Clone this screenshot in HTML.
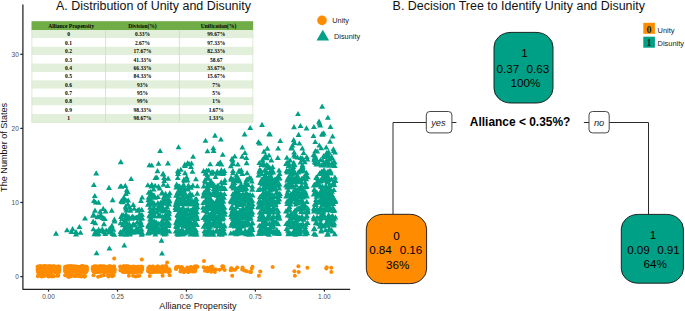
<!DOCTYPE html>
<html><head><meta charset="utf-8"><style>
html,body{margin:0;padding:0;background:#fff;}
svg{display:block;}
svg{font-family:"Liberation Sans",sans-serif;}
</style></head><body>
<svg width="685" height="311" viewBox="0 0 685 311">
<rect width="685" height="311" fill="#fff"/>
<text x="56" y="9.6" font-size="12.45" fill="#111">A. Distribution of Unity and Disunity</text>
<text x="392.6" y="9.9" font-size="12.45" fill="#111">B. Decision Tree to Identify Unity and Disunity</text>
<g fill="#00A087"><path d="M67.0 227.2L70.0 232.3L64.0 232.3ZM72.6 226.1L75.5 231.2L69.6 231.2ZM76.0 229.0L79.0 234.1L73.0 234.1ZM79.4 223.9L82.4 229.0L76.5 229.0ZM80.5 229.7L83.5 234.8L77.5 234.8ZM76.0 231.3L79.0 236.4L73.0 236.4ZM85.0 215.5L88.0 220.6L82.0 220.6ZM71.5 229.0L74.5 234.1L68.5 234.1ZM96.2 170.3L99.2 175.4L93.2 175.4ZM109.0 184.8L112.0 189.9L106.0 189.9ZM112.6 197.1L115.6 202.2L109.7 202.2ZM110.0 227.5L113.0 232.6L107.1 232.6ZM114.4 216.6L117.3 221.7L111.4 221.7ZM109.3 226.1L112.3 231.2L106.4 231.2ZM99.2 213.4L102.2 218.5L96.3 218.5ZM95.0 207.6L97.9 212.7L92.0 212.7ZM95.4 228.9L98.3 234.0L92.4 234.0ZM97.9 230.9L100.9 236.0L95.0 236.0ZM92.9 212.6L95.9 217.7L90.0 217.7ZM93.4 226.2L96.4 231.3L90.5 231.3ZM113.3 226.6L116.2 231.7L110.3 231.7ZM95.7 199.4L98.7 204.5L92.8 204.5ZM113.1 226.7L116.1 231.8L110.2 231.8ZM102.6 214.9L105.6 220.0L99.7 220.0ZM103.2 205.8L106.1 210.9L100.2 210.9ZM97.5 231.4L100.5 236.5L94.6 236.5ZM104.9 216.0L107.8 221.1L101.9 221.1ZM98.5 199.6L101.5 204.7L95.6 204.7ZM98.6 226.7L101.6 231.8L95.7 231.8ZM96.3 228.8L99.3 233.9L93.4 233.9ZM112.6 231.0L115.5 236.1L109.6 236.1ZM93.9 181.9L96.8 187.0L90.9 187.0ZM97.3 214.1L100.3 219.2L94.4 219.2ZM98.3 230.5L101.3 235.6L95.4 235.6ZM114.5 218.4L117.5 223.5L111.6 223.5ZM94.8 192.9L97.7 198.0L91.8 198.0ZM93.9 197.8L96.9 202.9L91.0 202.9ZM114.2 231.6L117.2 236.7L111.3 236.7ZM100.2 208.6L103.1 213.7L97.2 213.7ZM111.0 228.6L114.0 233.7L108.1 233.7ZM102.3 226.3L105.2 231.4L99.3 231.4ZM105.3 230.9L108.2 236.0L102.3 236.0ZM109.6 227.5L112.6 232.6L106.7 232.6ZM94.4 231.2L97.3 236.3L91.4 236.3ZM103.6 215.3L106.5 220.4L100.6 220.4ZM106.2 227.5L109.1 232.6L103.2 232.6ZM105.5 208.3L108.5 213.4L102.6 213.4ZM108.8 229.3L111.8 234.4L105.9 234.4ZM93.9 212.1L96.8 217.2L90.9 217.2ZM111.2 226.6L114.2 231.7L108.3 231.7ZM93.0 218.9L95.9 224.0L90.0 224.0ZM111.9 222.7L114.8 227.8L108.9 227.8ZM111.0 229.5L113.9 234.6L108.0 234.6ZM100.8 228.2L103.8 233.3L97.9 233.3ZM104.1 229.1L107.1 234.2L101.2 234.2ZM95.3 220.1L98.3 225.2L92.4 225.2ZM111.7 207.6L114.7 212.7L108.8 212.7ZM101.1 212.4L104.0 217.5L98.1 217.5ZM111.9 226.0L114.9 231.1L109.0 231.1ZM104.0 221.1L106.9 226.2L101.0 226.2ZM93.1 218.6L96.1 223.7L90.2 223.7ZM120.8 159.1L123.8 164.2L117.8 164.2ZM131.1 175.9L134.0 181.0L128.2 181.0ZM123.7 219.3L126.7 224.4L120.8 224.4ZM139.5 220.7L142.5 225.8L136.6 225.8ZM127.5 230.4L130.5 235.5L124.6 235.5ZM133.2 201.8L136.2 206.9L130.3 206.9ZM128.2 228.9L131.2 234.0L125.3 234.0ZM128.8 214.8L131.7 219.9L125.8 219.9ZM133.0 229.7L136.0 234.8L130.1 234.8ZM130.4 225.9L133.3 231.0L127.4 231.0ZM123.5 227.7L126.4 232.8L120.5 232.8ZM126.3 228.7L129.2 233.8L123.3 233.8ZM132.8 228.6L135.7 233.7L129.8 233.7ZM142.1 194.5L145.1 199.6L139.2 199.6ZM137.2 219.1L140.2 224.2L134.3 224.2ZM134.2 205.7L137.2 210.8L131.3 210.8ZM126.4 219.6L129.4 224.7L123.5 224.7ZM141.0 198.0L143.9 203.1L138.0 203.1ZM137.1 227.3L140.0 232.4L134.1 232.4ZM134.3 222.2L137.2 227.3L131.3 227.3ZM129.2 223.9L132.1 229.0L126.2 229.0ZM127.4 225.8L130.3 230.9L124.4 230.9ZM128.3 222.9L131.3 228.0L125.4 228.0ZM127.9 230.9L130.9 236.0L125.0 236.0ZM139.5 229.0L142.4 234.1L136.5 234.1ZM132.8 222.5L135.7 227.6L129.8 227.6ZM121.7 229.9L124.6 235.0L118.7 235.0ZM136.3 228.4L139.2 233.5L133.3 233.5ZM127.7 189.2L130.7 194.3L124.8 194.3ZM122.0 215.8L125.0 220.9L119.1 220.9ZM142.0 214.8L145.0 219.9L139.1 219.9ZM129.7 204.3L132.6 209.4L126.7 209.4ZM130.9 226.4L133.9 231.5L128.0 231.5ZM125.9 231.6L128.9 236.7L123.0 236.7ZM126.2 227.5L129.1 232.6L123.2 232.6ZM129.1 230.5L132.0 235.6L126.1 235.6ZM139.3 213.0L142.3 218.1L136.4 218.1ZM136.4 226.0L139.4 231.1L133.5 231.1ZM122.0 212.1L124.9 217.2L119.0 217.2ZM127.8 201.3L130.7 206.4L124.8 206.4ZM132.1 226.5L135.0 231.6L129.1 231.6ZM140.6 215.6L143.6 220.7L137.7 220.7ZM136.8 227.9L139.7 233.0L133.8 233.0ZM135.2 222.3L138.2 227.4L132.3 227.4ZM129.4 231.4L132.3 236.5L126.4 236.5ZM127.6 214.0L130.6 219.1L124.7 219.1ZM125.9 214.1L128.9 219.2L123.0 219.2ZM140.7 228.4L143.6 233.5L137.7 233.5ZM121.5 183.6L124.4 188.7L118.5 188.7ZM127.5 216.3L130.4 221.4L124.5 221.4ZM123.4 227.2L126.3 232.3L120.4 232.3ZM138.2 229.2L141.2 234.3L135.3 234.3ZM133.2 221.0L136.2 226.1L130.3 226.1ZM133.5 214.9L136.5 220.0L130.6 220.0ZM125.9 205.3L128.9 210.4L123.0 210.4ZM137.4 207.6L140.3 212.7L134.4 212.7ZM141.8 206.8L144.8 211.9L138.9 211.9ZM131.8 226.1L134.7 231.2L128.8 231.2ZM120.4 228.9L123.4 234.0L117.5 234.0ZM137.3 214.7L140.3 219.8L134.4 219.8ZM125.3 182.8L128.2 187.9L122.3 187.9ZM120.9 230.9L123.8 236.0L117.9 236.0ZM131.3 228.4L134.3 233.5L128.4 233.5ZM141.0 229.5L143.9 234.6L138.0 234.6ZM124.2 227.3L127.1 232.4L121.2 232.4ZM123.8 194.5L126.8 199.6L120.9 199.6ZM125.6 203.7L128.5 208.8L122.6 208.8ZM134.3 222.3L137.2 227.4L131.3 227.4ZM130.4 207.6L133.3 212.7L127.4 212.7ZM122.6 197.7L125.6 202.8L119.7 202.8ZM134.5 229.3L137.4 234.4L131.5 234.4ZM121.6 198.7L124.5 203.8L118.6 203.8ZM140.5 218.7L143.5 223.8L137.6 223.8ZM125.2 215.4L128.1 220.5L122.2 220.5ZM129.8 230.3L132.8 235.4L126.9 235.4ZM137.0 227.9L139.9 233.0L134.0 233.0ZM142.2 230.4L145.1 235.5L139.2 235.5ZM123.7 219.2L126.6 224.3L120.7 224.3ZM126.1 197.6L129.1 202.7L123.2 202.7ZM126.5 207.5L129.4 212.6L123.5 212.6ZM139.9 223.3L142.8 228.4L136.9 228.4ZM133.4 214.2L136.4 219.3L130.5 219.3ZM139.7 215.6L142.7 220.7L136.8 220.7ZM128.2 197.4L131.1 202.5L125.2 202.5ZM124.3 196.9L127.2 202.0L121.3 202.0ZM126.8 187.1L129.8 192.2L123.9 192.2ZM141.7 231.6L144.7 236.7L138.8 236.7ZM123.6 197.7L126.5 202.8L120.6 202.8ZM124.0 227.7L126.9 232.8L121.0 232.8ZM127.7 226.3L130.7 231.4L124.8 231.4ZM139.7 211.1L142.7 216.2L136.8 216.2ZM125.4 227.0L128.4 232.1L122.5 232.1ZM121.1 213.9L124.0 219.0L118.1 219.0ZM129.7 231.1L132.7 236.2L126.8 236.2ZM142.1 229.8L145.1 234.9L139.2 234.9ZM122.9 199.2L125.8 204.3L119.9 204.3ZM129.7 230.6L132.6 235.7L126.7 235.7ZM123.5 212.5L126.4 217.6L120.5 217.6ZM122.7 222.2L125.7 227.3L119.8 227.3ZM140.5 222.2L143.5 227.3L137.6 227.3ZM141.6 226.5L144.5 231.6L138.6 231.6ZM126.3 215.8L129.2 220.9L123.3 220.9ZM121.8 231.4L124.7 236.5L118.8 236.5ZM129.2 221.0L132.2 226.1L126.3 226.1ZM120.5 220.2L123.4 225.3L117.5 225.3ZM132.2 213.6L135.2 218.7L129.3 218.7ZM141.9 211.7L144.9 216.8L139.0 216.8ZM129.0 215.0L132.0 220.1L126.1 220.1ZM141.7 222.0L144.7 227.1L138.8 227.1ZM129.3 223.4L132.2 228.5L126.3 228.5ZM120.3 183.6L123.3 188.7L117.4 188.7ZM125.9 191.0L128.8 196.1L122.9 196.1ZM125.5 223.1L128.5 228.2L122.6 228.2ZM138.8 227.1L141.8 232.2L135.9 232.2ZM121.3 197.9L124.3 203.0L118.4 203.0ZM134.5 228.4L137.4 233.5L131.5 233.5ZM141.7 231.7L144.6 236.8L138.7 236.8ZM139.1 206.4L142.0 211.5L136.1 211.5ZM142.2 215.5L145.1 220.6L139.2 220.6ZM136.6 214.6L139.6 219.7L133.7 219.7ZM128.9 213.8L131.9 218.9L126.0 218.9ZM135.2 215.0L138.1 220.1L132.2 220.1ZM132.2 215.6L135.2 220.7L129.3 220.7ZM126.1 211.5L129.0 216.6L123.1 216.6ZM160.1 147.9L163.0 153.0L157.2 153.0ZM158.5 160.7L161.4 165.8L155.6 165.8ZM151.4 220.9L154.3 226.0L148.4 226.0ZM165.3 192.6L168.3 197.7L162.4 197.7ZM159.2 226.5L162.2 231.6L156.3 231.6ZM164.1 223.3L167.1 228.4L161.2 228.4ZM149.0 222.5L152.0 227.6L146.1 227.6ZM169.2 211.2L172.1 216.3L166.2 216.3ZM154.7 218.7L157.6 223.8L151.7 223.8ZM154.9 221.7L157.9 226.8L152.0 226.8ZM153.6 229.4L156.5 234.5L150.6 234.5ZM169.1 215.3L172.0 220.4L166.1 220.4ZM167.9 221.6L170.8 226.7L164.9 226.7ZM161.9 190.0L164.8 195.1L158.9 195.1ZM151.2 219.8L154.1 224.9L148.2 224.9ZM160.2 212.9L163.1 218.0L157.2 218.0ZM153.9 199.9L156.9 205.0L151.0 205.0ZM159.5 185.5L162.5 190.6L156.6 190.6ZM153.6 204.9L156.5 210.0L150.6 210.0ZM166.1 228.3L169.0 233.4L163.1 233.4ZM168.6 215.3L171.5 220.4L165.6 220.4ZM149.4 221.0L152.3 226.1L146.4 226.1ZM162.8 199.6L165.7 204.7L159.8 204.7ZM150.3 192.8L153.2 197.9L147.3 197.9ZM169.2 198.3L172.1 203.4L166.2 203.4ZM164.9 199.7L167.9 204.8L162.0 204.8ZM164.2 177.8L167.2 182.9L161.3 182.9ZM165.6 214.8L168.6 219.9L162.7 219.9ZM167.1 221.1L170.0 226.2L164.1 226.2ZM162.6 204.1L165.5 209.2L159.6 209.2ZM155.3 231.3L158.3 236.4L152.4 236.4ZM158.9 211.8L161.9 216.9L156.0 216.9ZM160.6 199.7L163.5 204.8L157.6 204.8ZM153.9 204.5L156.8 209.6L150.9 209.6ZM166.3 193.8L169.3 198.9L163.4 198.9ZM164.5 199.1L167.4 204.2L161.5 204.2ZM167.7 182.8L170.6 187.9L164.7 187.9ZM162.1 189.4L165.1 194.5L159.2 194.5ZM163.4 227.5L166.3 232.6L160.4 232.6ZM153.9 209.1L156.8 214.2L150.9 214.2ZM166.0 207.9L169.0 213.0L163.1 213.0ZM152.8 223.7L155.7 228.8L149.8 228.8ZM169.3 197.3L172.3 202.4L166.4 202.4ZM163.3 216.5L166.2 221.6L160.3 221.6ZM155.0 194.6L158.0 199.7L152.1 199.7ZM150.9 207.8L153.8 212.9L147.9 212.9ZM157.7 228.4L160.6 233.5L154.7 233.5ZM148.7 189.7L151.6 194.8L145.7 194.8ZM152.8 228.0L155.7 233.1L149.8 233.1ZM155.1 213.5L158.1 218.6L152.2 218.6ZM165.3 223.1L168.3 228.2L162.4 228.2ZM165.7 191.5L168.6 196.6L162.7 196.6ZM165.0 231.5L167.9 236.6L162.0 236.6ZM157.2 209.1L160.1 214.2L154.2 214.2ZM163.8 206.0L166.8 211.1L160.9 211.1ZM159.1 213.4L162.1 218.5L156.2 218.5ZM167.0 218.4L169.9 223.5L164.0 223.5ZM169.0 192.7L172.0 197.8L166.1 197.8ZM149.4 162.2L152.3 167.3L146.4 167.3ZM157.8 227.7L160.8 232.8L154.9 232.8ZM157.9 200.0L160.8 205.1L154.9 205.1ZM156.7 222.6L159.7 227.7L153.8 227.7ZM164.1 221.2L167.0 226.3L161.1 226.3ZM152.2 212.7L155.1 217.8L149.2 217.8ZM153.7 221.0L156.6 226.1L150.7 226.1ZM169.3 197.6L172.3 202.7L166.4 202.7ZM168.1 175.6L171.1 180.7L165.2 180.7ZM149.2 200.8L152.2 205.9L146.3 205.9ZM166.9 227.4L169.8 232.5L163.9 232.5ZM153.6 207.4L156.6 212.5L150.7 212.5ZM161.8 218.4L164.7 223.5L158.8 223.5ZM148.8 223.3L151.8 228.4L145.9 228.4ZM167.7 212.1L170.6 217.2L164.7 217.2ZM150.1 216.3L153.0 221.4L147.1 221.4ZM165.0 228.9L167.9 234.0L162.0 234.0ZM167.9 160.3L170.9 165.4L165.0 165.4ZM166.0 216.1L168.9 221.2L163.0 221.2ZM160.3 228.7L163.2 233.8L157.3 233.8ZM153.4 224.2L156.3 229.3L150.4 229.3ZM163.5 181.6L166.4 186.7L160.5 186.7ZM157.5 168.1L160.4 173.2L154.5 173.2ZM165.7 211.9L168.7 217.0L162.8 217.0ZM148.1 230.4L151.1 235.5L145.2 235.5ZM156.2 209.4L159.1 214.5L153.2 214.5ZM165.2 191.9L168.1 197.0L162.2 197.0ZM167.4 228.5L170.4 233.6L164.5 233.6ZM155.0 228.0L157.9 233.1L152.0 233.1ZM158.5 183.5L161.5 188.6L155.6 188.6ZM153.2 218.9L156.1 224.0L150.2 224.0ZM150.1 213.4L153.1 218.5L147.2 218.5ZM152.2 229.0L155.2 234.1L149.3 234.1ZM161.9 205.3L164.8 210.4L158.9 210.4ZM149.3 212.6L152.3 217.7L146.4 217.7ZM158.2 229.3L161.2 234.4L155.3 234.4ZM163.6 200.6L166.5 205.7L160.6 205.7ZM163.1 199.3L166.0 204.4L160.1 204.4ZM167.9 228.2L170.8 233.3L164.9 233.3ZM153.1 225.9L156.0 231.0L150.1 231.0ZM156.5 219.6L159.4 224.7L153.5 224.7ZM161.8 190.3L164.8 195.4L158.9 195.4ZM149.9 225.9L152.8 231.0L146.9 231.0ZM148.7 194.4L151.6 199.5L145.7 199.5ZM168.4 223.0L171.3 228.1L165.4 228.1ZM168.4 198.3L171.3 203.4L165.4 203.4ZM153.6 186.3L156.6 191.4L150.7 191.4ZM164.5 231.1L167.5 236.2L161.6 236.2ZM163.5 171.3L166.4 176.4L160.5 176.4ZM151.4 191.6L154.4 196.7L148.5 196.7ZM165.2 226.4L168.1 231.5L162.2 231.5ZM147.9 182.2L150.8 187.3L144.9 187.3ZM166.0 206.5L168.9 211.6L163.0 211.6ZM160.9 204.7L163.9 209.8L158.0 209.8ZM149.0 228.5L152.0 233.6L146.1 233.6ZM156.6 224.2L159.5 229.3L153.6 229.3ZM148.4 197.1L151.3 202.2L145.4 202.2ZM157.9 193.9L160.9 199.0L155.0 199.0ZM152.4 199.5L155.3 204.6L149.4 204.6ZM169.4 228.5L172.3 233.6L166.4 233.6ZM149.9 212.6L152.8 217.7L146.9 217.7ZM166.5 194.1L169.5 199.2L163.6 199.2ZM154.5 212.4L157.5 217.5L151.6 217.5ZM161.2 225.9L164.2 231.0L158.3 231.0ZM148.0 201.6L150.9 206.7L145.0 206.7ZM163.1 228.2L166.1 233.3L160.2 233.3ZM157.9 207.1L160.8 212.2L154.9 212.2ZM162.1 204.0L165.1 209.1L159.2 209.1ZM165.4 196.7L168.4 201.8L162.5 201.8ZM163.6 194.5L166.6 199.6L160.7 199.6ZM166.6 199.5L169.5 204.6L163.6 204.6ZM151.8 181.7L154.7 186.8L148.8 186.8ZM163.4 215.4L166.4 220.5L160.5 220.5ZM155.5 222.4L158.5 227.5L152.6 227.5ZM157.6 225.9L160.5 231.0L154.6 231.0ZM168.4 197.5L171.3 202.6L165.4 202.6ZM169.8 190.2L172.7 195.3L166.8 195.3ZM153.3 221.8L156.3 226.9L150.4 226.9ZM152.9 226.5L155.9 231.6L150.0 231.6ZM155.1 182.7L158.0 187.8L152.1 187.8ZM167.5 197.4L170.4 202.5L164.5 202.5ZM150.1 204.6L153.1 209.7L147.2 209.7ZM161.7 222.1L164.6 227.2L158.7 227.2ZM169.1 208.5L172.1 213.6L166.2 213.6ZM162.2 206.3L165.1 211.4L159.2 211.4ZM156.8 174.4L159.8 179.5L153.9 179.5ZM169.2 201.5L172.1 206.6L166.2 206.6ZM154.2 218.9L157.1 224.0L151.2 224.0ZM153.6 227.5L156.5 232.6L150.6 232.6ZM151.7 162.4L154.7 167.5L148.8 167.5ZM163.1 197.6L166.0 202.7L160.1 202.7ZM153.3 200.5L156.3 205.6L150.4 205.6ZM163.1 230.5L166.0 235.6L160.1 235.6ZM169.1 220.5L172.1 225.6L166.2 225.6ZM162.3 205.9L165.3 211.0L159.4 211.0ZM154.5 201.7L157.5 206.8L151.6 206.8ZM148.1 229.6L151.1 234.7L145.2 234.7ZM150.3 228.8L153.3 233.9L147.4 233.9ZM163.0 170.8L165.9 175.9L160.0 175.9ZM151.8 201.5L154.7 206.6L148.8 206.6ZM156.9 220.2L159.8 225.3L153.9 225.3ZM163.9 216.3L166.8 221.4L160.9 221.4ZM155.4 174.9L158.3 180.0L152.4 180.0ZM166.1 230.4L169.1 235.5L163.2 235.5ZM165.5 190.7L168.5 195.8L162.6 195.8ZM148.0 223.2L151.0 228.3L145.1 228.3ZM151.3 183.3L154.3 188.4L148.4 188.4ZM162.4 208.4L165.4 213.5L159.5 213.5ZM150.0 225.9L152.9 231.0L147.0 231.0ZM162.2 213.5L165.2 218.6L159.3 218.6ZM149.3 224.2L152.2 229.3L146.3 229.3ZM150.7 188.9L153.6 194.0L147.7 194.0ZM163.8 216.1L166.7 221.2L160.8 221.2ZM153.4 192.5L156.3 197.6L150.4 197.6ZM150.3 208.0L153.2 213.1L147.3 213.1ZM154.1 192.4L157.1 197.5L151.2 197.5ZM152.8 200.9L155.7 206.0L149.8 206.0ZM156.3 222.1L159.3 227.2L153.4 227.2ZM158.2 204.3L161.2 209.4L155.3 209.4ZM162.5 226.7L165.4 231.8L159.5 231.8ZM148.5 221.7L151.4 226.8L145.5 226.8ZM158.0 227.5L160.9 232.6L155.0 232.6ZM150.4 228.9L153.4 234.0L147.5 234.0ZM152.9 221.7L155.9 226.8L150.0 226.8ZM149.3 229.6L152.3 234.7L146.4 234.7ZM168.5 213.6L171.4 218.7L165.5 218.7ZM152.7 227.3L155.7 232.4L149.8 232.4ZM167.0 203.8L170.0 208.9L164.1 208.9ZM150.3 189.1L153.2 194.2L147.3 194.2ZM153.1 208.5L156.1 213.6L150.2 213.6ZM152.5 194.2L155.5 199.3L149.6 199.3ZM168.2 221.6L171.2 226.7L165.3 226.7ZM149.5 199.4L152.4 204.5L146.5 204.5ZM152.4 220.4L155.3 225.5L149.4 225.5ZM150.5 211.0L153.4 216.1L147.5 216.1ZM151.8 216.8L154.7 221.9L148.8 221.9ZM159.2 201.9L162.1 207.0L156.2 207.0ZM164.2 213.7L167.1 218.8L161.2 218.8ZM158.8 220.7L161.8 225.8L155.9 225.8ZM151.0 197.3L154.0 202.4L148.1 202.4ZM164.2 174.8L167.1 179.9L161.2 179.9ZM178.5 144.2L181.4 149.3L175.6 149.3ZM193.1 153.7L196.0 158.8L190.2 158.8ZM196.7 231.4L199.6 236.5L193.7 236.5ZM192.4 223.5L195.3 228.6L189.4 228.6ZM177.0 230.7L179.9 235.8L174.0 235.8ZM193.8 208.5L196.8 213.6L190.9 213.6ZM192.3 221.8L195.2 226.9L189.3 226.9ZM178.1 215.4L181.1 220.5L175.2 220.5ZM178.0 170.9L180.9 176.0L175.0 176.0ZM195.1 196.7L198.0 201.8L192.1 201.8ZM196.5 213.3L199.5 218.4L193.6 218.4ZM185.7 220.0L188.6 225.1L182.7 225.1ZM178.3 200.9L181.2 206.0L175.3 206.0ZM177.8 175.0L180.7 180.1L174.8 180.1ZM180.9 215.4L183.8 220.5L177.9 220.5ZM197.3 216.0L200.2 221.1L194.3 221.1ZM182.5 193.6L185.5 198.7L179.6 198.7ZM183.0 201.0L185.9 206.1L180.0 206.1ZM193.5 211.8L196.5 216.9L190.6 216.9ZM175.6 204.9L178.6 210.0L172.7 210.0ZM195.3 203.8L198.2 208.9L192.3 208.9ZM194.1 219.4L197.1 224.5L191.2 224.5ZM183.5 222.1L186.4 227.2L180.5 227.2ZM183.8 216.2L186.7 221.3L180.8 221.3ZM195.5 221.9L198.4 227.0L192.5 227.0ZM195.0 205.0L197.9 210.1L192.0 210.1ZM195.7 219.5L198.7 224.6L192.8 224.6ZM191.5 160.5L194.4 165.6L188.5 165.6ZM181.0 190.8L184.0 195.9L178.1 195.9ZM193.9 216.1L196.9 221.2L191.0 221.2ZM182.8 204.6L185.8 209.7L179.9 209.7ZM194.0 211.9L197.0 217.0L191.1 217.0ZM178.5 189.1L181.4 194.2L175.5 194.2ZM190.4 198.2L193.3 203.3L187.4 203.3ZM194.6 228.5L197.6 233.6L191.7 233.6ZM182.9 212.2L185.9 217.3L180.0 217.3ZM194.6 200.8L197.6 205.9L191.7 205.9ZM180.9 216.3L183.9 221.4L178.0 221.4ZM176.0 219.6L178.9 224.7L173.0 224.7ZM177.0 223.9L179.9 229.0L174.0 229.0ZM179.8 199.3L182.7 204.4L176.8 204.4ZM193.1 211.2L196.1 216.3L190.2 216.3ZM189.4 219.0L192.3 224.1L186.4 224.1ZM195.3 212.5L198.2 217.6L192.3 217.6ZM194.7 220.9L197.7 226.0L191.8 226.0ZM188.4 226.8L191.3 231.9L185.4 231.9ZM186.1 207.0L189.0 212.1L183.1 212.1ZM190.1 193.4L193.1 198.5L187.2 198.5ZM183.4 211.2L186.4 216.3L180.5 216.3ZM178.2 196.6L181.1 201.7L175.2 201.7ZM188.5 229.1L191.4 234.2L185.5 234.2ZM184.9 201.5L187.8 206.6L181.9 206.6ZM193.5 204.8L196.5 209.9L190.6 209.9ZM180.3 212.5L183.3 217.6L177.4 217.6ZM180.2 189.4L183.2 194.5L177.3 194.5ZM185.0 162.8L187.9 167.9L182.0 167.9ZM195.9 200.9L198.9 206.0L193.0 206.0ZM182.7 220.0L185.6 225.1L179.7 225.1ZM187.5 221.3L190.4 226.4L184.5 226.4ZM178.6 196.4L181.5 201.5L175.6 201.5ZM187.8 160.3L190.7 165.4L184.8 165.4ZM195.5 221.0L198.5 226.1L192.6 226.1ZM194.6 199.9L197.5 205.0L191.6 205.0ZM180.0 187.1L182.9 192.2L177.0 192.2ZM195.2 204.1L198.2 209.2L192.3 209.2ZM186.7 174.3L189.6 179.4L183.7 179.4ZM178.6 205.7L181.5 210.8L175.6 210.8ZM184.8 191.1L187.7 196.2L181.8 196.2ZM181.5 221.8L184.5 226.9L178.6 226.9ZM185.8 208.9L188.7 214.0L182.8 214.0ZM182.9 227.5L185.9 232.6L180.0 232.6ZM180.6 200.5L183.6 205.6L177.7 205.6ZM179.3 205.9L182.2 211.0L176.3 211.0ZM179.9 183.8L182.8 188.9L176.9 188.9ZM192.0 197.8L194.9 202.9L189.0 202.9ZM181.4 197.1L184.4 202.2L178.5 202.2ZM176.6 181.6L179.5 186.7L173.6 186.7ZM177.3 216.5L180.3 221.6L174.4 221.6ZM190.4 201.2L193.3 206.3L187.4 206.3ZM189.5 211.0L192.5 216.1L186.6 216.1ZM192.3 215.4L195.3 220.5L189.4 220.5ZM179.0 221.9L181.9 227.0L176.0 227.0ZM182.1 208.5L185.1 213.6L179.2 213.6ZM177.3 223.1L180.2 228.2L174.3 228.2ZM186.6 223.2L189.5 228.3L183.6 228.3ZM185.1 211.1L188.1 216.2L182.2 216.2ZM196.3 214.1L199.2 219.2L193.3 219.2ZM188.5 223.4L191.4 228.5L185.5 228.5ZM177.0 220.1L180.0 225.2L174.1 225.2ZM184.3 177.7L187.3 182.8L181.4 182.8ZM183.2 212.8L186.1 217.9L180.2 217.9ZM178.8 211.8L181.7 216.9L175.8 216.9ZM175.6 204.4L178.5 209.5L172.6 209.5ZM183.2 198.3L186.2 203.4L180.3 203.4ZM184.3 184.7L187.2 189.8L181.3 189.8ZM187.6 220.4L190.6 225.5L184.7 225.5ZM196.4 201.2L199.3 206.3L193.4 206.3ZM194.2 212.2L197.2 217.3L191.3 217.3ZM190.4 207.5L193.3 212.6L187.4 212.6ZM187.5 177.4L190.5 182.5L184.6 182.5ZM178.0 219.0L180.9 224.1L175.0 224.1ZM176.0 192.7L179.0 197.8L173.1 197.8ZM186.4 214.7L189.3 219.8L183.4 219.8ZM183.1 184.1L186.1 189.2L180.2 189.2ZM189.5 184.4L192.5 189.5L186.6 189.5ZM184.0 213.3L186.9 218.4L181.0 218.4ZM181.2 199.9L184.1 205.0L178.2 205.0ZM183.4 211.5L186.4 216.6L180.5 216.6ZM181.5 207.5L184.5 212.6L178.6 212.6ZM179.0 190.6L181.9 195.7L176.0 195.7ZM179.7 231.4L182.6 236.5L176.7 236.5ZM178.7 193.3L181.6 198.4L175.7 198.4ZM181.2 227.4L184.2 232.5L178.3 232.5ZM195.5 196.5L198.5 201.6L192.6 201.6ZM195.8 208.9L198.7 214.0L192.8 214.0ZM185.0 186.1L187.9 191.2L182.0 191.2ZM194.4 199.8L197.3 204.9L191.4 204.9ZM194.7 227.2L197.6 232.3L191.7 232.3ZM197.0 209.2L199.9 214.3L194.0 214.3ZM178.2 231.6L181.1 236.7L175.2 236.7ZM189.3 201.4L192.3 206.5L186.4 206.5ZM179.4 228.1L182.4 233.2L176.5 233.2ZM196.8 199.9L199.8 205.0L193.9 205.0ZM185.0 170.1L188.0 175.2L182.1 175.2ZM180.5 218.5L183.5 223.6L177.6 223.6ZM191.0 164.0L193.9 169.1L188.0 169.1ZM178.8 222.2L181.7 227.3L175.8 227.3ZM176.7 198.9L179.7 204.0L173.8 204.0ZM176.2 199.5L179.1 204.6L173.2 204.6ZM188.1 199.4L191.1 204.5L185.2 204.5ZM188.7 192.7L191.6 197.8L185.7 197.8ZM196.2 211.8L199.2 216.9L193.3 216.9ZM187.8 186.4L190.7 191.5L184.8 191.5ZM183.9 220.2L186.8 225.3L180.9 225.3ZM193.1 227.0L196.1 232.1L190.2 232.1ZM175.5 204.7L178.5 209.8L172.6 209.8ZM190.2 213.5L193.1 218.6L187.2 218.6ZM184.4 196.4L187.4 201.5L181.5 201.5ZM195.9 176.2L198.9 181.3L193.0 181.3ZM183.7 222.7L186.7 227.8L180.8 227.8ZM192.9 182.6L195.8 187.7L189.9 187.7ZM197.3 190.6L200.2 195.7L194.3 195.7ZM192.1 222.7L195.1 227.8L189.2 227.8ZM178.9 204.4L181.9 209.5L176.0 209.5ZM181.5 211.4L184.4 216.5L178.5 216.5ZM195.9 227.2L198.9 232.3L193.0 232.3ZM192.2 228.3L195.2 233.4L189.3 233.4ZM188.4 184.7L191.3 189.8L185.4 189.8ZM177.3 182.6L180.3 187.7L174.4 187.7ZM181.5 231.0L184.5 236.1L178.6 236.1ZM185.2 190.3L188.1 195.4L182.2 195.4ZM191.5 220.4L194.5 225.5L188.6 225.5ZM186.3 227.4L189.3 232.5L183.4 232.5ZM189.9 222.6L192.8 227.7L186.9 227.7ZM195.7 211.3L198.7 216.4L192.8 216.4ZM184.8 161.6L187.8 166.7L181.9 166.7ZM192.2 191.9L195.1 197.0L189.2 197.0ZM184.3 189.0L187.2 194.1L181.3 194.1ZM178.0 212.4L181.0 217.5L175.1 217.5ZM190.4 231.4L193.4 236.5L187.5 236.5ZM187.4 160.6L190.3 165.7L184.4 165.7ZM189.5 229.5L192.4 234.6L186.5 234.6ZM193.4 224.1L196.4 229.2L190.5 229.2ZM177.3 211.8L180.3 216.9L174.4 216.9ZM176.2 184.5L179.1 189.6L173.2 189.6ZM191.3 212.6L194.2 217.7L188.3 217.7ZM196.0 215.8L199.0 220.9L193.1 220.9ZM193.4 231.0L196.3 236.1L190.4 236.1ZM186.5 222.3L189.4 227.4L183.5 227.4ZM195.9 228.9L198.9 234.0L193.0 234.0ZM180.9 196.7L183.9 201.8L178.0 201.8ZM195.4 220.7L198.4 225.8L192.5 225.8ZM192.4 168.7L195.4 173.8L189.5 173.8ZM194.3 206.8L197.2 211.9L191.3 211.9ZM195.6 226.9L198.5 232.0L192.6 232.0ZM191.9 200.7L194.8 205.8L188.9 205.8ZM193.6 211.2L196.5 216.3L190.6 216.3ZM179.0 183.2L181.9 188.3L176.0 188.3ZM184.4 208.5L187.3 213.6L181.4 213.6ZM185.8 228.8L188.7 233.9L182.8 233.9ZM183.5 221.0L186.5 226.1L180.6 226.1ZM188.4 201.1L191.4 206.2L185.5 206.2ZM183.5 181.6L186.5 186.7L180.6 186.7ZM178.5 169.0L181.5 174.1L175.6 174.1ZM183.9 176.6L186.9 181.7L181.0 181.7ZM176.0 223.1L179.0 228.2L173.1 228.2ZM181.7 228.0L184.6 233.1L178.7 233.1ZM196.3 205.4L199.3 210.5L193.4 210.5ZM196.4 213.1L199.3 218.2L193.4 218.2ZM194.5 205.5L197.4 210.6L191.5 210.6ZM188.8 215.1L191.7 220.2L185.8 220.2ZM180.8 166.7L183.8 171.8L177.9 171.8ZM175.6 228.4L178.6 233.5L172.7 233.5ZM186.6 223.6L189.6 228.7L183.7 228.7ZM190.2 190.6L193.1 195.7L187.2 195.7ZM197.3 183.2L200.3 188.3L194.4 188.3ZM175.5 201.8L178.4 206.9L172.5 206.9ZM196.8 215.0L199.8 220.1L193.9 220.1ZM175.6 207.0L178.6 212.1L172.7 212.1ZM188.4 182.4L191.4 187.5L185.5 187.5ZM179.9 230.6L182.8 235.7L176.9 235.7ZM177.7 189.1L180.6 194.2L174.7 194.2ZM194.8 221.2L197.8 226.3L191.9 226.3ZM196.7 221.9L199.7 227.0L193.8 227.0ZM176.9 197.1L179.8 202.2L173.9 202.2ZM177.9 168.0L180.8 173.1L174.9 173.1ZM178.7 222.1L181.6 227.2L175.7 227.2ZM196.5 196.2L199.4 201.3L193.5 201.3ZM189.2 161.1L192.1 166.2L186.2 166.2ZM191.4 228.4L194.4 233.5L188.5 233.5ZM195.3 215.4L198.2 220.5L192.3 220.5ZM178.9 230.8L181.9 235.9L176.0 235.9ZM193.1 208.5L196.0 213.6L190.1 213.6ZM188.1 206.2L191.0 211.3L185.1 211.3ZM187.4 216.8L190.4 221.9L184.5 221.9ZM184.7 230.3L187.7 235.4L181.8 235.4ZM180.8 197.2L183.7 202.3L177.8 202.3ZM177.5 221.5L180.4 226.6L174.5 226.6ZM182.8 212.3L185.8 217.4L179.9 217.4ZM190.2 219.3L193.2 224.4L187.3 224.4ZM186.5 211.4L189.5 216.5L183.6 216.5ZM179.4 209.1L182.4 214.2L176.5 214.2ZM182.7 231.2L185.7 236.3L179.8 236.3ZM184.8 207.6L187.7 212.7L181.8 212.7ZM196.1 208.0L199.0 213.1L193.1 213.1ZM182.2 229.8L185.1 234.9L179.2 234.9ZM191.0 184.7L194.0 189.8L188.1 189.8ZM176.4 223.6L179.4 228.7L173.5 228.7ZM189.7 193.7L192.7 198.8L186.8 198.8ZM176.7 206.5L179.7 211.6L173.8 211.6ZM177.7 212.5L180.6 217.6L174.7 217.6ZM186.7 201.1L189.6 206.2L183.7 206.2ZM185.0 198.1L187.9 203.2L182.0 203.2ZM195.3 231.7L198.3 236.8L192.4 236.8ZM184.2 223.1L187.2 228.2L181.3 228.2ZM190.6 225.8L193.5 230.9L187.6 230.9ZM181.3 212.9L184.2 218.0L178.3 218.0ZM184.3 220.2L187.2 225.3L181.3 225.3ZM178.9 216.5L181.8 221.6L175.9 221.6ZM197.3 204.0L200.2 209.1L194.3 209.1ZM186.5 228.8L189.5 233.9L183.6 233.9ZM190.2 221.4L193.1 226.5L187.2 226.5ZM181.9 189.1L184.8 194.2L178.9 194.2ZM185.9 193.8L188.8 198.9L182.9 198.9ZM178.2 212.8L181.2 217.9L175.3 217.9ZM188.2 196.3L191.1 201.4L185.2 201.4ZM191.2 227.0L194.2 232.1L188.3 232.1ZM182.5 231.4L185.5 236.5L179.6 236.5ZM191.4 207.4L194.3 212.5L188.4 212.5ZM183.5 197.8L186.5 202.9L180.6 202.9ZM197.0 221.7L200.0 226.8L194.1 226.8ZM177.4 227.4L180.4 232.5L174.5 232.5ZM189.5 193.7L192.4 198.8L186.5 198.8ZM215.0 132.6L217.9 137.7L212.1 137.7ZM205.5 137.7L208.4 142.8L202.6 142.8ZM220.9 136.4L223.8 141.5L218.0 141.5ZM221.9 222.9L224.9 228.0L219.0 228.0ZM211.3 201.8L214.3 206.9L208.4 206.9ZM220.9 185.6L223.8 190.7L217.9 190.7ZM213.6 181.4L216.5 186.5L210.6 186.5ZM211.4 230.4L214.3 235.5L208.4 235.5ZM220.2 197.1L223.1 202.2L217.2 202.2ZM211.6 197.3L214.5 202.4L208.6 202.4ZM208.7 227.2L211.7 232.3L205.8 232.3ZM224.9 208.9L227.9 214.0L222.0 214.0ZM207.7 209.5L210.6 214.6L204.7 214.6ZM205.0 229.5L208.0 234.6L202.1 234.6ZM214.2 207.8L217.2 212.9L211.3 212.9ZM214.4 188.8L217.3 193.9L211.4 193.9ZM214.3 221.4L217.2 226.5L211.3 226.5ZM222.0 215.6L225.0 220.7L219.1 220.7ZM210.9 177.8L213.9 182.9L208.0 182.9ZM215.4 200.4L218.4 205.5L212.5 205.5ZM224.1 229.5L227.0 234.6L221.1 234.6ZM217.5 228.6L220.4 233.7L214.5 233.7ZM210.3 211.9L213.2 217.0L207.3 217.0ZM212.2 211.2L215.2 216.3L209.3 216.3ZM211.9 215.9L214.8 221.0L208.9 221.0ZM217.7 192.0L220.6 197.1L214.7 197.1ZM208.1 204.8L211.1 209.9L205.2 209.9ZM221.4 207.3L224.3 212.4L218.4 212.4ZM203.6 193.4L206.6 198.5L200.7 198.5ZM218.1 161.0L221.0 166.1L215.1 166.1ZM213.4 208.3L216.4 213.4L210.5 213.4ZM217.2 220.2L220.2 225.3L214.3 225.3ZM217.2 216.1L220.2 221.2L214.3 221.2ZM206.8 199.0L209.7 204.1L203.8 204.1ZM215.2 216.1L218.1 221.2L212.2 221.2ZM216.6 208.7L219.6 213.8L213.7 213.8ZM218.0 213.6L220.9 218.7L215.0 218.7ZM220.2 198.7L223.2 203.8L217.3 203.8ZM212.8 219.4L215.7 224.5L209.8 224.5ZM219.6 199.9L222.6 205.0L216.7 205.0ZM224.4 204.6L227.4 209.7L221.5 209.7ZM205.4 191.0L208.3 196.1L202.4 196.1ZM223.6 225.9L226.6 231.0L220.7 231.0ZM208.9 189.6L211.9 194.7L206.0 194.7ZM221.3 221.2L224.2 226.3L218.3 226.3ZM222.7 229.1L225.6 234.2L219.7 234.2ZM218.2 184.1L221.2 189.2L215.3 189.2ZM207.5 174.5L210.4 179.6L204.5 179.6ZM203.6 214.9L206.5 220.0L200.6 220.0ZM204.6 228.0L207.5 233.1L201.6 233.1ZM206.5 230.0L209.5 235.1L203.6 235.1ZM223.3 211.5L226.3 216.6L220.4 216.6ZM224.9 177.2L227.8 182.3L221.9 182.3ZM209.2 181.8L212.2 186.9L206.3 186.9ZM219.2 185.9L222.1 191.0L216.2 191.0ZM223.4 228.4L226.4 233.5L220.5 233.5ZM222.0 201.2L225.0 206.3L219.1 206.3ZM213.2 190.0L216.2 195.1L210.3 195.1ZM207.3 203.8L210.3 208.9L204.4 208.9ZM219.4 212.0L222.4 217.1L216.5 217.1ZM218.3 221.9L221.3 227.0L215.4 227.0ZM207.8 218.6L210.7 223.7L204.8 223.7ZM214.3 213.9L217.2 219.0L211.3 219.0ZM219.6 227.3L222.6 232.4L216.7 232.4ZM210.9 178.6L213.8 183.7L207.9 183.7ZM219.2 213.0L222.1 218.1L216.2 218.1ZM214.6 208.6L217.5 213.7L211.6 213.7ZM213.4 169.4L216.4 174.5L210.5 174.5ZM207.4 183.0L210.3 188.1L204.4 188.1ZM220.9 216.3L223.9 221.4L218.0 221.4ZM217.0 214.0L220.0 219.1L214.1 219.1ZM215.8 215.6L218.7 220.7L212.8 220.7ZM203.0 204.7L206.0 209.8L200.1 209.8ZM221.3 221.0L224.3 226.1L218.4 226.1ZM216.8 201.3L219.8 206.4L213.9 206.4ZM209.5 182.1L212.4 187.2L206.5 187.2ZM218.0 182.4L220.9 187.5L215.0 187.5ZM217.9 203.8L220.8 208.9L214.9 208.9ZM205.2 221.9L208.2 227.0L202.3 227.0ZM206.3 208.2L209.2 213.3L203.3 213.3ZM211.6 179.0L214.5 184.1L208.6 184.1ZM215.8 223.2L218.7 228.3L212.8 228.3ZM214.9 206.9L217.8 212.0L211.9 212.0ZM221.5 209.4L224.4 214.5L218.5 214.5ZM207.4 172.2L210.4 177.3L204.5 177.3ZM215.6 191.5L218.5 196.6L212.6 196.6ZM220.2 222.5L223.2 227.6L217.3 227.6ZM208.0 191.3L211.0 196.4L205.1 196.4ZM211.2 191.8L214.2 196.9L208.3 196.9ZM217.2 227.6L220.2 232.7L214.3 232.7ZM215.2 219.9L218.1 225.0L212.2 225.0ZM221.5 226.5L224.5 231.6L218.6 231.6ZM208.5 231.2L211.4 236.3L205.5 236.3ZM204.9 221.4L207.9 226.5L202.0 226.5ZM209.6 221.6L212.6 226.7L206.7 226.7ZM220.4 212.6L223.4 217.7L217.5 217.7ZM207.9 231.7L210.9 236.8L205.0 236.8ZM205.4 212.8L208.3 217.9L202.4 217.9ZM225.0 186.0L227.9 191.1L222.0 191.1ZM219.7 229.3L222.7 234.4L216.8 234.4ZM211.7 170.6L214.6 175.7L208.7 175.7ZM223.9 228.7L226.9 233.8L221.0 233.8ZM212.7 204.9L215.6 210.0L209.7 210.0ZM213.5 186.2L216.5 191.3L210.6 191.3ZM222.7 207.1L225.6 212.2L219.7 212.2ZM215.4 191.9L218.3 197.0L212.4 197.0ZM208.4 198.8L211.4 203.9L205.5 203.9ZM204.8 177.6L207.7 182.7L201.8 182.7ZM224.6 179.8L227.5 184.9L221.6 184.9ZM217.0 197.1L219.9 202.2L214.0 202.2ZM205.9 207.7L208.8 212.8L202.9 212.8ZM219.1 193.4L222.0 198.5L216.1 198.5ZM217.5 198.2L220.4 203.3L214.5 203.3ZM212.8 229.8L215.7 234.9L209.8 234.9ZM210.4 201.3L213.4 206.4L207.5 206.4ZM209.3 190.0L212.3 195.1L206.4 195.1ZM215.1 212.1L218.0 217.2L212.1 217.2ZM219.1 231.3L222.1 236.4L216.2 236.4ZM203.6 168.1L206.5 173.2L200.6 173.2ZM207.0 214.5L209.9 219.6L204.0 219.6ZM212.2 208.7L215.1 213.8L209.2 213.8ZM209.6 196.3L212.6 201.4L206.7 201.4ZM212.6 215.5L215.6 220.6L209.7 220.6ZM210.1 161.2L213.1 166.3L207.2 166.3ZM211.7 182.8L214.6 187.9L208.7 187.9ZM205.4 216.6L208.4 221.7L202.5 221.7ZM222.3 208.3L225.2 213.4L219.3 213.4ZM219.8 207.8L222.8 212.9L216.9 212.9ZM214.5 221.8L217.4 226.9L211.5 226.9ZM222.8 171.0L225.8 176.1L219.9 176.1ZM212.2 201.9L215.1 207.0L209.2 207.0ZM223.2 207.7L226.2 212.8L220.3 212.8ZM218.7 201.7L221.6 206.8L215.7 206.8ZM205.4 170.6L208.4 175.7L202.5 175.7ZM203.4 192.4L206.4 197.5L200.5 197.5ZM213.5 231.6L216.4 236.7L210.5 236.7ZM207.9 223.8L210.9 228.9L205.0 228.9ZM207.3 228.6L210.2 233.7L204.3 233.7ZM221.1 221.8L224.1 226.9L218.2 226.9ZM208.3 219.3L211.3 224.4L205.4 224.4ZM219.4 231.1L222.3 236.2L216.4 236.2ZM212.0 168.9L215.0 174.0L209.1 174.0ZM205.2 179.5L208.2 184.6L202.3 184.6ZM216.0 190.4L218.9 195.5L213.0 195.5ZM214.0 215.8L216.9 220.9L211.0 220.9ZM209.2 206.0L212.2 211.1L206.3 211.1ZM209.1 213.1L212.0 218.2L206.1 218.2ZM220.7 228.8L223.6 233.9L217.7 233.9ZM205.5 221.3L208.5 226.4L202.6 226.4ZM218.9 207.3L221.8 212.4L215.9 212.4ZM222.7 207.9L225.7 213.0L219.8 213.0ZM222.7 151.7L225.7 156.8L219.8 156.8ZM208.7 167.6L211.6 172.7L205.7 172.7ZM207.5 196.2L210.5 201.3L204.6 201.3ZM220.9 191.3L223.8 196.4L217.9 196.4ZM222.1 230.7L225.0 235.8L219.1 235.8ZM216.6 215.7L219.6 220.8L213.7 220.8ZM218.8 208.9L221.7 214.0L215.8 214.0ZM205.3 191.8L208.3 196.9L202.4 196.9ZM218.2 194.4L221.1 199.5L215.2 199.5ZM224.2 222.0L227.1 227.1L221.2 227.1ZM211.3 205.3L214.2 210.4L208.3 210.4ZM217.4 192.3L220.3 197.4L214.4 197.4ZM214.4 201.0L217.3 206.1L211.4 206.1ZM224.3 167.8L227.3 172.9L221.4 172.9ZM213.3 145.2L216.2 150.3L210.3 150.3ZM219.4 220.1L222.3 225.2L216.4 225.2ZM221.4 167.2L224.3 172.3L218.4 172.3ZM220.4 214.1L223.3 219.2L217.4 219.2ZM211.1 212.1L214.1 217.2L208.2 217.2ZM221.6 183.3L224.6 188.4L218.7 188.4ZM206.4 220.9L209.4 226.0L203.5 226.0ZM210.4 223.7L213.4 228.8L207.5 228.8ZM218.8 223.0L221.8 228.1L215.9 228.1ZM210.3 182.2L213.2 187.3L207.3 187.3ZM208.9 214.5L211.9 219.6L206.0 219.6ZM212.6 229.5L215.6 234.6L209.7 234.6ZM222.0 229.5L225.0 234.6L219.1 234.6ZM224.2 230.3L227.2 235.4L221.3 235.4ZM203.5 223.7L206.5 228.8L200.6 228.8ZM215.8 191.7L218.8 196.8L212.9 196.8ZM209.3 218.5L212.3 223.6L206.4 223.6ZM224.8 211.6L227.8 216.7L221.9 216.7ZM221.7 231.6L224.7 236.7L218.8 236.7ZM220.9 190.5L223.8 195.6L217.9 195.6ZM220.9 201.1L223.9 206.2L218.0 206.2ZM208.9 199.7L211.8 204.8L205.9 204.8ZM218.6 220.9L221.6 226.0L215.7 226.0ZM216.9 183.7L219.8 188.8L213.9 188.8ZM220.9 169.1L223.9 174.2L218.0 174.2ZM223.5 214.7L226.4 219.8L220.5 219.8ZM210.4 227.5L213.3 232.6L207.4 232.6ZM217.3 168.5L220.2 173.6L214.3 173.6ZM220.2 169.8L223.1 174.9L217.2 174.9ZM219.8 207.6L222.7 212.7L216.8 212.7ZM216.7 226.9L219.6 232.0L213.7 232.0ZM218.1 219.0L221.0 224.1L215.1 224.1ZM206.0 228.8L209.0 233.9L203.1 233.9ZM224.0 211.0L226.9 216.1L221.0 216.1ZM220.5 205.7L223.5 210.8L217.6 210.8ZM224.5 223.3L227.4 228.4L221.5 228.4ZM213.0 231.6L215.9 236.7L210.0 236.7ZM212.1 203.8L215.0 208.9L209.1 208.9ZM221.8 204.9L224.7 210.0L218.8 210.0ZM208.3 200.3L211.2 205.4L205.3 205.4ZM211.7 205.6L214.7 210.7L208.8 210.7ZM210.1 205.9L213.1 211.0L207.2 211.0ZM207.5 148.2L210.4 153.3L204.5 153.3ZM205.1 231.4L208.0 236.5L202.1 236.5ZM221.5 205.3L224.4 210.4L218.5 210.4ZM221.5 161.5L224.4 166.6L218.5 166.6ZM203.3 199.8L206.2 204.9L200.3 204.9ZM216.7 216.5L219.7 221.6L213.8 221.6ZM211.3 199.1L214.2 204.2L208.3 204.2ZM205.3 205.1L208.2 210.2L202.3 210.2ZM216.2 186.6L219.2 191.7L213.3 191.7ZM222.2 196.2L225.2 201.3L219.3 201.3ZM204.0 189.4L207.0 194.5L201.1 194.5ZM209.1 189.2L212.1 194.3L206.2 194.3ZM222.8 185.8L225.7 190.9L219.8 190.9ZM211.4 200.3L214.3 205.4L208.4 205.4ZM216.6 192.7L219.6 197.8L213.7 197.8ZM223.5 198.7L226.4 203.8L220.5 203.8ZM215.5 174.0L218.4 179.1L212.5 179.1ZM213.2 228.4L216.1 233.5L210.2 233.5ZM224.4 191.0L227.3 196.1L221.4 196.1ZM217.0 206.3L220.0 211.4L214.1 211.4ZM223.9 194.6L226.9 199.7L221.0 199.7ZM222.3 216.5L225.3 221.6L219.4 221.6ZM203.7 183.4L206.6 188.5L200.7 188.5ZM208.3 185.0L211.2 190.1L205.3 190.1ZM218.6 221.2L221.5 226.3L215.6 226.3ZM210.2 198.6L213.1 203.7L207.2 203.7ZM220.2 159.4L223.2 164.5L217.3 164.5ZM214.4 222.0L217.3 227.1L211.4 227.1ZM220.7 215.8L223.7 220.9L217.8 220.9ZM220.1 196.5L223.0 201.6L217.1 201.6ZM209.0 228.8L211.9 233.9L206.0 233.9ZM206.6 167.4L209.6 172.5L203.7 172.5ZM215.1 204.0L218.0 209.1L212.1 209.1ZM210.3 230.8L213.2 235.9L207.3 235.9ZM209.7 220.1L212.7 225.2L206.8 225.2ZM205.7 197.3L208.6 202.4L202.7 202.4ZM206.2 204.6L209.1 209.7L203.2 209.7ZM207.8 181.7L210.7 186.8L204.8 186.8ZM208.1 187.2L211.0 192.3L205.1 192.3ZM221.2 179.3L224.2 184.4L218.3 184.4ZM220.1 190.9L223.0 196.0L217.1 196.0ZM224.7 185.3L227.7 190.4L221.8 190.4ZM223.3 185.4L226.3 190.5L220.4 190.5ZM218.1 189.6L221.1 194.7L215.2 194.7ZM209.1 200.6L212.0 205.7L206.1 205.7ZM206.0 197.0L208.9 202.1L203.0 202.1ZM208.4 175.7L211.3 180.8L205.4 180.8ZM205.7 190.0L208.6 195.1L202.7 195.1ZM209.8 194.1L212.7 199.2L206.8 199.2ZM220.0 214.1L223.0 219.2L217.1 219.2ZM206.5 186.6L209.5 191.7L203.6 191.7ZM222.4 215.9L225.4 221.0L219.5 221.0ZM219.6 231.2L222.6 236.3L216.7 236.3ZM204.8 193.2L207.8 198.3L201.9 198.3ZM222.3 192.2L225.2 197.3L219.3 197.3ZM203.7 207.5L206.6 212.6L200.7 212.6ZM220.4 220.1L223.4 225.2L217.5 225.2ZM214.7 183.1L217.7 188.2L211.8 188.2ZM211.5 230.0L214.5 235.1L208.6 235.1ZM219.3 215.6L222.3 220.7L216.4 220.7ZM209.2 211.8L212.2 216.9L206.3 216.9ZM213.6 199.8L216.6 204.9L210.7 204.9ZM223.7 169.8L226.7 174.9L220.8 174.9ZM222.0 200.5L225.0 205.6L219.1 205.6ZM205.3 213.9L208.2 219.0L202.3 219.0ZM206.5 192.1L209.4 197.2L203.5 197.2ZM213.6 147.9L216.6 153.0L210.7 153.0ZM222.7 185.0L225.6 190.1L219.7 190.1ZM217.1 227.3L220.0 232.4L214.1 232.4ZM217.6 170.6L220.5 175.7L214.6 175.7ZM209.4 199.4L212.3 204.5L206.4 204.5ZM223.1 204.1L226.1 209.2L220.2 209.2ZM250.2 124.9L253.1 130.0L247.2 130.0ZM244.6 131.3L247.5 136.4L241.7 136.4ZM245.3 227.6L248.3 232.7L242.4 232.7ZM250.9 204.6L253.8 209.7L247.9 209.7ZM232.1 213.6L235.0 218.7L229.1 218.7ZM235.5 194.4L238.5 199.5L232.6 199.5ZM231.3 205.1L234.3 210.2L228.4 210.2ZM236.8 192.0L239.7 197.1L233.8 197.1ZM234.7 223.2L237.6 228.3L231.7 228.3ZM240.6 183.0L243.5 188.1L237.6 188.1ZM248.4 213.4L251.4 218.5L245.5 218.5ZM239.3 191.3L242.2 196.4L236.3 196.4ZM252.1 220.3L255.0 225.4L249.1 225.4ZM244.7 201.5L247.6 206.6L241.7 206.6ZM235.7 211.9L238.6 217.0L232.7 217.0ZM240.4 226.6L243.4 231.7L237.5 231.7ZM246.5 185.5L249.4 190.6L243.5 190.6ZM246.1 222.5L249.1 227.6L243.2 227.6ZM238.3 190.1L241.3 195.2L235.4 195.2ZM248.6 196.2L251.5 201.3L245.6 201.3ZM252.4 209.4L255.3 214.5L249.4 214.5ZM231.3 176.6L234.2 181.7L228.3 181.7ZM247.6 207.6L250.5 212.7L244.6 212.7ZM247.9 221.0L250.9 226.1L245.0 226.1ZM241.4 187.0L244.3 192.1L238.4 192.1ZM235.4 184.4L238.4 189.5L232.5 189.5ZM236.3 227.8L239.3 232.9L233.4 232.9ZM244.6 184.6L247.6 189.7L241.7 189.7ZM245.4 186.0L248.3 191.1L242.4 191.1ZM243.8 197.7L246.7 202.8L240.8 202.8ZM237.5 222.3L240.4 227.4L234.5 227.4ZM238.3 227.4L241.2 232.5L235.3 232.5ZM234.4 197.7L237.4 202.8L231.5 202.8ZM247.2 230.8L250.1 235.9L244.2 235.9ZM236.2 228.7L239.1 233.8L233.2 233.8ZM250.1 211.3L253.1 216.4L247.2 216.4ZM247.1 212.8L250.1 217.9L244.2 217.9ZM236.2 196.4L239.2 201.5L233.3 201.5ZM230.9 163.1L233.8 168.2L227.9 168.2ZM235.0 214.3L237.9 219.4L232.0 219.4ZM231.1 174.9L234.1 180.0L228.2 180.0ZM230.9 211.6L233.8 216.7L227.9 216.7ZM235.3 216.2L238.2 221.3L232.3 221.3ZM233.2 208.4L236.2 213.5L230.3 213.5ZM243.4 214.2L246.3 219.3L240.4 219.3ZM242.2 212.3L245.2 217.4L239.3 217.4ZM238.2 189.2L241.1 194.3L235.2 194.3ZM243.0 184.4L245.9 189.5L240.0 189.5ZM233.6 211.6L236.5 216.7L230.6 216.7ZM232.8 196.6L235.7 201.7L229.8 201.7ZM231.3 175.7L234.3 180.8L228.4 180.8ZM242.4 219.3L245.4 224.4L239.5 224.4ZM241.6 212.9L244.5 218.0L238.6 218.0ZM244.4 221.8L247.4 226.9L241.5 226.9ZM234.7 153.4L237.7 158.5L231.8 158.5ZM236.6 231.0L239.6 236.1L233.7 236.1ZM242.3 223.3L245.2 228.4L239.3 228.4ZM232.7 183.6L235.7 188.7L229.8 188.7ZM233.4 178.5L236.3 183.6L230.4 183.6ZM241.0 181.7L243.9 186.8L238.0 186.8ZM239.4 211.2L242.3 216.3L236.4 216.3ZM251.9 211.6L254.9 216.7L249.0 216.7ZM242.6 218.7L245.6 223.8L239.7 223.8ZM249.3 227.1L252.3 232.2L246.4 232.2ZM243.9 186.7L246.8 191.8L240.9 191.8ZM232.9 160.4L235.8 165.5L229.9 165.5ZM237.6 190.6L240.5 195.7L234.6 195.7ZM247.2 209.2L250.1 214.3L244.2 214.3ZM239.1 167.7L242.0 172.8L236.1 172.8ZM248.5 207.7L251.5 212.8L245.6 212.8ZM231.2 199.2L234.1 204.3L228.2 204.3ZM249.6 227.7L252.5 232.8L246.6 232.8ZM252.1 203.9L255.0 209.0L249.1 209.0ZM232.4 160.8L235.4 165.9L229.5 165.9ZM244.0 194.6L246.9 199.7L241.0 199.7ZM240.3 168.9L243.2 174.0L237.3 174.0ZM236.7 187.1L239.6 192.2L233.7 192.2ZM236.6 172.2L239.5 177.3L233.6 177.3ZM252.6 219.9L255.5 225.0L249.6 225.0ZM233.8 219.0L236.8 224.1L230.9 224.1ZM243.5 193.9L246.4 199.0L240.5 199.0ZM251.5 209.5L254.4 214.6L248.5 214.6ZM231.9 203.6L234.8 208.7L228.9 208.7ZM251.6 226.7L254.6 231.8L248.7 231.8ZM231.5 183.1L234.5 188.2L228.6 188.2ZM241.4 201.2L244.4 206.3L238.5 206.3ZM248.3 201.3L251.2 206.4L245.3 206.4ZM239.9 178.3L242.8 183.4L236.9 183.4ZM240.7 220.5L243.7 225.6L237.8 225.6ZM250.2 199.0L253.2 204.1L247.3 204.1ZM252.4 200.8L255.4 205.9L249.5 205.9ZM237.8 229.8L240.8 234.9L234.9 234.9ZM239.8 224.1L242.8 229.2L236.9 229.2ZM241.3 167.2L244.2 172.3L238.3 172.3ZM246.7 190.2L249.7 195.3L243.8 195.3ZM246.7 215.7L249.6 220.8L243.7 220.8ZM243.7 197.5L246.7 202.6L240.8 202.6ZM238.2 219.4L241.1 224.5L235.2 224.5ZM252.2 186.5L255.1 191.6L249.2 191.6ZM232.9 220.0L235.9 225.1L230.0 225.1ZM244.9 182.6L247.8 187.7L241.9 187.7ZM243.0 196.6L246.0 201.7L240.1 201.7ZM245.1 191.2L248.0 196.3L242.1 196.3ZM247.3 198.7L250.2 203.8L244.3 203.8ZM240.0 221.8L242.9 226.9L237.0 226.9ZM243.0 207.3L245.9 212.4L240.0 212.4ZM240.0 207.3L243.0 212.4L237.1 212.4ZM232.6 157.5L235.5 162.6L229.6 162.6ZM239.3 192.0L242.3 197.1L236.4 197.1ZM238.7 200.6L241.6 205.7L235.7 205.7ZM249.9 226.1L252.8 231.2L246.9 231.2ZM240.9 215.0L243.8 220.1L237.9 220.1ZM250.3 226.7L253.2 231.8L247.3 231.8ZM236.2 220.2L239.2 225.3L233.3 225.3ZM241.0 184.9L243.9 190.0L238.0 190.0ZM248.2 219.2L251.2 224.3L245.3 224.3ZM233.1 176.3L236.1 181.4L230.2 181.4ZM246.4 154.9L249.3 160.0L243.4 160.0ZM231.9 220.0L234.9 225.1L229.0 225.1ZM248.4 227.8L251.4 232.9L245.5 232.9ZM250.3 203.9L253.2 209.0L247.3 209.0ZM232.8 191.2L235.7 196.3L229.8 196.3ZM236.1 204.0L239.1 209.1L233.2 209.1ZM233.3 193.3L236.2 198.4L230.3 198.4ZM243.2 215.0L246.2 220.1L240.3 220.1ZM248.5 208.4L251.5 213.5L245.6 213.5ZM237.9 189.1L240.8 194.2L234.9 194.2ZM237.8 161.4L240.8 166.5L234.9 166.5ZM239.7 228.0L242.6 233.1L236.7 233.1ZM238.2 194.5L241.1 199.6L235.2 199.6ZM243.0 223.3L245.9 228.4L240.0 228.4ZM244.2 211.5L247.2 216.6L241.3 216.6ZM236.2 198.6L239.2 203.7L233.3 203.7ZM247.9 216.0L250.8 221.1L244.9 221.1ZM240.3 211.5L243.2 216.6L237.3 216.6ZM234.8 223.5L237.8 228.6L231.9 228.6ZM237.9 222.0L240.9 227.1L235.0 227.1ZM239.5 184.4L242.5 189.5L236.6 189.5ZM247.7 204.1L250.6 209.2L244.7 209.2ZM250.9 208.0L253.9 213.1L248.0 213.1ZM242.2 153.6L245.1 158.7L239.2 158.7ZM236.6 208.7L239.5 213.8L233.6 213.8ZM238.5 175.7L241.5 180.8L235.6 180.8ZM242.2 208.2L245.2 213.3L239.3 213.3ZM238.0 220.3L241.0 225.4L235.1 225.4ZM230.6 197.9L233.6 203.0L227.7 203.0ZM232.1 207.9L235.1 213.0L229.2 213.0ZM248.8 221.0L251.7 226.1L245.8 226.1ZM236.1 215.2L239.0 220.3L233.1 220.3ZM238.2 212.2L241.2 217.3L235.3 217.3ZM246.0 182.0L249.0 187.1L243.1 187.1ZM233.1 194.4L236.0 199.5L230.1 199.5ZM236.3 221.2L239.2 226.3L233.3 226.3ZM243.5 184.7L246.5 189.8L240.6 189.8ZM252.3 219.8L255.2 224.9L249.3 224.9ZM231.6 211.1L234.6 216.2L228.7 216.2ZM249.3 216.2L252.3 221.3L246.4 221.3ZM238.5 189.4L241.4 194.5L235.5 194.5ZM232.8 215.7L235.8 220.8L229.9 220.8ZM252.2 183.4L255.1 188.5L249.2 188.5ZM236.8 193.0L239.8 198.1L233.9 198.1ZM252.3 231.4L255.3 236.5L249.4 236.5ZM238.3 193.5L241.3 198.6L235.4 198.6ZM251.1 208.0L254.1 213.1L248.2 213.1ZM244.5 220.4L247.4 225.5L241.5 225.5ZM234.6 196.9L237.5 202.0L231.6 202.0ZM234.4 230.3L237.4 235.4L231.5 235.4ZM241.1 198.8L244.1 203.9L238.2 203.9ZM250.3 191.9L253.3 197.0L247.4 197.0ZM248.9 231.6L251.9 236.7L246.0 236.7ZM233.8 213.3L236.7 218.4L230.8 218.4ZM233.4 185.5L236.4 190.6L230.5 190.6ZM245.8 179.2L248.8 184.3L242.9 184.3ZM248.1 192.2L251.1 197.3L245.2 197.3ZM245.1 222.4L248.1 227.5L242.2 227.5ZM234.2 221.9L237.2 227.0L231.3 227.0ZM239.1 221.0L242.0 226.1L236.1 226.1ZM239.5 197.3L242.5 202.4L236.6 202.4ZM237.9 226.2L240.8 231.3L234.9 231.3ZM250.9 175.3L253.9 180.4L248.0 180.4ZM248.0 198.7L250.9 203.8L245.0 203.8ZM236.2 231.1L239.2 236.2L233.3 236.2ZM237.7 177.4L240.7 182.5L234.8 182.5ZM232.8 197.9L235.8 203.0L229.9 203.0ZM248.2 182.0L251.1 187.1L245.2 187.1ZM233.8 212.4L236.8 217.5L230.9 217.5ZM238.8 192.6L241.7 197.7L235.8 197.7ZM249.0 221.6L251.9 226.7L246.0 226.7ZM238.1 185.3L241.0 190.4L235.1 190.4ZM247.1 196.8L250.0 201.9L244.1 201.9ZM245.9 214.5L248.8 219.6L242.9 219.6ZM247.4 176.5L250.3 181.6L244.4 181.6ZM236.6 211.6L239.6 216.7L233.7 216.7ZM237.3 186.7L240.3 191.8L234.4 191.8ZM251.9 224.1L254.8 229.2L248.9 229.2ZM242.3 184.0L245.2 189.1L239.3 189.1ZM239.6 198.8L242.6 203.9L236.7 203.9ZM250.9 231.1L253.8 236.2L247.9 236.2ZM245.4 220.5L248.4 225.6L242.5 225.6ZM245.9 181.7L248.8 186.8L242.9 186.8ZM230.8 230.3L233.8 235.4L227.9 235.4ZM234.0 184.1L236.9 189.2L231.0 189.2ZM234.0 184.1L237.0 189.2L231.1 189.2ZM247.1 170.1L250.0 175.2L244.1 175.2ZM236.7 203.8L239.7 208.9L233.8 208.9ZM245.6 185.4L248.6 190.5L242.7 190.5ZM241.3 182.5L244.3 187.6L238.4 187.6ZM250.1 212.8L253.0 217.9L247.1 217.9ZM243.0 204.7L246.0 209.8L240.1 209.8ZM251.8 202.0L254.7 207.1L248.8 207.1ZM246.4 176.9L249.3 182.0L243.4 182.0ZM233.9 177.8L236.8 182.9L230.9 182.9ZM248.8 192.4L251.7 197.5L245.8 197.5ZM244.9 149.9L247.9 155.0L242.0 155.0ZM232.3 220.9L235.2 226.0L229.3 226.0ZM236.4 214.2L239.3 219.3L233.4 219.3ZM250.7 226.7L253.6 231.8L247.7 231.8ZM240.4 200.2L243.4 205.3L237.5 205.3ZM238.2 196.3L241.2 201.4L235.3 201.4ZM246.6 160.1L249.6 165.2L243.7 165.2ZM233.3 229.7L236.3 234.8L230.4 234.8ZM239.9 218.4L242.9 223.5L237.0 223.5ZM251.8 178.5L254.7 183.6L248.8 183.6ZM231.1 222.7L234.1 227.8L228.2 227.8ZM242.3 229.9L245.2 235.0L239.3 235.0ZM243.0 191.1L245.9 196.2L240.0 196.2ZM246.8 212.8L249.8 217.9L243.9 217.9ZM241.0 191.9L243.9 197.0L238.0 197.0ZM231.5 214.1L234.4 219.2L228.5 219.2ZM234.7 189.6L237.7 194.7L231.8 194.7ZM249.4 175.0L252.4 180.1L246.5 180.1ZM234.5 200.5L237.4 205.6L231.5 205.6ZM252.3 186.6L255.3 191.7L249.4 191.7ZM238.4 229.6L241.3 234.7L235.4 234.7ZM233.1 197.1L236.0 202.2L230.1 202.2ZM250.6 214.9L253.6 220.0L247.7 220.0ZM234.5 211.2L237.4 216.3L231.5 216.3ZM248.8 201.7L251.8 206.8L245.9 206.8ZM246.8 196.2L249.7 201.3L243.8 201.3ZM232.9 170.2L235.8 175.3L229.9 175.3ZM242.4 144.5L245.3 149.6L239.4 149.6ZM231.2 211.3L234.1 216.4L228.2 216.4ZM243.0 214.7L245.9 219.8L240.0 219.8ZM251.2 196.5L254.2 201.6L248.3 201.6ZM236.3 175.0L239.2 180.1L233.3 180.1ZM239.8 226.1L242.7 231.2L236.8 231.2ZM238.7 213.4L241.6 218.5L235.7 218.5ZM246.2 220.4L249.2 225.5L243.3 225.5ZM250.9 231.3L253.9 236.4L248.0 236.4ZM238.3 193.8L241.2 198.9L235.3 198.9ZM252.6 227.0L255.6 232.1L249.7 232.1ZM248.1 203.7L251.1 208.8L245.2 208.8ZM242.3 170.8L245.3 175.9L239.4 175.9ZM252.3 197.7L255.2 202.8L249.3 202.8ZM249.2 192.2L252.1 197.3L246.2 197.3ZM249.3 200.9L252.3 206.0L246.4 206.0ZM231.1 176.7L234.1 181.8L228.2 181.8ZM233.8 196.6L236.8 201.7L230.9 201.7ZM234.7 207.0L237.6 212.1L231.7 212.1ZM240.1 202.0L243.0 207.1L237.1 207.1ZM246.3 230.9L249.3 236.0L243.4 236.0ZM248.4 211.8L251.4 216.9L245.5 216.9ZM234.4 179.8L237.4 184.9L231.5 184.9ZM243.8 185.1L246.8 190.2L240.9 190.2ZM240.1 230.3L243.1 235.4L237.2 235.4ZM252.2 200.8L255.2 205.9L249.3 205.9ZM245.9 231.1L248.9 236.2L243.0 236.2ZM240.3 218.4L243.2 223.5L237.3 223.5ZM237.6 214.1L240.5 219.2L234.6 219.2ZM239.5 220.1L242.4 225.2L236.5 225.2ZM248.2 215.8L251.1 220.9L245.2 220.9ZM244.4 229.0L247.4 234.1L241.5 234.1ZM232.9 168.0L235.9 173.1L230.0 173.1ZM238.8 193.9L241.7 199.0L235.8 199.0ZM247.3 191.9L250.3 197.0L244.4 197.0ZM245.7 205.9L248.7 211.0L242.8 211.0ZM234.7 206.7L237.7 211.8L231.8 211.8ZM250.4 196.2L253.3 201.3L247.4 201.3ZM237.8 200.7L240.8 205.8L234.9 205.8ZM246.9 193.2L249.8 198.3L243.9 198.3ZM252.6 192.3L255.6 197.4L249.7 197.4ZM240.2 168.6L243.2 173.7L237.3 173.7ZM235.1 177.8L238.0 182.9L232.1 182.9ZM232.0 155.8L235.0 160.9L229.1 160.9ZM247.0 205.7L250.0 210.8L244.1 210.8ZM262.0 121.8L264.9 126.9L259.1 126.9ZM270.0 131.5L272.9 136.6L267.1 136.6ZM269.9 164.9L272.9 170.0L267.0 170.0ZM265.9 209.1L268.8 214.2L262.9 214.2ZM278.1 145.4L281.1 150.5L275.2 150.5ZM267.4 231.0L270.3 236.1L264.4 236.1ZM276.0 182.6L279.0 187.7L273.1 187.7ZM260.9 179.8L263.8 184.9L257.9 184.9ZM276.8 226.8L279.7 231.9L273.8 231.9ZM263.4 197.0L266.3 202.1L260.4 202.1ZM265.4 224.3L268.3 229.4L262.4 229.4ZM267.3 145.6L270.3 150.7L264.4 150.7ZM271.0 174.0L274.0 179.1L268.1 179.1ZM278.6 174.1L281.6 179.2L275.7 179.2ZM274.8 230.4L277.7 235.5L271.8 235.5ZM265.7 203.6L268.7 208.7L262.8 208.7ZM267.8 230.9L270.7 236.0L264.8 236.0ZM269.1 131.2L272.1 136.3L266.2 136.3ZM275.1 200.1L278.1 205.2L272.2 205.2ZM274.6 205.3L277.6 210.4L271.7 210.4ZM265.0 167.4L268.0 172.5L262.1 172.5ZM270.8 177.4L273.8 182.5L267.9 182.5ZM259.9 194.1L262.8 199.2L256.9 199.2ZM260.9 216.6L263.9 221.7L258.0 221.7ZM274.3 183.6L277.3 188.7L271.4 188.7ZM274.1 219.4L277.1 224.5L271.2 224.5ZM263.2 191.3L266.2 196.4L260.3 196.4ZM264.1 208.6L267.1 213.7L261.2 213.7ZM272.1 166.9L275.1 172.0L269.2 172.0ZM264.0 221.3L267.0 226.4L261.1 226.4ZM264.9 228.5L267.8 233.6L261.9 233.6ZM278.3 198.6L281.2 203.7L275.3 203.7ZM271.1 182.6L274.0 187.7L268.1 187.7ZM258.2 203.7L261.1 208.8L255.2 208.8ZM261.0 179.2L263.9 184.3L258.0 184.3ZM272.7 216.1L275.7 221.2L269.8 221.2ZM269.1 231.7L272.0 236.8L266.1 236.8ZM266.6 215.7L269.6 220.8L263.7 220.8ZM263.9 230.3L266.9 235.4L261.0 235.4ZM267.3 207.3L270.3 212.4L264.4 212.4ZM258.6 204.5L261.6 209.6L255.7 209.6ZM269.1 179.8L272.0 184.9L266.1 184.9ZM278.1 214.2L281.0 219.3L275.1 219.3ZM276.3 219.0L279.2 224.1L273.3 224.1ZM269.2 221.0L272.2 226.1L266.3 226.1ZM265.2 220.6L268.2 225.7L262.3 225.7ZM272.1 183.6L275.0 188.7L269.1 188.7ZM259.7 209.4L262.7 214.5L256.8 214.5ZM277.3 174.5L280.2 179.6L274.3 179.6ZM275.2 230.7L278.1 235.8L272.2 235.8ZM262.6 204.4L265.6 209.5L259.7 209.5ZM276.6 177.6L279.5 182.7L273.6 182.7ZM263.9 161.6L266.9 166.7L261.0 166.7ZM263.3 185.0L266.3 190.1L260.4 190.1ZM275.8 230.6L278.7 235.7L272.8 235.7ZM264.3 220.5L267.3 225.6L261.4 225.6ZM269.8 182.2L272.7 187.3L266.8 187.3ZM262.8 176.7L265.8 181.8L259.9 181.8ZM263.5 223.4L266.5 228.5L260.6 228.5ZM265.9 226.4L268.9 231.5L263.0 231.5ZM260.1 185.9L263.1 191.0L257.2 191.0ZM269.9 194.5L272.8 199.6L266.9 199.6ZM270.7 228.1L273.6 233.2L267.7 233.2ZM275.2 230.3L278.2 235.4L272.3 235.4ZM269.9 192.6L272.8 197.7L266.9 197.7ZM266.9 155.1L269.9 160.2L264.0 160.2ZM276.7 188.8L279.7 193.9L273.8 193.9ZM270.1 175.6L273.0 180.7L267.1 180.7ZM279.4 181.5L282.3 186.6L276.4 186.6ZM263.0 176.5L265.9 181.6L260.0 181.6ZM263.3 197.4L266.2 202.5L260.3 202.5ZM273.8 214.0L276.8 219.1L270.9 219.1ZM273.8 197.8L276.7 202.9L270.8 202.9ZM280.2 138.0L283.2 143.1L277.3 143.1ZM273.0 213.9L275.9 219.0L270.0 219.0ZM268.1 162.9L271.0 168.0L265.1 168.0ZM268.6 228.5L271.5 233.6L265.6 233.6ZM260.5 214.0L263.5 219.1L257.6 219.1ZM262.0 229.1L264.9 234.2L259.0 234.2ZM269.2 206.3L272.2 211.4L266.3 211.4ZM261.1 209.4L264.1 214.5L258.2 214.5ZM279.6 193.0L282.5 198.1L276.6 198.1ZM265.2 205.1L268.2 210.2L262.3 210.2ZM275.8 202.0L278.7 207.1L272.8 207.1ZM262.7 222.1L265.7 227.2L259.8 227.2ZM266.7 203.7L269.6 208.8L263.7 208.8ZM270.9 196.4L273.8 201.5L267.9 201.5ZM271.3 182.3L274.3 187.4L268.4 187.4ZM259.0 203.8L261.9 208.9L256.0 208.9ZM271.0 194.3L274.0 199.4L268.1 199.4ZM266.4 176.0L269.4 181.1L263.5 181.1ZM278.4 214.7L281.4 219.8L275.5 219.8ZM277.9 215.6L280.9 220.7L275.0 220.7ZM268.9 211.1L271.9 216.2L266.0 216.2ZM262.8 219.6L265.8 224.7L259.9 224.7ZM267.3 227.1L270.3 232.2L264.4 232.2ZM275.7 186.5L278.6 191.6L272.7 191.6ZM266.1 167.6L269.0 172.7L263.1 172.7ZM277.9 199.2L280.8 204.3L274.9 204.3ZM261.5 213.9L264.5 219.0L258.6 219.0ZM261.8 226.5L264.8 231.6L258.9 231.6ZM277.2 193.8L280.2 198.9L274.3 198.9ZM268.5 201.4L271.5 206.5L265.6 206.5ZM278.5 212.6L281.5 217.7L275.6 217.7ZM271.6 197.0L274.6 202.1L268.7 202.1ZM271.3 157.3L274.3 162.4L268.4 162.4ZM261.8 171.0L264.8 176.1L258.9 176.1ZM269.5 220.8L272.4 225.9L266.5 225.9ZM268.6 201.2L271.5 206.3L265.6 206.3ZM270.0 185.4L273.0 190.5L267.1 190.5ZM278.9 174.4L281.9 179.5L276.0 179.5ZM259.7 140.5L262.7 145.6L256.8 145.6ZM263.8 197.7L266.8 202.8L260.9 202.8ZM261.2 162.0L264.2 167.1L258.3 167.1ZM277.8 154.9L280.8 160.0L274.9 160.0ZM268.3 228.6L271.2 233.7L265.3 233.7ZM262.3 178.2L265.2 183.3L259.3 183.3ZM258.4 139.2L261.4 144.3L255.5 144.3ZM274.7 229.2L277.7 234.3L271.8 234.3ZM263.1 159.8L266.1 164.9L260.2 164.9ZM259.2 216.4L262.2 221.5L256.3 221.5ZM266.8 225.9L269.7 231.0L263.8 231.0ZM274.0 209.3L277.0 214.4L271.1 214.4ZM270.1 201.5L273.0 206.6L267.1 206.6ZM268.0 192.7L271.0 197.8L265.1 197.8ZM273.4 179.1L276.4 184.2L270.5 184.2ZM259.3 222.7L262.3 227.8L256.4 227.8ZM279.6 181.5L282.5 186.6L276.6 186.6ZM260.9 167.7L263.9 172.8L258.0 172.8ZM268.6 173.9L271.6 179.0L265.7 179.0ZM260.8 193.4L263.7 198.5L257.8 198.5ZM271.7 220.6L274.6 225.7L268.7 225.7ZM258.4 172.4L261.4 177.5L255.5 177.5ZM264.0 148.6L266.9 153.7L261.0 153.7ZM260.6 167.7L263.6 172.8L257.7 172.8ZM270.6 168.8L273.5 173.9L267.6 173.9ZM271.6 228.1L274.5 233.2L268.6 233.2ZM269.6 179.2L272.6 184.3L266.7 184.3ZM272.6 216.4L275.5 221.5L269.6 221.5ZM263.7 219.6L266.7 224.7L260.8 224.7ZM266.1 188.9L269.0 194.0L263.1 194.0ZM263.5 191.3L266.4 196.4L260.5 196.4ZM266.3 169.8L269.3 174.9L263.4 174.9ZM280.0 190.9L282.9 196.0L277.0 196.0ZM271.0 222.4L274.0 227.5L268.1 227.5ZM273.9 201.9L276.9 207.0L271.0 207.0ZM265.1 198.5L268.1 203.6L262.2 203.6ZM268.5 176.1L271.4 181.2L265.5 181.2ZM263.8 213.9L266.8 219.0L260.9 219.0ZM263.1 190.1L266.1 195.2L260.2 195.2ZM266.0 200.6L269.0 205.7L263.1 205.7ZM278.1 174.3L281.0 179.4L275.1 179.4ZM259.8 213.1L262.7 218.2L256.8 218.2ZM277.1 227.7L280.0 232.8L274.1 232.8ZM267.9 205.4L270.9 210.5L265.0 210.5ZM266.2 219.6L269.2 224.7L263.3 224.7ZM271.1 186.6L274.1 191.7L268.2 191.7ZM263.8 216.7L266.8 221.8L260.9 221.8ZM270.8 181.8L273.8 186.9L267.9 186.9ZM278.5 191.9L281.4 197.0L275.5 197.0ZM264.4 199.3L267.3 204.4L261.4 204.4ZM268.9 165.0L271.9 170.1L266.0 170.1ZM262.5 205.8L265.5 210.9L259.6 210.9ZM268.7 196.6L271.6 201.7L265.7 201.7ZM260.1 179.7L263.1 184.8L257.2 184.8ZM271.4 183.4L274.3 188.5L268.4 188.5ZM259.0 199.4L261.9 204.5L256.0 204.5ZM271.5 179.6L274.4 184.7L268.5 184.7ZM278.2 221.1L281.1 226.2L275.2 226.2ZM273.8 218.8L276.7 223.9L270.8 223.9ZM272.4 167.6L275.4 172.7L269.5 172.7ZM268.4 226.9L271.4 232.0L265.5 232.0ZM261.4 204.3L264.3 209.4L258.4 209.4ZM258.3 186.9L261.3 192.0L255.4 192.0ZM279.2 191.0L282.2 196.1L276.3 196.1ZM260.5 169.0L263.5 174.1L257.6 174.1ZM265.5 223.4L268.5 228.5L262.6 228.5ZM259.2 198.2L262.2 203.3L256.3 203.3ZM278.2 182.7L281.1 187.8L275.2 187.8ZM277.4 228.5L280.3 233.6L274.4 233.6ZM269.0 164.5L272.0 169.6L266.1 169.6ZM262.0 181.4L265.0 186.5L259.1 186.5ZM278.1 191.7L281.0 196.8L275.1 196.8ZM272.8 205.3L275.8 210.4L269.9 210.4ZM264.3 199.6L267.2 204.7L261.3 204.7ZM263.2 186.3L266.2 191.4L260.3 191.4ZM272.7 201.7L275.7 206.8L269.8 206.8ZM279.6 215.3L282.6 220.4L276.7 220.4ZM264.9 179.3L267.9 184.4L262.0 184.4ZM277.4 197.5L280.3 202.6L274.4 202.6ZM273.7 228.0L276.7 233.1L270.8 233.1ZM272.9 199.0L275.8 204.1L269.9 204.1ZM273.5 223.5L276.5 228.6L270.6 228.6ZM277.0 213.5L279.9 218.6L274.0 218.6ZM273.9 199.1L276.8 204.2L270.9 204.2ZM270.4 209.3L273.3 214.4L267.4 214.4ZM259.1 203.6L262.0 208.7L256.1 208.7ZM272.6 164.1L275.6 169.2L269.7 169.2ZM264.4 167.7L267.4 172.8L261.5 172.8ZM271.5 182.8L274.5 187.9L268.6 187.9ZM276.6 213.7L279.5 218.8L273.6 218.8ZM276.7 178.3L279.7 183.4L273.8 183.4ZM266.2 209.0L269.1 214.1L263.2 214.1ZM273.3 169.5L276.3 174.6L270.4 174.6ZM277.6 194.2L280.6 199.3L274.7 199.3ZM273.3 206.3L276.3 211.4L270.4 211.4ZM263.9 200.7L266.8 205.8L260.9 205.8ZM265.7 181.7L268.7 186.8L262.8 186.8ZM279.6 170.8L282.5 175.9L276.6 175.9ZM260.5 199.9L263.4 205.0L257.5 205.0ZM269.3 226.0L272.2 231.1L266.3 231.1ZM266.2 178.2L269.2 183.3L263.3 183.3ZM259.3 160.0L262.3 165.1L256.4 165.1ZM259.7 166.8L262.7 171.9L256.8 171.9ZM266.8 184.7L269.7 189.8L263.8 189.8ZM269.8 189.5L272.8 194.6L266.9 194.6ZM265.4 172.4L268.3 177.5L262.4 177.5ZM272.5 176.0L275.4 181.1L269.5 181.1ZM259.9 226.4L262.8 231.5L256.9 231.5ZM268.6 203.7L271.6 208.8L265.7 208.8ZM272.2 223.9L275.2 229.0L269.3 229.0ZM274.5 193.7L277.4 198.8L271.5 198.8ZM279.6 174.9L282.5 180.0L276.6 180.0ZM279.1 175.6L282.0 180.7L276.1 180.7ZM276.4 189.9L279.3 195.0L273.4 195.0ZM272.9 186.2L275.9 191.3L270.0 191.3ZM265.4 204.4L268.3 209.5L262.4 209.5ZM264.6 173.9L267.5 179.0L261.6 179.0ZM259.5 229.8L262.5 234.9L256.6 234.9ZM279.2 229.6L282.1 234.7L276.2 234.7ZM277.1 206.3L280.0 211.4L274.1 211.4ZM267.9 184.5L270.8 189.6L264.9 189.6ZM264.3 154.5L267.3 159.6L261.4 159.6ZM261.3 201.2L264.2 206.3L258.3 206.3ZM275.8 199.5L278.8 204.6L272.9 204.6ZM278.8 230.9L281.8 236.0L275.9 236.0ZM259.2 168.6L262.1 173.7L256.2 173.7ZM263.9 221.8L266.9 226.9L261.0 226.9ZM267.8 177.4L270.7 182.5L264.8 182.5ZM269.7 207.8L272.6 212.9L266.7 212.9ZM262.4 156.8L265.3 161.9L259.4 161.9ZM265.9 190.4L268.9 195.5L263.0 195.5ZM273.1 229.5L276.1 234.6L270.2 234.6ZM264.8 162.4L267.8 167.5L261.9 167.5ZM270.0 207.8L272.9 212.9L267.0 212.9ZM267.3 183.0L270.2 188.1L264.3 188.1ZM268.3 213.6L271.2 218.7L265.3 218.7ZM272.6 184.7L275.5 189.8L269.6 189.8ZM260.7 230.8L263.6 235.9L257.7 235.9ZM262.2 220.4L265.2 225.5L259.3 225.5ZM278.2 208.1L281.2 213.2L275.3 213.2ZM262.2 216.0L265.2 221.1L259.3 221.1ZM271.0 185.8L273.9 190.9L268.0 190.9ZM273.1 177.3L276.0 182.4L270.1 182.4ZM272.7 192.0L275.6 197.1L269.7 197.1ZM266.2 226.1L269.2 231.2L263.3 231.2ZM272.3 209.0L275.2 214.1L269.3 214.1ZM277.3 177.6L280.2 182.7L274.3 182.7ZM269.5 208.0L272.5 213.1L266.6 213.1ZM261.0 212.8L264.0 217.9L258.1 217.9ZM279.3 196.4L282.2 201.5L276.3 201.5ZM279.0 167.5L282.0 172.6L276.1 172.6ZM261.0 225.9L264.0 231.0L258.1 231.0ZM271.8 168.8L274.7 173.9L268.8 173.9ZM267.6 201.2L270.5 206.3L264.6 206.3ZM264.2 193.9L267.2 199.0L261.3 199.0ZM270.9 167.2L273.8 172.3L267.9 172.3ZM270.9 215.2L273.9 220.3L268.0 220.3ZM262.8 176.0L265.7 181.1L259.8 181.1ZM265.4 194.2L268.3 199.3L262.4 199.3ZM269.7 197.2L272.7 202.3L266.8 202.3ZM262.3 222.5L265.2 227.6L259.3 227.6ZM263.3 176.1L266.3 181.2L260.4 181.2ZM260.0 227.5L262.9 232.6L257.0 232.6ZM260.7 199.3L263.6 204.4L257.7 204.4ZM266.8 161.7L269.8 166.8L263.9 166.8ZM269.3 201.8L272.3 206.9L266.4 206.9ZM271.0 170.4L273.9 175.5L268.0 175.5ZM262.3 211.3L265.3 216.4L259.4 216.4ZM266.5 168.8L269.5 173.9L263.6 173.9ZM262.6 194.5L265.6 199.6L259.7 199.6ZM261.8 176.5L264.7 181.6L258.8 181.6ZM258.7 230.7L261.6 235.8L255.7 235.8ZM271.7 181.4L274.7 186.5L268.8 186.5ZM269.7 187.2L272.7 192.3L266.8 192.3ZM269.0 152.5L271.9 157.6L266.0 157.6ZM276.6 228.9L279.6 234.0L273.7 234.0ZM267.1 216.4L270.1 221.5L264.2 221.5ZM263.0 190.5L266.0 195.6L260.1 195.6ZM273.4 220.6L276.4 225.7L270.5 225.7ZM279.2 185.5L282.1 190.6L276.2 190.6ZM267.0 181.9L269.9 187.0L264.0 187.0ZM275.0 176.3L278.0 181.4L272.1 181.4ZM278.2 211.1L281.2 216.2L275.3 216.2ZM265.6 152.7L268.6 157.8L262.7 157.8ZM276.7 182.5L279.7 187.6L273.8 187.6ZM266.9 197.3L269.9 202.4L264.0 202.4ZM298.0 110.9L300.9 116.0L295.1 116.0ZM294.0 124.1L296.9 129.2L291.1 129.2ZM300.5 122.9L303.4 128.0L297.6 128.0ZM306.5 125.3L309.4 130.4L303.6 130.4ZM290.7 171.6L293.7 176.7L287.8 176.7ZM300.7 177.4L303.7 182.5L297.8 182.5ZM298.0 189.0L300.9 194.1L295.0 194.1ZM297.7 199.3L300.6 204.4L294.7 204.4ZM301.0 208.8L304.0 213.9L298.1 213.9ZM306.3 182.7L309.2 187.8L303.3 187.8ZM293.6 194.1L296.5 199.2L290.6 199.2ZM297.7 226.5L300.6 231.6L294.7 231.6ZM289.8 168.0L292.8 173.1L286.9 173.1ZM296.4 174.7L299.3 179.8L293.4 179.8ZM293.2 221.2L296.1 226.3L290.2 226.3ZM295.7 178.0L298.6 183.1L292.7 183.1ZM294.4 169.9L297.4 175.0L291.5 175.0ZM296.4 212.7L299.4 217.8L293.5 217.8ZM300.4 206.5L303.3 211.6L297.4 211.6ZM307.0 230.0L310.0 235.1L304.1 235.1ZM306.9 193.4L309.9 198.5L304.0 198.5ZM290.3 230.8L293.3 235.9L287.4 235.9ZM297.2 172.2L300.1 177.3L294.2 177.3ZM297.1 215.9L300.0 221.0L294.1 221.0ZM305.7 214.2L308.7 219.3L302.8 219.3ZM299.0 216.2L301.9 221.3L296.0 221.3ZM300.1 194.1L303.0 199.2L297.1 199.2ZM292.6 190.2L295.6 195.3L289.7 195.3ZM305.8 191.1L308.8 196.2L302.9 196.2ZM289.9 220.1L292.8 225.2L286.9 225.2ZM287.2 177.4L290.1 182.5L284.2 182.5ZM296.1 211.7L299.0 216.8L293.1 216.8ZM302.2 190.1L305.2 195.2L299.3 195.2ZM299.4 214.7L302.4 219.8L296.5 219.8ZM297.5 198.1L300.4 203.2L294.5 203.2ZM304.3 223.3L307.2 228.4L301.3 228.4ZM304.5 203.6L307.5 208.7L301.6 208.7ZM306.8 209.3L309.7 214.4L303.8 214.4ZM290.2 157.4L293.2 162.5L287.3 162.5ZM289.3 175.4L292.3 180.5L286.4 180.5ZM288.5 229.6L291.5 234.7L285.6 234.7ZM296.2 229.7L299.1 234.8L293.2 234.8ZM296.7 174.1L299.6 179.2L293.7 179.2ZM289.6 167.0L292.5 172.1L286.6 172.1ZM298.2 169.3L301.2 174.4L295.3 174.4ZM292.9 223.0L295.8 228.1L289.9 228.1ZM299.3 222.4L302.3 227.5L296.4 227.5ZM298.4 174.9L301.4 180.0L295.5 180.0ZM304.5 228.7L307.4 233.8L301.5 233.8ZM291.0 183.1L294.0 188.2L288.1 188.2ZM301.7 206.0L304.6 211.1L298.7 211.1ZM292.4 219.8L295.4 224.9L289.5 224.9ZM299.7 228.5L302.7 233.6L296.8 233.6ZM293.0 184.4L296.0 189.5L290.1 189.5ZM302.3 201.6L305.3 206.7L299.4 206.7ZM291.5 198.6L294.5 203.7L288.6 203.7ZM290.3 215.5L293.3 220.6L287.4 220.6ZM293.8 167.2L296.7 172.3L290.8 172.3ZM291.7 176.5L294.7 181.6L288.8 181.6ZM306.4 228.0L309.3 233.1L303.4 233.1ZM297.2 221.4L300.2 226.5L294.3 226.5ZM292.2 181.9L295.1 187.0L289.2 187.0ZM287.4 182.4L290.3 187.5L284.4 187.5ZM292.5 168.2L295.4 173.3L289.5 173.3ZM305.2 172.0L308.2 177.1L302.3 177.1ZM291.3 167.7L294.2 172.8L288.3 172.8ZM296.1 181.9L299.0 187.0L293.1 187.0ZM307.7 174.2L310.7 179.3L304.8 179.3ZM302.0 190.7L304.9 195.8L299.0 195.8ZM296.8 206.5L299.7 211.6L293.8 211.6ZM291.5 211.9L294.5 217.0L288.6 217.0ZM301.2 168.3L304.1 173.4L298.2 173.4ZM298.4 198.1L301.4 203.2L295.5 203.2ZM295.6 226.0L298.5 231.1L292.6 231.1ZM296.1 223.8L299.0 228.9L293.1 228.9ZM304.0 216.7L306.9 221.8L301.0 221.8ZM303.4 174.7L306.3 179.8L300.4 179.8ZM306.3 214.7L309.3 219.8L303.4 219.8ZM306.8 198.8L309.7 203.9L303.8 203.9ZM288.2 187.2L291.2 192.3L285.3 192.3ZM288.1 212.0L291.1 217.1L285.2 217.1ZM306.9 212.9L309.9 218.0L304.0 218.0ZM301.5 222.4L304.4 227.5L298.5 227.5ZM287.4 189.7L290.4 194.8L284.5 194.8ZM298.6 175.7L301.5 180.8L295.6 180.8ZM288.6 207.5L291.5 212.6L285.6 212.6ZM298.2 179.0L301.2 184.1L295.3 184.1ZM296.3 216.8L299.2 221.9L293.3 221.9ZM295.7 230.9L298.7 236.0L292.8 236.0ZM288.6 168.0L291.6 173.1L285.7 173.1ZM292.7 176.6L295.7 181.7L289.8 181.7ZM299.4 140.5L302.3 145.6L296.4 145.6ZM291.5 144.5L294.5 149.6L288.6 149.6ZM295.1 207.6L298.0 212.7L292.1 212.7ZM305.3 183.2L308.2 188.3L302.3 188.3ZM307.6 220.0L310.6 225.1L304.7 225.1ZM304.5 201.4L307.5 206.5L301.6 206.5ZM303.1 190.1L306.1 195.2L300.2 195.2ZM287.2 184.4L290.1 189.5L284.2 189.5ZM299.2 214.5L302.1 219.6L296.2 219.6ZM297.6 198.6L300.6 203.7L294.7 203.7ZM292.0 170.8L295.0 175.9L289.1 175.9ZM288.3 219.3L291.2 224.4L285.3 224.4ZM288.6 162.9L291.5 168.0L285.6 168.0ZM304.8 159.2L307.8 164.3L301.9 164.3ZM292.5 142.4L295.4 147.5L289.5 147.5ZM296.9 216.8L299.8 221.9L293.9 221.9ZM296.2 212.8L299.2 217.9L293.3 217.9ZM288.5 222.3L291.4 227.4L285.5 227.4ZM288.5 231.1L291.4 236.2L285.5 236.2ZM305.2 179.6L308.1 184.7L302.2 184.7ZM304.4 176.0L307.3 181.1L301.4 181.1ZM303.9 216.4L306.8 221.5L300.9 221.5ZM306.8 230.4L309.8 235.5L303.9 235.5ZM302.4 164.7L305.4 169.8L299.5 169.8ZM300.0 230.8L303.0 235.9L297.1 235.9ZM300.6 185.9L303.6 191.0L297.7 191.0ZM290.5 196.9L293.4 202.0L287.5 202.0ZM301.0 183.6L304.0 188.7L298.1 188.7ZM305.3 227.1L308.3 232.2L302.4 232.2ZM298.8 199.1L301.8 204.2L295.9 204.2ZM297.5 178.2L300.5 183.3L294.6 183.3ZM290.5 194.6L293.4 199.7L287.5 199.7ZM305.0 190.4L307.9 195.5L302.0 195.5ZM297.0 213.4L299.9 218.5L294.0 218.5ZM295.9 191.6L298.9 196.7L293.0 196.7ZM305.2 184.2L308.2 189.3L302.3 189.3ZM300.8 179.1L303.7 184.2L297.8 184.2ZM292.7 214.8L295.6 219.9L289.7 219.9ZM292.3 196.1L295.2 201.2L289.3 201.2ZM294.0 175.7L296.9 180.8L291.0 180.8ZM289.3 161.3L292.2 166.4L286.3 166.4ZM294.1 152.4L297.0 157.5L291.1 157.5ZM292.8 179.0L295.8 184.1L289.9 184.1ZM294.9 177.8L297.9 182.9L292.0 182.9ZM301.8 196.8L304.8 201.9L298.9 201.9ZM302.7 164.0L305.6 169.1L299.7 169.1ZM285.9 208.3L288.9 213.4L283.0 213.4ZM289.7 206.7L292.6 211.8L286.7 211.8ZM300.2 221.9L303.1 227.0L297.2 227.0ZM300.9 214.9L303.9 220.0L298.0 220.0ZM304.3 227.2L307.2 232.3L301.3 232.3ZM292.3 170.9L295.2 176.0L289.3 176.0ZM289.0 181.5L292.0 186.6L286.1 186.6ZM297.9 186.9L300.8 192.0L294.9 192.0ZM295.1 211.1L298.1 216.2L292.2 216.2ZM298.8 223.8L301.8 228.9L295.9 228.9ZM302.3 145.4L305.2 150.5L299.3 150.5ZM289.7 178.4L292.7 183.5L286.8 183.5ZM297.9 231.2L300.9 236.3L295.0 236.3ZM289.6 218.8L292.6 223.9L286.7 223.9ZM292.1 174.1L295.0 179.2L289.1 179.2ZM288.9 222.0L291.8 227.1L285.9 227.1ZM288.0 175.2L290.9 180.3L285.0 180.3ZM303.4 192.7L306.3 197.8L300.4 197.8ZM288.0 227.4L290.9 232.5L285.0 232.5ZM302.6 200.9L305.6 206.0L299.7 206.0ZM290.4 211.8L293.4 216.9L287.5 216.9ZM289.2 182.9L292.1 188.0L286.2 188.0ZM296.1 230.2L299.0 235.3L293.1 235.3ZM301.6 175.8L304.6 180.9L298.7 180.9ZM286.7 220.5L289.7 225.6L283.8 225.6ZM286.0 182.3L288.9 187.4L283.0 187.4ZM293.7 161.9L296.7 167.0L290.8 167.0ZM306.2 183.4L309.2 188.5L303.3 188.5ZM302.7 191.8L305.7 196.9L299.8 196.9ZM297.9 229.3L300.8 234.4L294.9 234.4ZM294.5 208.2L297.4 213.3L291.5 213.3ZM302.3 204.2L305.2 209.3L299.3 209.3ZM304.4 201.3L307.4 206.4L301.5 206.4ZM302.2 190.0L305.2 195.1L299.3 195.1ZM289.5 203.8L292.4 208.9L286.5 208.9ZM300.2 192.6L303.1 197.7L297.2 197.7ZM298.4 221.9L301.3 227.0L295.4 227.0ZM300.4 167.9L303.4 173.0L297.5 173.0ZM302.4 193.9L305.3 199.0L299.4 199.0ZM298.6 131.8L301.5 136.9L295.6 136.9ZM287.8 220.1L290.7 225.2L284.8 225.2ZM300.5 178.3L303.4 183.4L297.5 183.4ZM302.7 198.3L305.7 203.4L299.8 203.4ZM287.7 160.4L290.7 165.5L284.8 165.5ZM299.6 228.5L302.5 233.6L296.6 233.6ZM295.0 227.7L298.0 232.8L292.1 232.8ZM287.5 169.4L290.4 174.5L284.5 174.5ZM288.4 174.5L291.3 179.6L285.4 179.6ZM293.3 163.8L296.3 168.9L290.4 168.9ZM290.6 221.8L293.6 226.9L287.7 226.9ZM306.5 183.9L309.4 189.0L303.5 189.0ZM295.2 153.7L298.1 158.8L292.2 158.8ZM295.0 231.6L298.0 236.7L292.1 236.7ZM303.6 223.6L306.6 228.7L300.7 228.7ZM297.4 213.8L300.3 218.9L294.4 218.9ZM288.2 227.7L291.2 232.8L285.3 232.8ZM287.8 206.6L290.8 211.7L284.9 211.7ZM307.8 209.2L310.8 214.3L304.9 214.3ZM287.4 221.0L290.4 226.1L284.5 226.1ZM302.9 156.9L305.9 162.0L300.0 162.0ZM293.7 188.9L296.6 194.0L290.7 194.0ZM299.1 185.7L302.1 190.8L296.2 190.8ZM297.4 199.8L300.3 204.9L294.4 204.9ZM287.8 192.2L290.7 197.3L284.8 197.3ZM294.6 139.8L297.5 144.9L291.6 144.9ZM303.7 175.5L306.7 180.6L300.8 180.6ZM301.5 208.3L304.4 213.4L298.5 213.4ZM286.1 193.5L289.1 198.6L283.2 198.6ZM293.5 219.9L296.5 225.0L290.6 225.0ZM305.1 231.2L308.1 236.3L302.2 236.3ZM306.7 154.0L309.7 159.1L303.8 159.1ZM306.5 169.8L309.5 174.9L303.6 174.9ZM286.5 167.8L289.5 172.9L283.6 172.9ZM302.9 186.4L305.9 191.5L300.0 191.5ZM297.3 228.1L300.3 233.2L294.4 233.2ZM289.7 183.9L292.7 189.0L286.8 189.0ZM291.4 145.3L294.3 150.4L288.4 150.4ZM300.6 155.0L303.6 160.1L297.7 160.1ZM296.1 201.3L299.0 206.4L293.1 206.4ZM291.9 230.7L294.9 235.8L289.0 235.8ZM293.8 159.8L296.7 164.9L290.8 164.9ZM305.6 189.3L308.5 194.4L302.6 194.4ZM295.7 185.8L298.6 190.9L292.7 190.9ZM292.7 189.7L295.6 194.8L289.7 194.8ZM299.8 229.7L302.8 234.8L296.9 234.8ZM297.7 196.2L300.7 201.3L294.8 201.3ZM293.7 137.1L296.6 142.2L290.7 142.2ZM297.4 154.3L300.3 159.4L294.4 159.4ZM303.2 221.4L306.1 226.5L300.2 226.5ZM306.1 176.1L309.1 181.2L303.2 181.2ZM297.9 186.5L300.8 191.6L294.9 191.6ZM287.2 201.0L290.1 206.1L284.2 206.1ZM294.2 149.4L297.1 154.5L291.2 154.5ZM287.1 198.5L290.0 203.6L284.1 203.6ZM290.6 213.1L293.5 218.2L287.6 218.2ZM286.1 160.8L289.0 165.9L283.1 165.9ZM296.5 192.2L299.5 197.3L293.6 197.3ZM293.5 228.6L296.5 233.7L290.6 233.7ZM307.7 207.5L310.7 212.6L304.8 212.6ZM303.7 167.7L306.6 172.8L300.7 172.8ZM296.8 197.1L299.7 202.2L293.8 202.2ZM290.7 224.2L293.7 229.3L287.8 229.3ZM295.8 196.4L298.7 201.5L292.8 201.5ZM294.7 162.1L297.7 167.2L291.8 167.2ZM302.4 221.2L305.3 226.3L299.4 226.3ZM305.1 224.0L308.1 229.1L302.2 229.1ZM296.3 218.4L299.3 223.5L293.4 223.5ZM291.7 219.6L294.6 224.7L288.7 224.7ZM306.3 209.4L309.2 214.5L303.3 214.5ZM292.6 211.9L295.6 217.0L289.7 217.0ZM300.6 226.4L303.6 231.5L297.7 231.5ZM303.6 149.9L306.5 155.0L300.6 155.0ZM290.6 201.3L293.5 206.4L287.6 206.4ZM302.0 213.5L304.9 218.6L299.0 218.6ZM292.1 223.9L295.0 229.0L289.1 229.0ZM302.4 162.2L305.4 167.3L299.5 167.3ZM307.4 156.4L310.3 161.5L304.4 161.5ZM290.0 213.2L292.9 218.3L287.0 218.3ZM297.2 190.1L300.2 195.2L294.3 195.2ZM292.7 190.7L295.7 195.8L289.8 195.8ZM286.9 154.7L289.8 159.8L283.9 159.8ZM302.3 221.7L305.2 226.8L299.3 226.8ZM300.6 166.7L303.5 171.8L297.6 171.8ZM298.9 188.9L301.9 194.0L296.0 194.0ZM293.2 179.2L296.2 184.3L290.3 184.3ZM287.2 159.5L290.1 164.6L284.2 164.6ZM300.4 159.4L303.3 164.5L297.4 164.5ZM302.2 191.1L305.2 196.2L299.3 196.2ZM287.5 212.5L290.5 217.6L284.6 217.6ZM288.5 198.7L291.5 203.8L285.6 203.8ZM291.6 211.7L294.5 216.8L288.6 216.8ZM302.3 189.8L305.2 194.9L299.3 194.9ZM295.7 199.5L298.7 204.6L292.8 204.6ZM303.0 204.2L305.9 209.3L300.0 209.3ZM301.5 215.6L304.4 220.7L298.5 220.7ZM300.9 227.1L303.8 232.2L297.9 232.2ZM307.7 205.2L310.7 210.3L304.8 210.3ZM302.6 204.5L305.5 209.6L299.6 209.6ZM305.9 221.7L308.8 226.8L302.9 226.8ZM294.1 213.8L297.1 218.9L291.2 218.9ZM292.3 194.3L295.2 199.4L289.3 199.4ZM301.6 183.1L304.6 188.2L298.7 188.2ZM304.7 209.4L307.7 214.5L301.8 214.5ZM286.2 221.0L289.1 226.1L283.2 226.1ZM290.8 191.5L293.7 196.6L287.8 196.6ZM286.6 226.0L289.5 231.1L283.6 231.1ZM287.3 168.5L290.3 173.6L284.4 173.6ZM297.7 197.1L300.6 202.2L294.7 202.2ZM306.5 183.2L309.5 188.3L303.6 188.3ZM288.3 160.1L291.3 165.2L285.4 165.2ZM306.1 204.8L309.0 209.9L303.1 209.9ZM302.4 155.3L305.4 160.4L299.5 160.4ZM303.0 194.3L306.0 199.4L300.1 199.4ZM298.3 190.4L301.3 195.5L295.4 195.5ZM299.2 205.1L302.1 210.2L296.2 210.2ZM300.8 204.1L303.8 209.2L297.9 209.2ZM297.4 206.6L300.3 211.7L294.4 211.7ZM291.7 170.7L294.7 175.8L288.8 175.8ZM322.1 103.6L325.1 108.7L319.2 108.7ZM319.0 118.6L321.9 123.7L316.1 123.7ZM320.8 213.0L323.8 218.1L317.9 218.1ZM324.1 222.7L327.0 227.8L321.1 227.8ZM328.6 184.2L331.5 189.3L325.6 189.3ZM327.1 171.9L330.1 177.0L324.2 177.0ZM324.0 175.3L327.0 180.4L321.1 180.4ZM321.1 145.2L324.1 150.3L318.2 150.3ZM327.7 216.9L330.7 222.0L324.8 222.0ZM323.2 162.3L326.2 167.4L320.3 167.4ZM321.6 193.3L324.5 198.4L318.6 198.4ZM327.2 179.5L330.2 184.6L324.3 184.6ZM333.9 207.8L336.9 212.9L331.0 212.9ZM326.1 207.3L329.1 212.4L323.2 212.4ZM335.1 149.4L338.0 154.5L332.1 154.5ZM317.1 214.2L320.1 219.3L314.2 219.3ZM328.2 204.2L331.2 209.3L325.3 209.3ZM313.9 231.0L316.9 236.1L311.0 236.1ZM316.3 206.9L319.3 212.0L313.4 212.0ZM329.4 196.3L332.4 201.4L326.5 201.4ZM322.6 131.6L325.6 136.7L319.7 136.7ZM326.8 219.1L329.8 224.2L323.9 224.2ZM316.5 156.6L319.4 161.7L313.5 161.7ZM328.8 153.1L331.7 158.2L325.8 158.2ZM327.0 231.6L330.0 236.7L324.1 236.7ZM330.9 170.5L333.9 175.6L328.0 175.6ZM329.5 225.8L332.5 230.9L326.6 230.9ZM321.4 177.9L324.4 183.0L318.5 183.0ZM334.7 162.9L337.7 168.0L331.8 168.0ZM335.4 214.3L338.3 219.4L332.4 219.4ZM320.2 190.4L323.2 195.5L317.3 195.5ZM323.7 130.3L326.7 135.4L320.8 135.4ZM322.7 197.3L325.6 202.4L319.7 202.4ZM330.0 138.6L333.0 143.7L327.1 143.7ZM333.7 159.4L336.6 164.5L330.7 164.5ZM321.9 187.2L324.9 192.3L319.0 192.3ZM321.2 187.2L324.2 192.3L318.3 192.3ZM320.2 122.4L323.1 127.5L317.2 127.5ZM321.3 227.1L324.3 232.2L318.4 232.2ZM328.2 176.9L331.2 182.0L325.3 182.0ZM331.7 219.8L334.7 224.9L328.8 224.9ZM325.8 189.9L328.7 195.0L322.8 195.0ZM323.9 191.8L326.8 196.9L320.9 196.9ZM329.6 170.4L332.5 175.5L326.6 175.5ZM321.7 168.4L324.6 173.5L318.7 173.5ZM333.2 196.5L336.2 201.6L330.3 201.6ZM321.8 170.3L324.7 175.4L318.8 175.4ZM326.7 201.9L329.7 207.0L323.8 207.0ZM333.9 186.9L336.8 192.0L330.9 192.0ZM326.0 151.7L328.9 156.8L323.0 156.8ZM329.2 168.0L332.2 173.1L326.3 173.1ZM316.0 197.0L318.9 202.1L313.0 202.1ZM329.3 156.3L332.2 161.4L326.3 161.4ZM324.7 192.5L327.7 197.6L321.8 197.6ZM323.5 188.8L326.4 193.9L320.5 193.9ZM334.9 174.4L337.9 179.5L332.0 179.5ZM330.4 214.6L333.3 219.7L327.4 219.7ZM325.8 182.9L328.7 188.0L322.8 188.0ZM328.3 207.3L331.3 212.4L325.4 212.4ZM324.3 168.6L327.2 173.7L321.3 173.7ZM319.6 120.5L322.5 125.6L316.6 125.6ZM324.9 153.8L327.9 158.9L322.0 158.9ZM333.0 162.7L336.0 167.8L330.1 167.8ZM322.0 131.1L324.9 136.2L319.0 136.2ZM321.4 162.5L324.3 167.6L318.4 167.6ZM320.9 199.6L323.9 204.7L318.0 204.7ZM314.7 159.1L317.7 164.2L311.8 164.2ZM325.7 161.2L328.7 166.3L322.8 166.3ZM330.2 204.3L333.2 209.4L327.3 209.4ZM324.4 200.8L327.3 205.9L321.4 205.9ZM332.2 213.1L335.1 218.2L329.2 218.2ZM327.5 193.6L330.4 198.7L324.5 198.7ZM321.2 228.3L324.2 233.4L318.3 233.4ZM325.3 215.0L328.3 220.1L322.4 220.1ZM329.7 207.3L332.6 212.4L326.7 212.4ZM329.9 170.2L332.9 175.3L327.0 175.3ZM332.0 228.4L334.9 233.5L329.0 233.5ZM328.5 184.0L331.4 189.1L325.5 189.1ZM313.6 151.9L316.5 157.0L310.6 157.0ZM322.4 174.5L325.3 179.6L319.4 179.6ZM326.5 157.5L329.5 162.6L323.6 162.6ZM322.5 176.4L325.4 181.5L319.5 181.5ZM316.3 160.0L319.2 165.1L313.3 165.1ZM318.9 209.3L321.9 214.4L316.0 214.4ZM319.3 221.2L322.2 226.3L316.3 226.3ZM317.2 148.5L320.1 153.6L314.2 153.6ZM327.5 200.0L330.4 205.1L324.5 205.1ZM316.7 179.6L319.6 184.7L313.7 184.7ZM329.3 186.5L332.3 191.6L326.4 191.6ZM328.1 231.3L331.1 236.4L325.2 236.4ZM328.6 149.2L331.6 154.3L325.7 154.3ZM314.6 201.5L317.5 206.6L311.6 206.6ZM332.7 196.7L335.7 201.8L329.8 201.8ZM327.4 169.0L330.4 174.1L324.5 174.1ZM327.8 191.7L330.8 196.8L324.9 196.8ZM331.8 200.3L334.8 205.4L328.9 205.4ZM328.4 196.3L331.3 201.4L325.4 201.4ZM322.9 207.1L325.9 212.2L320.0 212.2ZM321.2 212.2L324.1 217.3L318.2 217.3ZM323.9 215.2L326.9 220.3L321.0 220.3ZM330.4 186.6L333.4 191.7L327.5 191.7ZM317.5 190.8L320.5 195.9L314.6 195.9ZM318.2 178.5L321.2 183.6L315.3 183.6ZM320.6 204.2L323.6 209.3L317.7 209.3ZM330.8 155.3L333.8 160.4L327.9 160.4ZM317.8 191.9L320.8 197.0L314.9 197.0ZM315.4 147.9L318.3 153.0L312.4 153.0ZM332.0 215.1L335.0 220.2L329.1 220.2ZM314.5 190.6L317.5 195.7L311.6 195.7ZM331.0 190.4L334.0 195.5L328.1 195.5ZM319.2 170.9L322.1 176.0L316.2 176.0ZM314.5 181.7L317.4 186.8L311.5 186.8ZM324.3 170.3L327.2 175.4L321.3 175.4ZM325.6 227.1L328.6 232.2L322.7 232.2ZM315.6 220.2L318.5 225.3L312.6 225.3ZM330.8 192.2L333.8 197.3L327.9 197.3ZM332.6 133.5L335.6 138.6L329.7 138.6ZM326.3 184.6L329.3 189.7L323.4 189.7ZM328.9 160.2L331.9 165.3L326.0 165.3ZM324.5 213.7L327.5 218.8L321.6 218.8ZM313.7 182.4L316.7 187.5L310.8 187.5ZM316.9 189.6L319.8 194.7L313.9 194.7ZM329.7 182.9L332.7 188.0L326.8 188.0ZM333.5 179.5L336.5 184.6L330.6 184.6ZM317.0 205.7L319.9 210.8L314.0 210.8ZM314.0 216.1L316.9 221.2L311.0 221.2ZM325.3 221.6L328.2 226.7L322.3 226.7ZM313.6 191.5L316.6 196.6L310.7 196.6ZM315.4 216.5L318.3 221.6L312.4 221.6ZM322.2 223.3L325.2 228.4L319.3 228.4ZM317.0 190.3L319.9 195.4L314.0 195.4ZM320.5 157.2L323.5 162.3L317.6 162.3ZM315.2 138.9L318.2 144.0L312.3 144.0ZM324.0 167.1L327.0 172.2L321.1 172.2ZM329.3 218.9L332.2 224.0L326.3 224.0ZM332.1 155.0L335.1 160.1L329.2 160.1ZM332.1 192.4L335.0 197.5L329.1 197.5ZM314.1 215.7L317.0 220.8L311.1 220.8ZM333.9 222.5L336.8 227.6L330.9 227.6ZM334.9 198.0L337.8 203.1L331.9 203.1ZM315.7 199.9L318.6 205.0L312.7 205.0ZM334.3 207.0L337.2 212.1L331.3 212.1ZM319.3 142.5L322.3 147.6L316.4 147.6ZM315.0 152.9L318.0 158.0L312.1 158.0ZM319.6 182.3L322.6 187.4L316.7 187.4ZM335.1 198.8L338.0 203.9L332.1 203.9ZM333.9 148.0L336.9 153.1L331.0 153.1ZM329.4 176.0L332.4 181.1L326.5 181.1ZM328.6 227.2L331.5 232.3L325.6 232.3ZM315.5 216.5L318.4 221.6L312.5 221.6ZM315.7 182.2L318.7 187.3L312.8 187.3ZM335.3 197.7L338.3 202.8L332.4 202.8ZM317.4 199.5L320.3 204.6L314.4 204.6ZM332.4 182.0L335.3 187.1L329.4 187.1ZM313.9 205.5L316.8 210.6L310.9 210.6ZM327.7 175.1L330.6 180.2L324.7 180.2ZM327.2 160.1L330.1 165.2L324.2 165.2ZM334.2 220.3L337.2 225.4L331.3 225.4ZM317.1 220.5L320.0 225.6L314.1 225.6ZM334.0 207.8L337.0 212.9L331.1 212.9ZM324.5 189.1L327.4 194.2L321.5 194.2ZM333.1 205.2L336.0 210.3L330.1 210.3ZM334.2 182.0L337.2 187.1L331.3 187.1ZM325.4 172.2L328.4 177.3L322.5 177.3ZM327.7 216.2L330.7 221.3L324.8 221.3ZM321.0 177.5L324.0 182.6L318.1 182.6ZM331.9 160.6L334.9 165.7L329.0 165.7ZM325.2 188.8L328.1 193.9L322.2 193.9ZM326.8 149.7L329.7 154.8L323.8 154.8ZM314.4 156.9L317.3 162.0L311.4 162.0ZM317.7 175.4L320.6 180.5L314.7 180.5ZM317.0 174.4L320.0 179.5L314.1 179.5ZM327.9 114.7L330.8 119.8L324.9 119.8ZM323.8 160.1L326.8 165.2L320.9 165.2ZM328.7 149.7L331.7 154.8L325.8 154.8ZM328.9 199.9L331.9 205.0L326.0 205.0ZM323.4 223.5L326.4 228.6L320.5 228.6ZM315.5 190.3L318.5 195.4L312.6 195.4ZM334.0 216.2L337.0 221.3L331.1 221.3ZM327.6 178.7L330.5 183.8L324.6 183.8ZM325.5 176.2L328.4 181.3L322.5 181.3ZM323.9 211.9L326.8 217.0L320.9 217.0ZM318.7 177.9L321.7 183.0L315.8 183.0ZM314.5 154.8L317.5 159.9L311.6 159.9ZM322.9 194.6L325.8 199.7L319.9 199.7ZM332.0 221.6L334.9 226.7L329.0 226.7ZM323.3 209.2L326.3 214.3L320.4 214.3ZM331.7 227.2L334.6 232.3L328.7 232.3ZM320.4 216.4L323.3 221.5L317.4 221.5ZM324.9 205.0L327.8 210.1L321.9 210.1ZM332.1 188.7L335.0 193.8L329.1 193.8ZM314.3 186.4L317.3 191.5L311.4 191.5ZM316.2 174.5L319.2 179.6L313.3 179.6ZM314.6 225.8L317.5 230.9L311.6 230.9ZM325.6 198.5L328.6 203.6L322.7 203.6ZM320.8 222.1L323.7 227.2L317.8 227.2ZM330.6 168.3L333.6 173.4L327.7 173.4ZM323.5 211.5L326.5 216.6L320.6 216.6ZM321.1 213.2L324.0 218.3L318.1 218.3ZM313.9 123.9L316.9 129.0L311.0 129.0ZM325.0 189.7L328.0 194.8L322.1 194.8ZM326.6 222.4L329.5 227.5L323.6 227.5ZM329.1 170.0L332.1 175.1L326.2 175.1ZM330.2 220.1L333.2 225.2L327.3 225.2ZM329.8 181.6L332.8 186.7L326.9 186.7ZM328.6 212.1L331.5 217.2L325.6 217.2ZM333.3 207.6L336.2 212.7L330.3 212.7ZM326.2 144.4L329.2 149.5L323.3 149.5ZM330.6 155.4L333.6 160.5L327.7 160.5ZM326.3 189.9L329.3 195.0L323.4 195.0ZM333.2 200.8L336.2 205.9L330.3 205.9ZM316.6 193.6L319.5 198.7L313.6 198.7ZM314.4 206.1L317.4 211.2L311.5 211.2ZM322.1 175.1L325.0 180.2L319.1 180.2ZM328.4 186.7L331.4 191.8L325.5 191.8ZM313.8 208.5L316.8 213.6L310.9 213.6ZM316.4 161.5L319.3 166.6L313.4 166.6ZM328.2 196.9L331.2 202.0L325.3 202.0ZM334.7 159.3L337.6 164.4L331.7 164.4ZM335.2 197.5L338.1 202.6L332.2 202.6ZM320.6 206.4L323.6 211.5L317.7 211.5ZM315.6 159.7L318.5 164.8L312.6 164.8ZM326.5 177.4L329.4 182.5L323.5 182.5ZM322.3 197.8L325.3 202.9L319.4 202.9ZM329.1 189.5L332.1 194.6L326.2 194.6ZM313.8 226.1L316.7 231.2L310.8 231.2ZM331.3 214.5L334.3 219.6L328.4 219.6ZM313.6 214.3L316.6 219.4L310.7 219.4ZM314.6 187.2L317.5 192.3L311.6 192.3ZM332.8 205.0L335.8 210.1L329.9 210.1ZM322.3 214.4L325.2 219.5L319.3 219.5ZM319.7 170.3L322.6 175.4L316.7 175.4ZM318.6 192.1L321.5 197.2L315.6 197.2ZM324.5 172.1L327.5 177.2L321.6 177.2ZM326.0 200.7L328.9 205.8L323.0 205.8ZM325.7 199.9L328.7 205.0L322.8 205.0ZM332.7 216.5L335.6 221.6L329.7 221.6ZM315.5 154.3L318.4 159.4L312.5 159.4ZM322.4 183.5L325.4 188.6L319.5 188.6ZM320.4 157.2L323.4 162.3L317.5 162.3ZM332.8 213.3L335.7 218.4L329.8 218.4ZM322.0 170.5L324.9 175.6L319.0 175.6ZM325.9 174.4L328.9 179.5L323.0 179.5ZM320.9 220.2L323.9 225.3L318.0 225.3ZM323.7 152.9L326.6 158.0L320.7 158.0ZM327.5 222.3L330.4 227.4L324.5 227.4ZM319.9 178.7L322.9 183.8L317.0 183.8ZM329.3 205.3L332.3 210.4L326.4 210.4ZM322.5 157.2L325.4 162.3L319.5 162.3ZM319.0 160.8L322.0 165.9L316.1 165.9ZM323.2 194.5L326.1 199.6L320.2 199.6ZM329.9 214.2L332.8 219.3L326.9 219.3ZM331.2 154.4L334.1 159.5L328.2 159.5ZM313.4 133.0L316.4 138.1L310.5 138.1ZM314.6 182.1L317.5 187.2L311.6 187.2ZM326.2 222.7L329.1 227.8L323.2 227.8ZM323.6 200.3L326.6 205.4L320.7 205.4ZM328.1 220.6L331.0 225.7L325.1 225.7ZM334.8 231.1L337.8 236.2L331.9 236.2ZM319.6 214.7L322.5 219.8L316.6 219.8ZM333.3 194.1L336.2 199.2L330.3 199.2ZM327.1 185.7L330.1 190.8L324.2 190.8ZM323.2 196.8L326.1 201.9L320.2 201.9ZM324.0 172.0L326.9 177.1L321.0 177.1ZM331.4 199.5L334.3 204.6L328.4 204.6ZM327.5 201.8L330.4 206.9L324.5 206.9ZM328.5 179.2L331.4 184.3L325.5 184.3ZM332.3 200.5L335.2 205.6L329.3 205.6ZM321.0 184.0L323.9 189.1L318.0 189.1ZM321.0 196.6L323.9 201.7L318.0 201.7ZM335.4 177.8L338.4 182.9L332.5 182.9ZM321.4 189.5L324.4 194.6L318.5 194.6ZM328.4 201.0L331.3 206.1L325.4 206.1ZM319.3 181.8L322.3 186.9L316.4 186.9ZM334.4 198.7L337.3 203.8L331.4 203.8ZM325.5 204.0L328.5 209.1L322.6 209.1ZM331.6 176.5L334.5 181.6L328.6 181.6ZM316.5 174.9L319.4 180.0L313.5 180.0ZM327.7 178.0L330.6 183.1L324.7 183.1ZM325.0 170.5L327.9 175.6L322.0 175.6ZM330.4 123.9L333.4 129.0L327.5 129.0ZM328.7 162.7L331.7 167.8L325.8 167.8ZM333.4 146.2L336.3 151.3L330.4 151.3ZM324.4 201.8L327.4 206.9L321.5 206.9ZM331.7 154.1L334.7 159.2L328.8 159.2ZM331.1 194.5L334.1 199.6L328.2 199.6ZM318.9 198.5L321.8 203.6L315.9 203.6ZM326.8 196.7L329.7 201.8L323.8 201.8ZM315.9 202.0L318.9 207.1L313.0 207.1ZM323.7 162.4L326.7 167.5L320.8 167.5ZM315.6 231.7L318.6 236.8L312.7 236.8ZM314.4 155.7L317.4 160.8L311.5 160.8ZM326.0 193.3L329.0 198.4L323.1 198.4ZM327.5 174.0L330.4 179.1L324.5 179.1ZM319.9 223.7L322.8 228.8L316.9 228.8ZM318.1 209.3L321.0 214.4L315.1 214.4ZM96.6 250.2L99.5 255.3L93.6 255.3ZM109.4 245.5L112.4 250.6L106.5 250.6ZM124.3 242.5L127.2 247.6L121.3 247.6ZM161.5 237.6L164.4 242.7L158.6 242.7ZM162.0 250.4L164.9 255.5L159.1 255.5ZM56.0 230.6L59.0 235.7L53.0 235.7Z"/></g>
<g fill="#FF8C00"><circle cx="44.6" cy="268.3" r="2.0"/><circle cx="39.1" cy="270.0" r="2.0"/><circle cx="38.7" cy="271.9" r="2.0"/><circle cx="47.0" cy="271.6" r="2.0"/><circle cx="46.8" cy="271.4" r="2.0"/><circle cx="42.4" cy="266.5" r="2.0"/><circle cx="50.2" cy="266.4" r="2.0"/><circle cx="38.5" cy="270.4" r="2.0"/><circle cx="40.6" cy="270.3" r="2.0"/><circle cx="55.5" cy="268.7" r="2.0"/><circle cx="51.6" cy="268.9" r="2.0"/><circle cx="38.8" cy="270.9" r="2.0"/><circle cx="52.5" cy="270.3" r="2.0"/><circle cx="50.4" cy="270.4" r="2.0"/><circle cx="55.0" cy="270.7" r="2.0"/><circle cx="50.1" cy="267.0" r="2.0"/><circle cx="53.6" cy="266.3" r="2.0"/><circle cx="40.1" cy="267.7" r="2.0"/><circle cx="40.8" cy="271.9" r="2.0"/><circle cx="52.2" cy="268.8" r="2.0"/><circle cx="56.8" cy="268.0" r="2.0"/><circle cx="50.6" cy="269.4" r="2.0"/><circle cx="56.0" cy="269.3" r="2.0"/><circle cx="52.1" cy="268.0" r="2.0"/><circle cx="51.7" cy="267.3" r="2.0"/><circle cx="43.7" cy="268.2" r="2.0"/><circle cx="38.0" cy="271.2" r="2.0"/><circle cx="40.0" cy="267.6" r="2.0"/><circle cx="40.3" cy="269.8" r="2.0"/><circle cx="56.7" cy="269.5" r="2.0"/><circle cx="49.6" cy="267.3" r="2.0"/><circle cx="56.5" cy="269.7" r="2.0"/><circle cx="45.4" cy="266.5" r="2.0"/><circle cx="40.8" cy="270.8" r="2.0"/><circle cx="42.6" cy="268.7" r="2.0"/><circle cx="43.3" cy="275.8" r="2.0"/><circle cx="45.6" cy="266.5" r="2.0"/><circle cx="52.7" cy="268.5" r="2.0"/><circle cx="52.4" cy="266.8" r="2.0"/><circle cx="54.7" cy="267.4" r="2.0"/><circle cx="46.1" cy="271.5" r="2.0"/><circle cx="51.5" cy="271.8" r="2.0"/><circle cx="42.1" cy="270.1" r="2.0"/><circle cx="38.6" cy="275.3" r="2.0"/><circle cx="39.7" cy="272.0" r="2.0"/><circle cx="56.8" cy="271.3" r="2.0"/><circle cx="43.0" cy="270.0" r="2.0"/><circle cx="40.2" cy="266.3" r="2.0"/><circle cx="47.7" cy="271.6" r="2.0"/><circle cx="39.7" cy="270.6" r="2.0"/><circle cx="55.8" cy="272.0" r="2.0"/><circle cx="58.5" cy="271.3" r="2.0"/><circle cx="49.5" cy="276.0" r="2.0"/><circle cx="59.1" cy="268.0" r="2.0"/><circle cx="43.2" cy="271.2" r="2.0"/><circle cx="54.5" cy="267.5" r="2.0"/><circle cx="44.7" cy="267.3" r="2.0"/><circle cx="59.2" cy="267.4" r="2.0"/><circle cx="55.5" cy="270.8" r="2.0"/><circle cx="48.9" cy="272.0" r="2.0"/><circle cx="38.1" cy="270.6" r="2.0"/><circle cx="52.7" cy="269.5" r="2.0"/><circle cx="58.1" cy="266.5" r="2.0"/><circle cx="45.5" cy="270.8" r="2.0"/><circle cx="41.8" cy="268.5" r="2.0"/><circle cx="57.3" cy="269.3" r="2.0"/><circle cx="51.9" cy="271.7" r="2.0"/><circle cx="52.0" cy="267.5" r="2.0"/><circle cx="54.0" cy="271.1" r="2.0"/><circle cx="54.9" cy="267.4" r="2.0"/><circle cx="58.9" cy="269.8" r="2.0"/><circle cx="58.4" cy="271.1" r="2.0"/><circle cx="40.3" cy="266.8" r="2.0"/><circle cx="55.3" cy="267.3" r="2.0"/><circle cx="59.1" cy="270.1" r="2.0"/><circle cx="49.6" cy="272.1" r="2.0"/><circle cx="58.9" cy="269.0" r="2.0"/><circle cx="58.1" cy="267.0" r="2.0"/><circle cx="55.7" cy="270.7" r="2.0"/><circle cx="43.9" cy="268.7" r="2.0"/><circle cx="43.2" cy="271.4" r="2.0"/><circle cx="57.5" cy="269.4" r="2.0"/><circle cx="50.3" cy="269.7" r="2.0"/><circle cx="57.7" cy="269.0" r="2.0"/><circle cx="49.0" cy="275.8" r="2.0"/><circle cx="41.5" cy="276.4" r="2.0"/><circle cx="41.3" cy="267.9" r="2.0"/><circle cx="49.7" cy="269.1" r="2.0"/><circle cx="49.7" cy="271.5" r="2.0"/><circle cx="49.8" cy="270.5" r="2.0"/><circle cx="54.5" cy="268.8" r="2.0"/><circle cx="54.2" cy="269.5" r="2.0"/><circle cx="51.0" cy="269.1" r="2.0"/><circle cx="52.8" cy="269.0" r="2.0"/><circle cx="48.0" cy="268.0" r="2.0"/><circle cx="56.8" cy="270.6" r="2.0"/><circle cx="49.8" cy="267.2" r="2.0"/><circle cx="40.5" cy="269.5" r="2.0"/><circle cx="39.1" cy="271.7" r="2.0"/><circle cx="52.2" cy="266.8" r="2.0"/><circle cx="40.9" cy="268.2" r="2.0"/><circle cx="40.6" cy="266.4" r="2.0"/><circle cx="42.3" cy="269.8" r="2.0"/><circle cx="48.2" cy="267.2" r="2.0"/><circle cx="41.0" cy="269.1" r="2.0"/><circle cx="44.9" cy="270.3" r="2.0"/><circle cx="53.4" cy="276.0" r="2.0"/><circle cx="47.2" cy="275.6" r="2.0"/><circle cx="51.2" cy="271.8" r="2.0"/><circle cx="59.2" cy="266.4" r="2.0"/><circle cx="39.8" cy="271.9" r="2.0"/><circle cx="54.7" cy="271.4" r="2.0"/><circle cx="46.8" cy="267.3" r="2.0"/><circle cx="43.2" cy="266.7" r="2.0"/><circle cx="50.1" cy="271.6" r="2.0"/><circle cx="38.7" cy="269.6" r="2.0"/><circle cx="39.1" cy="268.4" r="2.0"/><circle cx="55.2" cy="267.1" r="2.0"/><circle cx="38.9" cy="269.5" r="2.0"/><circle cx="44.9" cy="266.7" r="2.0"/><circle cx="43.4" cy="269.0" r="2.0"/><circle cx="42.7" cy="271.2" r="2.0"/><circle cx="38.6" cy="270.3" r="2.0"/><circle cx="44.2" cy="270.4" r="2.0"/><circle cx="48.5" cy="270.1" r="2.0"/><circle cx="37.9" cy="272.1" r="2.0"/><circle cx="53.6" cy="271.0" r="2.0"/><circle cx="47.9" cy="271.5" r="2.0"/><circle cx="55.5" cy="269.2" r="2.0"/><circle cx="55.9" cy="269.2" r="2.0"/><circle cx="52.6" cy="270.1" r="2.0"/><circle cx="55.8" cy="268.4" r="2.0"/><circle cx="46.4" cy="271.8" r="2.0"/><circle cx="40.3" cy="267.8" r="2.0"/><circle cx="43.1" cy="271.7" r="2.0"/><circle cx="56.0" cy="268.2" r="2.0"/><circle cx="43.7" cy="270.4" r="2.0"/><circle cx="47.6" cy="269.5" r="2.0"/><circle cx="43.3" cy="266.4" r="2.0"/><circle cx="49.5" cy="266.4" r="2.0"/><circle cx="44.3" cy="272.1" r="2.0"/><circle cx="45.9" cy="269.2" r="2.0"/><circle cx="41.9" cy="272.1" r="2.0"/><circle cx="43.3" cy="269.8" r="2.0"/><circle cx="38.4" cy="275.5" r="2.0"/><circle cx="42.6" cy="269.0" r="2.0"/><circle cx="54.0" cy="267.9" r="2.0"/><circle cx="56.9" cy="270.2" r="2.0"/><circle cx="59.2" cy="267.9" r="2.0"/><circle cx="51.7" cy="276.5" r="2.0"/><circle cx="57.2" cy="267.8" r="2.0"/><circle cx="55.4" cy="269.0" r="2.0"/><circle cx="48.6" cy="267.4" r="2.0"/><circle cx="55.7" cy="266.9" r="2.0"/><circle cx="52.5" cy="270.8" r="2.0"/><circle cx="38.2" cy="270.0" r="2.0"/><circle cx="39.8" cy="268.8" r="2.0"/><circle cx="51.3" cy="268.1" r="2.0"/><circle cx="48.3" cy="276.4" r="2.0"/><circle cx="54.0" cy="269.0" r="2.0"/><circle cx="52.0" cy="267.8" r="2.0"/><circle cx="43.0" cy="270.6" r="2.0"/><circle cx="53.6" cy="267.8" r="2.0"/><circle cx="59.0" cy="269.9" r="2.0"/><circle cx="48.0" cy="267.6" r="2.0"/><circle cx="51.1" cy="271.7" r="2.0"/><circle cx="40.7" cy="267.7" r="2.0"/><circle cx="44.2" cy="272.1" r="2.0"/><circle cx="38.8" cy="268.2" r="2.0"/><circle cx="52.7" cy="270.4" r="2.0"/><circle cx="48.9" cy="269.4" r="2.0"/><circle cx="40.1" cy="271.0" r="2.0"/><circle cx="59.1" cy="272.1" r="2.0"/><circle cx="47.6" cy="266.4" r="2.0"/><circle cx="47.4" cy="270.9" r="2.0"/><circle cx="58.3" cy="268.7" r="2.0"/><circle cx="40.6" cy="266.5" r="2.0"/><circle cx="40.4" cy="269.1" r="2.0"/><circle cx="57.0" cy="270.8" r="2.0"/><circle cx="57.3" cy="272.0" r="2.0"/><circle cx="37.5" cy="269.5" r="2.0"/><circle cx="44.1" cy="270.1" r="2.0"/><circle cx="44.4" cy="272.1" r="2.0"/><circle cx="54.0" cy="271.4" r="2.0"/><circle cx="57.9" cy="266.8" r="2.0"/><circle cx="43.9" cy="269.8" r="2.0"/><circle cx="59.5" cy="270.0" r="2.0"/><circle cx="46.9" cy="271.9" r="2.0"/><circle cx="39.7" cy="270.5" r="2.0"/><circle cx="58.1" cy="270.6" r="2.0"/><circle cx="48.7" cy="269.9" r="2.0"/><circle cx="58.6" cy="267.3" r="2.0"/><circle cx="51.4" cy="266.6" r="2.0"/><circle cx="49.6" cy="271.9" r="2.0"/><circle cx="53.6" cy="267.7" r="2.0"/><circle cx="51.7" cy="271.9" r="2.0"/><circle cx="57.9" cy="269.4" r="2.0"/><circle cx="45.0" cy="267.8" r="2.0"/><circle cx="59.0" cy="268.3" r="2.0"/><circle cx="44.1" cy="269.8" r="2.0"/><circle cx="41.2" cy="270.9" r="2.0"/><circle cx="57.5" cy="270.8" r="2.0"/><circle cx="57.5" cy="269.5" r="2.0"/><circle cx="40.5" cy="271.6" r="2.0"/><circle cx="45.0" cy="270.7" r="2.0"/><circle cx="43.2" cy="266.9" r="2.0"/><circle cx="54.0" cy="269.7" r="2.0"/><circle cx="49.0" cy="270.1" r="2.0"/><circle cx="38.8" cy="266.4" r="2.0"/><circle cx="40.2" cy="268.4" r="2.0"/><circle cx="56.5" cy="270.5" r="2.0"/><circle cx="42.9" cy="269.5" r="2.0"/><circle cx="58.5" cy="267.0" r="2.0"/><circle cx="37.9" cy="276.3" r="2.0"/><circle cx="57.2" cy="268.7" r="2.0"/><circle cx="37.5" cy="266.7" r="2.0"/><circle cx="55.7" cy="266.4" r="2.0"/><circle cx="42.9" cy="271.2" r="2.0"/><circle cx="49.0" cy="266.6" r="2.0"/><circle cx="53.4" cy="267.6" r="2.0"/><circle cx="47.6" cy="271.9" r="2.0"/><circle cx="54.7" cy="266.7" r="2.0"/><circle cx="51.7" cy="271.4" r="2.0"/><circle cx="43.0" cy="268.0" r="2.0"/><circle cx="39.9" cy="269.0" r="2.0"/><circle cx="50.3" cy="270.8" r="2.0"/><circle cx="50.7" cy="275.5" r="2.0"/><circle cx="47.6" cy="268.3" r="2.0"/><circle cx="57.0" cy="270.8" r="2.0"/><circle cx="42.9" cy="268.0" r="2.0"/><circle cx="44.2" cy="275.9" r="2.0"/><circle cx="52.4" cy="270.6" r="2.0"/><circle cx="52.2" cy="270.8" r="2.0"/><circle cx="38.2" cy="269.7" r="2.0"/><circle cx="52.5" cy="267.4" r="2.0"/><circle cx="53.8" cy="270.9" r="2.0"/><circle cx="58.9" cy="267.3" r="2.0"/><circle cx="42.6" cy="267.6" r="2.0"/><circle cx="44.0" cy="269.2" r="2.0"/><circle cx="41.6" cy="269.7" r="2.0"/><circle cx="52.1" cy="271.3" r="2.0"/><circle cx="46.1" cy="266.4" r="2.0"/><circle cx="40.6" cy="271.8" r="2.0"/><circle cx="46.1" cy="266.9" r="2.0"/><circle cx="53.6" cy="266.6" r="2.0"/><circle cx="44.7" cy="266.6" r="2.0"/><circle cx="53.9" cy="276.2" r="2.0"/><circle cx="45.8" cy="270.2" r="2.0"/><circle cx="41.2" cy="275.5" r="2.0"/><circle cx="45.2" cy="271.4" r="2.0"/><circle cx="58.7" cy="270.0" r="2.0"/><circle cx="55.6" cy="269.6" r="2.0"/><circle cx="38.6" cy="269.9" r="2.0"/><circle cx="57.8" cy="270.0" r="2.0"/><circle cx="57.3" cy="275.7" r="2.0"/><circle cx="55.4" cy="271.9" r="2.0"/><circle cx="38.2" cy="266.7" r="2.0"/><circle cx="43.1" cy="266.8" r="2.0"/><circle cx="44.9" cy="266.5" r="2.0"/><circle cx="51.1" cy="267.9" r="2.0"/><circle cx="44.4" cy="272.1" r="2.0"/><circle cx="54.1" cy="268.4" r="2.0"/><circle cx="58.3" cy="275.4" r="2.0"/><circle cx="48.0" cy="266.5" r="2.0"/><circle cx="46.0" cy="269.6" r="2.0"/><circle cx="48.4" cy="271.1" r="2.0"/><circle cx="55.2" cy="267.3" r="2.0"/><circle cx="54.5" cy="270.2" r="2.0"/><circle cx="44.5" cy="267.5" r="2.0"/><circle cx="39.2" cy="267.7" r="2.0"/><circle cx="42.9" cy="272.0" r="2.0"/><circle cx="49.7" cy="266.3" r="2.0"/><circle cx="57.0" cy="270.6" r="2.0"/><circle cx="39.3" cy="269.2" r="2.0"/><circle cx="53.1" cy="270.8" r="2.0"/><circle cx="46.7" cy="268.2" r="2.0"/><circle cx="54.0" cy="268.2" r="2.0"/><circle cx="40.1" cy="270.4" r="2.0"/><circle cx="50.0" cy="267.8" r="2.0"/><circle cx="41.9" cy="270.7" r="2.0"/><circle cx="40.8" cy="268.7" r="2.0"/><circle cx="44.7" cy="266.3" r="2.0"/><circle cx="48.7" cy="267.4" r="2.0"/><circle cx="51.9" cy="271.5" r="2.0"/><circle cx="47.9" cy="267.2" r="2.0"/><circle cx="57.6" cy="275.5" r="2.0"/><circle cx="40.1" cy="266.4" r="2.0"/><circle cx="50.3" cy="269.9" r="2.0"/><circle cx="56.6" cy="270.6" r="2.0"/><circle cx="54.6" cy="271.5" r="2.0"/><circle cx="50.6" cy="270.9" r="2.0"/><circle cx="45.6" cy="270.9" r="2.0"/><circle cx="43.1" cy="268.3" r="2.0"/><circle cx="42.0" cy="275.6" r="2.0"/><circle cx="52.4" cy="270.3" r="2.0"/><circle cx="42.0" cy="268.9" r="2.0"/><circle cx="38.9" cy="269.8" r="2.0"/><circle cx="49.6" cy="271.6" r="2.0"/><circle cx="41.1" cy="269.7" r="2.0"/><circle cx="43.7" cy="266.5" r="2.0"/><circle cx="71.9" cy="270.0" r="2.0"/><circle cx="74.2" cy="266.2" r="2.0"/><circle cx="73.1" cy="267.8" r="2.0"/><circle cx="69.5" cy="276.6" r="2.0"/><circle cx="74.4" cy="269.7" r="2.0"/><circle cx="84.5" cy="271.2" r="2.0"/><circle cx="65.4" cy="268.4" r="2.0"/><circle cx="85.1" cy="268.5" r="2.0"/><circle cx="73.2" cy="271.3" r="2.0"/><circle cx="71.3" cy="266.7" r="2.0"/><circle cx="67.5" cy="267.4" r="2.0"/><circle cx="86.4" cy="271.4" r="2.0"/><circle cx="85.9" cy="269.3" r="2.0"/><circle cx="66.2" cy="269.9" r="2.0"/><circle cx="85.0" cy="267.3" r="2.0"/><circle cx="68.6" cy="270.8" r="2.0"/><circle cx="74.0" cy="267.2" r="2.0"/><circle cx="69.1" cy="269.8" r="2.0"/><circle cx="76.5" cy="271.4" r="2.0"/><circle cx="70.5" cy="266.8" r="2.0"/><circle cx="66.0" cy="267.7" r="2.0"/><circle cx="65.9" cy="271.5" r="2.0"/><circle cx="78.3" cy="268.4" r="2.0"/><circle cx="71.8" cy="268.7" r="2.0"/><circle cx="74.5" cy="269.5" r="2.0"/><circle cx="74.7" cy="276.1" r="2.0"/><circle cx="75.9" cy="267.6" r="2.0"/><circle cx="82.3" cy="271.1" r="2.0"/><circle cx="75.5" cy="271.4" r="2.0"/><circle cx="74.6" cy="269.5" r="2.0"/><circle cx="76.3" cy="276.1" r="2.0"/><circle cx="66.9" cy="267.5" r="2.0"/><circle cx="76.3" cy="269.2" r="2.0"/><circle cx="73.4" cy="271.3" r="2.0"/><circle cx="84.0" cy="267.8" r="2.0"/><circle cx="83.0" cy="266.3" r="2.0"/><circle cx="75.9" cy="266.7" r="2.0"/><circle cx="68.7" cy="266.6" r="2.0"/><circle cx="66.5" cy="267.7" r="2.0"/><circle cx="68.6" cy="270.5" r="2.0"/><circle cx="83.1" cy="269.2" r="2.0"/><circle cx="85.4" cy="270.6" r="2.0"/><circle cx="76.2" cy="271.9" r="2.0"/><circle cx="69.1" cy="266.6" r="2.0"/><circle cx="80.1" cy="271.2" r="2.0"/><circle cx="82.4" cy="269.0" r="2.0"/><circle cx="79.1" cy="267.0" r="2.0"/><circle cx="77.3" cy="266.9" r="2.0"/><circle cx="67.4" cy="268.4" r="2.0"/><circle cx="73.8" cy="270.6" r="2.0"/><circle cx="86.9" cy="270.0" r="2.0"/><circle cx="81.9" cy="271.1" r="2.0"/><circle cx="81.5" cy="276.5" r="2.0"/><circle cx="70.7" cy="266.3" r="2.0"/><circle cx="78.0" cy="270.3" r="2.0"/><circle cx="65.1" cy="275.3" r="2.0"/><circle cx="78.7" cy="269.1" r="2.0"/><circle cx="84.8" cy="270.8" r="2.0"/><circle cx="79.5" cy="275.0" r="2.0"/><circle cx="72.9" cy="270.0" r="2.0"/><circle cx="70.0" cy="268.7" r="2.0"/><circle cx="69.6" cy="269.3" r="2.0"/><circle cx="68.0" cy="270.7" r="2.0"/><circle cx="68.3" cy="268.4" r="2.0"/><circle cx="84.3" cy="269.8" r="2.0"/><circle cx="70.9" cy="276.2" r="2.0"/><circle cx="77.5" cy="268.3" r="2.0"/><circle cx="74.8" cy="267.8" r="2.0"/><circle cx="70.5" cy="271.9" r="2.0"/><circle cx="76.8" cy="270.7" r="2.0"/><circle cx="66.3" cy="272.1" r="2.0"/><circle cx="77.2" cy="271.3" r="2.0"/><circle cx="69.5" cy="269.1" r="2.0"/><circle cx="79.2" cy="271.1" r="2.0"/><circle cx="71.9" cy="271.9" r="2.0"/><circle cx="84.7" cy="267.9" r="2.0"/><circle cx="65.2" cy="267.7" r="2.0"/><circle cx="75.3" cy="269.5" r="2.0"/><circle cx="70.0" cy="270.8" r="2.0"/><circle cx="65.9" cy="267.7" r="2.0"/><circle cx="80.4" cy="267.9" r="2.0"/><circle cx="70.9" cy="269.6" r="2.0"/><circle cx="82.5" cy="270.6" r="2.0"/><circle cx="79.2" cy="270.9" r="2.0"/><circle cx="84.5" cy="275.5" r="2.0"/><circle cx="70.3" cy="266.6" r="2.0"/><circle cx="81.5" cy="266.9" r="2.0"/><circle cx="72.3" cy="266.8" r="2.0"/><circle cx="79.0" cy="268.2" r="2.0"/><circle cx="86.7" cy="267.2" r="2.0"/><circle cx="80.5" cy="269.6" r="2.0"/><circle cx="81.0" cy="270.3" r="2.0"/><circle cx="69.7" cy="271.7" r="2.0"/><circle cx="85.2" cy="272.0" r="2.0"/><circle cx="67.4" cy="270.1" r="2.0"/><circle cx="68.2" cy="275.1" r="2.0"/><circle cx="80.3" cy="268.0" r="2.0"/><circle cx="81.3" cy="268.7" r="2.0"/><circle cx="73.1" cy="267.3" r="2.0"/><circle cx="84.7" cy="267.0" r="2.0"/><circle cx="85.2" cy="271.5" r="2.0"/><circle cx="69.6" cy="271.9" r="2.0"/><circle cx="83.8" cy="268.4" r="2.0"/><circle cx="83.3" cy="270.5" r="2.0"/><circle cx="67.3" cy="267.7" r="2.0"/><circle cx="69.6" cy="269.6" r="2.0"/><circle cx="65.5" cy="270.5" r="2.0"/><circle cx="80.9" cy="270.3" r="2.0"/><circle cx="86.3" cy="267.1" r="2.0"/><circle cx="78.7" cy="275.7" r="2.0"/><circle cx="74.7" cy="270.1" r="2.0"/><circle cx="80.6" cy="270.9" r="2.0"/><circle cx="84.1" cy="267.3" r="2.0"/><circle cx="68.8" cy="275.4" r="2.0"/><circle cx="81.9" cy="272.1" r="2.0"/><circle cx="75.9" cy="267.4" r="2.0"/><circle cx="69.1" cy="270.1" r="2.0"/><circle cx="83.4" cy="266.6" r="2.0"/><circle cx="71.3" cy="268.0" r="2.0"/><circle cx="76.1" cy="268.4" r="2.0"/><circle cx="66.8" cy="268.0" r="2.0"/><circle cx="82.4" cy="270.0" r="2.0"/><circle cx="73.9" cy="266.9" r="2.0"/><circle cx="67.0" cy="272.0" r="2.0"/><circle cx="69.6" cy="266.8" r="2.0"/><circle cx="76.1" cy="266.9" r="2.0"/><circle cx="70.2" cy="269.0" r="2.0"/><circle cx="81.7" cy="268.3" r="2.0"/><circle cx="72.7" cy="271.2" r="2.0"/><circle cx="83.7" cy="267.8" r="2.0"/><circle cx="68.8" cy="267.6" r="2.0"/><circle cx="77.8" cy="269.4" r="2.0"/><circle cx="84.6" cy="271.0" r="2.0"/><circle cx="71.7" cy="267.2" r="2.0"/><circle cx="68.5" cy="270.7" r="2.0"/><circle cx="72.3" cy="271.2" r="2.0"/><circle cx="72.3" cy="266.4" r="2.0"/><circle cx="81.1" cy="266.4" r="2.0"/><circle cx="67.3" cy="266.3" r="2.0"/><circle cx="82.6" cy="269.6" r="2.0"/><circle cx="69.4" cy="271.5" r="2.0"/><circle cx="69.6" cy="272.0" r="2.0"/><circle cx="73.9" cy="268.0" r="2.0"/><circle cx="76.1" cy="269.4" r="2.0"/><circle cx="68.2" cy="269.8" r="2.0"/><circle cx="81.4" cy="269.6" r="2.0"/><circle cx="77.7" cy="269.7" r="2.0"/><circle cx="70.1" cy="266.9" r="2.0"/><circle cx="82.1" cy="267.1" r="2.0"/><circle cx="80.1" cy="269.5" r="2.0"/><circle cx="72.0" cy="271.6" r="2.0"/><circle cx="74.3" cy="267.9" r="2.0"/><circle cx="79.0" cy="269.6" r="2.0"/><circle cx="75.1" cy="269.7" r="2.0"/><circle cx="80.0" cy="271.1" r="2.0"/><circle cx="79.5" cy="269.8" r="2.0"/><circle cx="75.9" cy="271.9" r="2.0"/><circle cx="77.0" cy="267.5" r="2.0"/><circle cx="85.8" cy="271.6" r="2.0"/><circle cx="77.7" cy="267.9" r="2.0"/><circle cx="76.4" cy="267.2" r="2.0"/><circle cx="76.6" cy="266.5" r="2.0"/><circle cx="69.7" cy="269.8" r="2.0"/><circle cx="81.9" cy="266.3" r="2.0"/><circle cx="72.9" cy="270.5" r="2.0"/><circle cx="73.9" cy="275.8" r="2.0"/><circle cx="74.3" cy="270.1" r="2.0"/><circle cx="70.9" cy="267.8" r="2.0"/><circle cx="85.8" cy="270.9" r="2.0"/><circle cx="82.7" cy="270.9" r="2.0"/><circle cx="67.9" cy="267.4" r="2.0"/><circle cx="79.1" cy="268.8" r="2.0"/><circle cx="70.0" cy="270.1" r="2.0"/><circle cx="79.2" cy="267.3" r="2.0"/><circle cx="75.4" cy="268.9" r="2.0"/><circle cx="67.8" cy="270.1" r="2.0"/><circle cx="83.8" cy="269.9" r="2.0"/><circle cx="70.7" cy="271.1" r="2.0"/><circle cx="65.1" cy="270.5" r="2.0"/><circle cx="70.5" cy="269.3" r="2.0"/><circle cx="74.5" cy="268.2" r="2.0"/><circle cx="73.1" cy="267.1" r="2.0"/><circle cx="66.3" cy="266.8" r="2.0"/><circle cx="82.4" cy="267.2" r="2.0"/><circle cx="79.0" cy="275.0" r="2.0"/><circle cx="86.1" cy="270.7" r="2.0"/><circle cx="67.3" cy="270.8" r="2.0"/><circle cx="82.2" cy="271.2" r="2.0"/><circle cx="85.0" cy="271.2" r="2.0"/><circle cx="84.7" cy="267.5" r="2.0"/><circle cx="79.8" cy="267.5" r="2.0"/><circle cx="83.6" cy="268.0" r="2.0"/><circle cx="76.8" cy="269.6" r="2.0"/><circle cx="84.5" cy="270.6" r="2.0"/><circle cx="70.2" cy="269.2" r="2.0"/><circle cx="66.3" cy="271.3" r="2.0"/><circle cx="75.9" cy="269.0" r="2.0"/><circle cx="84.1" cy="276.5" r="2.0"/><circle cx="75.4" cy="268.2" r="2.0"/><circle cx="83.6" cy="269.7" r="2.0"/><circle cx="86.3" cy="268.4" r="2.0"/><circle cx="79.1" cy="276.1" r="2.0"/><circle cx="80.1" cy="270.2" r="2.0"/><circle cx="86.7" cy="269.3" r="2.0"/><circle cx="84.9" cy="276.3" r="2.0"/><circle cx="78.9" cy="267.0" r="2.0"/><circle cx="73.1" cy="269.0" r="2.0"/><circle cx="82.1" cy="269.6" r="2.0"/><circle cx="74.4" cy="267.3" r="2.0"/><circle cx="71.5" cy="269.8" r="2.0"/><circle cx="76.2" cy="269.2" r="2.0"/><circle cx="86.6" cy="267.5" r="2.0"/><circle cx="72.4" cy="270.4" r="2.0"/><circle cx="78.0" cy="267.5" r="2.0"/><circle cx="65.9" cy="266.9" r="2.0"/><circle cx="77.1" cy="275.5" r="2.0"/><circle cx="65.2" cy="266.7" r="2.0"/><circle cx="78.5" cy="267.5" r="2.0"/><circle cx="85.1" cy="268.5" r="2.0"/><circle cx="78.9" cy="268.6" r="2.0"/><circle cx="80.1" cy="268.2" r="2.0"/><circle cx="75.2" cy="271.6" r="2.0"/><circle cx="69.1" cy="276.4" r="2.0"/><circle cx="85.2" cy="270.0" r="2.0"/><circle cx="83.2" cy="268.8" r="2.0"/><circle cx="70.7" cy="269.7" r="2.0"/><circle cx="72.1" cy="268.3" r="2.0"/><circle cx="85.7" cy="268.8" r="2.0"/><circle cx="65.9" cy="267.4" r="2.0"/><circle cx="77.8" cy="269.5" r="2.0"/><circle cx="65.4" cy="268.6" r="2.0"/><circle cx="85.8" cy="269.3" r="2.0"/><circle cx="74.2" cy="268.3" r="2.0"/><circle cx="69.7" cy="272.1" r="2.0"/><circle cx="65.2" cy="271.4" r="2.0"/><circle cx="86.4" cy="267.0" r="2.0"/><circle cx="67.9" cy="276.3" r="2.0"/><circle cx="70.4" cy="271.0" r="2.0"/><circle cx="66.2" cy="267.9" r="2.0"/><circle cx="83.9" cy="271.7" r="2.0"/><circle cx="78.9" cy="269.4" r="2.0"/><circle cx="85.6" cy="266.4" r="2.0"/><circle cx="80.9" cy="275.0" r="2.0"/><circle cx="79.4" cy="271.7" r="2.0"/><circle cx="71.9" cy="271.2" r="2.0"/><circle cx="84.1" cy="271.8" r="2.0"/><circle cx="73.2" cy="269.6" r="2.0"/><circle cx="80.0" cy="267.4" r="2.0"/><circle cx="73.1" cy="268.4" r="2.0"/><circle cx="74.3" cy="267.5" r="2.0"/><circle cx="85.9" cy="268.8" r="2.0"/><circle cx="71.5" cy="266.4" r="2.0"/><circle cx="80.6" cy="270.2" r="2.0"/><circle cx="78.4" cy="267.2" r="2.0"/><circle cx="78.3" cy="269.6" r="2.0"/><circle cx="84.7" cy="268.1" r="2.0"/><circle cx="78.3" cy="267.4" r="2.0"/><circle cx="71.3" cy="275.5" r="2.0"/><circle cx="74.4" cy="267.3" r="2.0"/><circle cx="84.6" cy="276.5" r="2.0"/><circle cx="83.0" cy="268.8" r="2.0"/><circle cx="71.1" cy="267.4" r="2.0"/><circle cx="80.2" cy="270.1" r="2.0"/><circle cx="66.9" cy="267.4" r="2.0"/><circle cx="69.5" cy="266.6" r="2.0"/><circle cx="70.2" cy="268.1" r="2.0"/><circle cx="75.3" cy="270.6" r="2.0"/><circle cx="81.6" cy="269.4" r="2.0"/><circle cx="67.0" cy="267.6" r="2.0"/><circle cx="70.2" cy="266.8" r="2.0"/><circle cx="84.6" cy="269.3" r="2.0"/><circle cx="78.1" cy="271.0" r="2.0"/><circle cx="69.0" cy="270.0" r="2.0"/><circle cx="77.5" cy="269.1" r="2.0"/><circle cx="68.3" cy="276.8" r="2.0"/><circle cx="73.3" cy="268.4" r="2.0"/><circle cx="82.4" cy="268.6" r="2.0"/><circle cx="72.7" cy="272.0" r="2.0"/><circle cx="65.8" cy="267.0" r="2.0"/><circle cx="75.8" cy="270.6" r="2.0"/><circle cx="82.3" cy="266.5" r="2.0"/><circle cx="82.0" cy="266.4" r="2.0"/><circle cx="70.7" cy="275.4" r="2.0"/><circle cx="69.0" cy="271.9" r="2.0"/><circle cx="77.4" cy="269.4" r="2.0"/><circle cx="86.0" cy="271.8" r="2.0"/><circle cx="78.3" cy="271.4" r="2.0"/><circle cx="86.2" cy="268.8" r="2.0"/><circle cx="79.2" cy="268.2" r="2.0"/><circle cx="73.7" cy="271.2" r="2.0"/><circle cx="86.4" cy="270.8" r="2.0"/><circle cx="65.9" cy="270.1" r="2.0"/><circle cx="97.6" cy="271.5" r="2.0"/><circle cx="98.2" cy="272.0" r="2.0"/><circle cx="94.8" cy="271.0" r="2.0"/><circle cx="93.0" cy="268.7" r="2.0"/><circle cx="104.2" cy="271.5" r="2.0"/><circle cx="111.8" cy="271.9" r="2.0"/><circle cx="95.4" cy="269.2" r="2.0"/><circle cx="98.8" cy="269.7" r="2.0"/><circle cx="95.7" cy="267.0" r="2.0"/><circle cx="95.9" cy="267.7" r="2.0"/><circle cx="96.3" cy="266.6" r="2.0"/><circle cx="101.2" cy="267.2" r="2.0"/><circle cx="104.2" cy="266.6" r="2.0"/><circle cx="109.8" cy="270.7" r="2.0"/><circle cx="100.0" cy="266.3" r="2.0"/><circle cx="110.4" cy="267.3" r="2.0"/><circle cx="111.4" cy="269.1" r="2.0"/><circle cx="113.8" cy="270.7" r="2.0"/><circle cx="102.0" cy="270.0" r="2.0"/><circle cx="104.4" cy="269.6" r="2.0"/><circle cx="103.8" cy="275.3" r="2.0"/><circle cx="114.0" cy="266.6" r="2.0"/><circle cx="106.6" cy="266.9" r="2.0"/><circle cx="112.2" cy="276.2" r="2.0"/><circle cx="98.5" cy="270.5" r="2.0"/><circle cx="104.6" cy="268.5" r="2.0"/><circle cx="98.2" cy="269.6" r="2.0"/><circle cx="113.6" cy="270.3" r="2.0"/><circle cx="106.9" cy="268.6" r="2.0"/><circle cx="113.7" cy="270.6" r="2.0"/><circle cx="102.9" cy="271.3" r="2.0"/><circle cx="95.4" cy="270.4" r="2.0"/><circle cx="101.6" cy="270.7" r="2.0"/><circle cx="94.6" cy="267.2" r="2.0"/><circle cx="106.1" cy="268.3" r="2.0"/><circle cx="97.1" cy="269.4" r="2.0"/><circle cx="104.7" cy="269.4" r="2.0"/><circle cx="99.5" cy="270.8" r="2.0"/><circle cx="104.0" cy="268.7" r="2.0"/><circle cx="92.9" cy="267.0" r="2.0"/><circle cx="97.9" cy="269.2" r="2.0"/><circle cx="98.9" cy="270.4" r="2.0"/><circle cx="109.7" cy="271.8" r="2.0"/><circle cx="111.9" cy="271.8" r="2.0"/><circle cx="101.2" cy="267.8" r="2.0"/><circle cx="95.1" cy="266.5" r="2.0"/><circle cx="108.9" cy="270.2" r="2.0"/><circle cx="100.4" cy="268.5" r="2.0"/><circle cx="111.4" cy="269.1" r="2.0"/><circle cx="109.0" cy="267.7" r="2.0"/><circle cx="103.1" cy="268.0" r="2.0"/><circle cx="112.8" cy="267.0" r="2.0"/><circle cx="92.7" cy="268.7" r="2.0"/><circle cx="103.6" cy="268.8" r="2.0"/><circle cx="101.9" cy="267.0" r="2.0"/><circle cx="106.0" cy="269.5" r="2.0"/><circle cx="102.8" cy="270.4" r="2.0"/><circle cx="101.3" cy="269.9" r="2.0"/><circle cx="99.8" cy="267.1" r="2.0"/><circle cx="103.7" cy="271.1" r="2.0"/><circle cx="99.4" cy="268.7" r="2.0"/><circle cx="105.5" cy="266.7" r="2.0"/><circle cx="99.8" cy="267.2" r="2.0"/><circle cx="113.8" cy="269.6" r="2.0"/><circle cx="112.7" cy="275.1" r="2.0"/><circle cx="105.1" cy="266.7" r="2.0"/><circle cx="109.7" cy="266.2" r="2.0"/><circle cx="104.1" cy="268.1" r="2.0"/><circle cx="101.2" cy="268.6" r="2.0"/><circle cx="100.4" cy="268.1" r="2.0"/><circle cx="104.2" cy="269.9" r="2.0"/><circle cx="101.5" cy="268.8" r="2.0"/><circle cx="112.1" cy="269.3" r="2.0"/><circle cx="102.4" cy="266.2" r="2.0"/><circle cx="100.2" cy="267.3" r="2.0"/><circle cx="96.4" cy="266.4" r="2.0"/><circle cx="110.9" cy="271.5" r="2.0"/><circle cx="112.4" cy="267.3" r="2.0"/><circle cx="114.5" cy="269.7" r="2.0"/><circle cx="96.1" cy="269.1" r="2.0"/><circle cx="103.8" cy="271.1" r="2.0"/><circle cx="106.6" cy="270.1" r="2.0"/><circle cx="114.6" cy="271.9" r="2.0"/><circle cx="101.7" cy="270.3" r="2.0"/><circle cx="107.9" cy="275.5" r="2.0"/><circle cx="111.2" cy="268.2" r="2.0"/><circle cx="97.0" cy="268.9" r="2.0"/><circle cx="98.5" cy="269.0" r="2.0"/><circle cx="114.7" cy="269.7" r="2.0"/><circle cx="95.3" cy="267.7" r="2.0"/><circle cx="95.0" cy="271.1" r="2.0"/><circle cx="104.2" cy="268.5" r="2.0"/><circle cx="110.4" cy="272.1" r="2.0"/><circle cx="109.7" cy="267.9" r="2.0"/><circle cx="100.5" cy="270.6" r="2.0"/><circle cx="94.8" cy="268.7" r="2.0"/><circle cx="100.3" cy="269.9" r="2.0"/><circle cx="93.9" cy="268.7" r="2.0"/><circle cx="113.8" cy="268.5" r="2.0"/><circle cx="98.1" cy="276.7" r="2.0"/><circle cx="111.5" cy="266.8" r="2.0"/><circle cx="110.7" cy="268.6" r="2.0"/><circle cx="113.8" cy="266.5" r="2.0"/><circle cx="98.0" cy="267.9" r="2.0"/><circle cx="97.5" cy="267.0" r="2.0"/><circle cx="103.3" cy="270.7" r="2.0"/><circle cx="96.5" cy="271.0" r="2.0"/><circle cx="114.1" cy="268.8" r="2.0"/><circle cx="95.2" cy="269.9" r="2.0"/><circle cx="101.5" cy="271.4" r="2.0"/><circle cx="110.9" cy="270.7" r="2.0"/><circle cx="96.9" cy="270.7" r="2.0"/><circle cx="93.4" cy="270.1" r="2.0"/><circle cx="96.1" cy="271.6" r="2.0"/><circle cx="98.6" cy="271.4" r="2.0"/><circle cx="102.4" cy="267.4" r="2.0"/><circle cx="96.2" cy="267.9" r="2.0"/><circle cx="101.0" cy="270.9" r="2.0"/><circle cx="113.6" cy="270.8" r="2.0"/><circle cx="102.6" cy="268.0" r="2.0"/><circle cx="98.4" cy="268.7" r="2.0"/><circle cx="100.8" cy="268.5" r="2.0"/><circle cx="97.3" cy="271.4" r="2.0"/><circle cx="104.0" cy="270.6" r="2.0"/><circle cx="109.7" cy="268.3" r="2.0"/><circle cx="105.2" cy="269.8" r="2.0"/><circle cx="94.5" cy="267.1" r="2.0"/><circle cx="99.7" cy="271.5" r="2.0"/><circle cx="105.0" cy="269.2" r="2.0"/><circle cx="99.2" cy="270.3" r="2.0"/><circle cx="97.6" cy="267.9" r="2.0"/><circle cx="98.9" cy="266.8" r="2.0"/><circle cx="109.7" cy="267.0" r="2.0"/><circle cx="95.6" cy="272.0" r="2.0"/><circle cx="107.6" cy="270.1" r="2.0"/><circle cx="101.8" cy="268.0" r="2.0"/><circle cx="98.1" cy="270.1" r="2.0"/><circle cx="106.5" cy="271.5" r="2.0"/><circle cx="112.8" cy="267.9" r="2.0"/><circle cx="93.5" cy="275.3" r="2.0"/><circle cx="97.0" cy="269.9" r="2.0"/><circle cx="93.5" cy="268.4" r="2.0"/><circle cx="96.6" cy="268.8" r="2.0"/><circle cx="108.5" cy="269.6" r="2.0"/><circle cx="107.7" cy="272.1" r="2.0"/><circle cx="111.1" cy="270.5" r="2.0"/><circle cx="93.6" cy="268.6" r="2.0"/><circle cx="93.7" cy="271.5" r="2.0"/><circle cx="110.1" cy="266.7" r="2.0"/><circle cx="109.2" cy="268.0" r="2.0"/><circle cx="101.3" cy="267.2" r="2.0"/><circle cx="98.8" cy="266.5" r="2.0"/><circle cx="102.0" cy="268.1" r="2.0"/><circle cx="108.9" cy="268.4" r="2.0"/><circle cx="102.6" cy="268.0" r="2.0"/><circle cx="102.1" cy="266.7" r="2.0"/><circle cx="95.5" cy="271.9" r="2.0"/><circle cx="108.2" cy="270.6" r="2.0"/><circle cx="104.7" cy="268.4" r="2.0"/><circle cx="104.6" cy="271.8" r="2.0"/><circle cx="100.5" cy="271.0" r="2.0"/><circle cx="99.5" cy="268.0" r="2.0"/><circle cx="107.4" cy="270.7" r="2.0"/><circle cx="104.0" cy="266.6" r="2.0"/><circle cx="100.4" cy="266.9" r="2.0"/><circle cx="95.8" cy="270.2" r="2.0"/><circle cx="110.6" cy="267.6" r="2.0"/><circle cx="96.4" cy="268.6" r="2.0"/><circle cx="102.8" cy="267.2" r="2.0"/><circle cx="95.2" cy="270.0" r="2.0"/><circle cx="97.2" cy="270.5" r="2.0"/><circle cx="97.0" cy="269.5" r="2.0"/><circle cx="95.1" cy="269.4" r="2.0"/><circle cx="100.7" cy="271.7" r="2.0"/><circle cx="92.9" cy="267.7" r="2.0"/><circle cx="94.5" cy="266.3" r="2.0"/><circle cx="105.1" cy="269.3" r="2.0"/><circle cx="102.2" cy="268.9" r="2.0"/><circle cx="92.8" cy="268.3" r="2.0"/><circle cx="106.5" cy="268.3" r="2.0"/><circle cx="98.2" cy="271.3" r="2.0"/><circle cx="93.3" cy="267.2" r="2.0"/><circle cx="99.2" cy="268.4" r="2.0"/><circle cx="111.3" cy="271.2" r="2.0"/><circle cx="110.0" cy="267.8" r="2.0"/><circle cx="99.9" cy="267.3" r="2.0"/><circle cx="99.7" cy="268.9" r="2.0"/><circle cx="100.8" cy="270.7" r="2.0"/><circle cx="93.6" cy="268.4" r="2.0"/><circle cx="110.7" cy="266.8" r="2.0"/><circle cx="113.5" cy="269.2" r="2.0"/><circle cx="96.1" cy="268.7" r="2.0"/><circle cx="94.4" cy="271.2" r="2.0"/><circle cx="102.4" cy="271.6" r="2.0"/><circle cx="93.5" cy="271.0" r="2.0"/><circle cx="108.6" cy="276.5" r="2.0"/><circle cx="111.5" cy="269.6" r="2.0"/><circle cx="98.9" cy="269.1" r="2.0"/><circle cx="101.9" cy="269.6" r="2.0"/><circle cx="107.3" cy="266.8" r="2.0"/><circle cx="96.3" cy="269.5" r="2.0"/><circle cx="105.1" cy="271.0" r="2.0"/><circle cx="94.5" cy="269.4" r="2.0"/><circle cx="114.1" cy="267.0" r="2.0"/><circle cx="114.2" cy="268.5" r="2.0"/><circle cx="110.5" cy="268.1" r="2.0"/><circle cx="106.1" cy="268.8" r="2.0"/><circle cx="113.7" cy="268.3" r="2.0"/><circle cx="99.3" cy="266.9" r="2.0"/><circle cx="93.3" cy="268.1" r="2.0"/><circle cx="102.5" cy="268.2" r="2.0"/><circle cx="100.9" cy="269.7" r="2.0"/><circle cx="104.3" cy="269.8" r="2.0"/><circle cx="95.2" cy="266.9" r="2.0"/><circle cx="104.7" cy="267.0" r="2.0"/><circle cx="98.2" cy="269.0" r="2.0"/><circle cx="98.2" cy="268.9" r="2.0"/><circle cx="97.6" cy="271.5" r="2.0"/><circle cx="104.0" cy="271.7" r="2.0"/><circle cx="101.6" cy="269.5" r="2.0"/><circle cx="111.7" cy="267.9" r="2.0"/><circle cx="109.4" cy="266.3" r="2.0"/><circle cx="108.6" cy="267.2" r="2.0"/><circle cx="101.3" cy="266.5" r="2.0"/><circle cx="105.1" cy="271.3" r="2.0"/><circle cx="109.8" cy="270.7" r="2.0"/><circle cx="100.9" cy="276.1" r="2.0"/><circle cx="97.3" cy="268.0" r="2.0"/><circle cx="102.0" cy="268.5" r="2.0"/><circle cx="111.9" cy="266.7" r="2.0"/><circle cx="111.9" cy="267.7" r="2.0"/><circle cx="100.2" cy="268.1" r="2.0"/><circle cx="110.9" cy="269.9" r="2.0"/><circle cx="108.9" cy="267.9" r="2.0"/><circle cx="93.6" cy="271.6" r="2.0"/><circle cx="104.8" cy="271.5" r="2.0"/><circle cx="113.1" cy="270.6" r="2.0"/><circle cx="96.9" cy="267.2" r="2.0"/><circle cx="105.5" cy="272.0" r="2.0"/><circle cx="95.1" cy="271.1" r="2.0"/><circle cx="104.9" cy="268.1" r="2.0"/><circle cx="101.0" cy="267.0" r="2.0"/><circle cx="104.5" cy="267.4" r="2.0"/><circle cx="113.6" cy="275.6" r="2.0"/><circle cx="96.0" cy="267.0" r="2.0"/><circle cx="110.3" cy="275.3" r="2.0"/><circle cx="110.7" cy="269.8" r="2.0"/><circle cx="130.7" cy="269.1" r="2.0"/><circle cx="130.8" cy="271.3" r="2.0"/><circle cx="140.7" cy="269.0" r="2.0"/><circle cx="131.9" cy="270.7" r="2.0"/><circle cx="124.0" cy="269.4" r="2.0"/><circle cx="134.4" cy="266.9" r="2.0"/><circle cx="139.4" cy="275.7" r="2.0"/><circle cx="138.6" cy="271.4" r="2.0"/><circle cx="123.6" cy="271.5" r="2.0"/><circle cx="128.1" cy="269.1" r="2.0"/><circle cx="130.2" cy="269.8" r="2.0"/><circle cx="142.2" cy="269.5" r="2.0"/><circle cx="130.8" cy="267.7" r="2.0"/><circle cx="123.5" cy="270.0" r="2.0"/><circle cx="131.7" cy="270.0" r="2.0"/><circle cx="127.7" cy="272.0" r="2.0"/><circle cx="124.7" cy="271.8" r="2.0"/><circle cx="124.2" cy="270.5" r="2.0"/><circle cx="127.4" cy="267.2" r="2.0"/><circle cx="122.2" cy="267.1" r="2.0"/><circle cx="124.7" cy="267.5" r="2.0"/><circle cx="133.9" cy="271.9" r="2.0"/><circle cx="130.0" cy="267.9" r="2.0"/><circle cx="126.8" cy="268.3" r="2.0"/><circle cx="138.1" cy="269.9" r="2.0"/><circle cx="133.0" cy="271.0" r="2.0"/><circle cx="141.7" cy="269.9" r="2.0"/><circle cx="134.9" cy="271.7" r="2.0"/><circle cx="136.9" cy="269.0" r="2.0"/><circle cx="131.2" cy="267.7" r="2.0"/><circle cx="120.8" cy="269.4" r="2.0"/><circle cx="130.4" cy="269.7" r="2.0"/><circle cx="130.7" cy="269.5" r="2.0"/><circle cx="131.1" cy="267.3" r="2.0"/><circle cx="135.0" cy="269.8" r="2.0"/><circle cx="121.1" cy="268.9" r="2.0"/><circle cx="137.2" cy="271.5" r="2.0"/><circle cx="125.1" cy="267.3" r="2.0"/><circle cx="122.5" cy="267.7" r="2.0"/><circle cx="132.7" cy="268.1" r="2.0"/><circle cx="135.9" cy="271.8" r="2.0"/><circle cx="135.5" cy="268.7" r="2.0"/><circle cx="142.3" cy="267.0" r="2.0"/><circle cx="123.4" cy="269.1" r="2.0"/><circle cx="120.4" cy="270.5" r="2.0"/><circle cx="126.0" cy="270.6" r="2.0"/><circle cx="139.2" cy="269.1" r="2.0"/><circle cx="129.5" cy="270.3" r="2.0"/><circle cx="139.4" cy="267.1" r="2.0"/><circle cx="125.9" cy="271.8" r="2.0"/><circle cx="132.1" cy="269.4" r="2.0"/><circle cx="131.0" cy="270.0" r="2.0"/><circle cx="137.9" cy="266.7" r="2.0"/><circle cx="132.5" cy="270.3" r="2.0"/><circle cx="132.0" cy="268.8" r="2.0"/><circle cx="127.4" cy="267.4" r="2.0"/><circle cx="126.7" cy="267.4" r="2.0"/><circle cx="133.3" cy="266.6" r="2.0"/><circle cx="130.1" cy="271.8" r="2.0"/><circle cx="129.8" cy="271.9" r="2.0"/><circle cx="139.3" cy="268.6" r="2.0"/><circle cx="124.2" cy="268.8" r="2.0"/><circle cx="137.9" cy="268.2" r="2.0"/><circle cx="135.1" cy="270.9" r="2.0"/><circle cx="138.7" cy="266.7" r="2.0"/><circle cx="124.8" cy="271.6" r="2.0"/><circle cx="137.5" cy="269.7" r="2.0"/><circle cx="134.8" cy="266.8" r="2.0"/><circle cx="135.4" cy="271.8" r="2.0"/><circle cx="135.6" cy="276.5" r="2.0"/><circle cx="126.7" cy="268.7" r="2.0"/><circle cx="127.3" cy="271.2" r="2.0"/><circle cx="140.4" cy="267.2" r="2.0"/><circle cx="123.6" cy="266.3" r="2.0"/><circle cx="128.9" cy="275.7" r="2.0"/><circle cx="134.4" cy="268.9" r="2.0"/><circle cx="122.3" cy="267.8" r="2.0"/><circle cx="129.7" cy="271.5" r="2.0"/><circle cx="138.5" cy="266.7" r="2.0"/><circle cx="142.2" cy="269.0" r="2.0"/><circle cx="126.7" cy="267.7" r="2.0"/><circle cx="131.2" cy="271.6" r="2.0"/><circle cx="130.9" cy="268.6" r="2.0"/><circle cx="132.2" cy="271.3" r="2.0"/><circle cx="126.2" cy="267.1" r="2.0"/><circle cx="125.2" cy="272.0" r="2.0"/><circle cx="133.5" cy="270.1" r="2.0"/><circle cx="141.1" cy="271.9" r="2.0"/><circle cx="127.6" cy="270.7" r="2.0"/><circle cx="136.6" cy="267.5" r="2.0"/><circle cx="126.8" cy="268.8" r="2.0"/><circle cx="122.3" cy="267.5" r="2.0"/><circle cx="133.4" cy="272.0" r="2.0"/><circle cx="131.6" cy="268.3" r="2.0"/><circle cx="123.1" cy="270.1" r="2.0"/><circle cx="128.5" cy="271.2" r="2.0"/><circle cx="124.0" cy="270.2" r="2.0"/><circle cx="138.8" cy="269.3" r="2.0"/><circle cx="123.5" cy="266.9" r="2.0"/><circle cx="122.8" cy="269.0" r="2.0"/><circle cx="122.8" cy="271.2" r="2.0"/><circle cx="132.1" cy="270.0" r="2.0"/><circle cx="124.6" cy="270.9" r="2.0"/><circle cx="123.0" cy="267.0" r="2.0"/><circle cx="131.3" cy="272.1" r="2.0"/><circle cx="141.1" cy="267.5" r="2.0"/><circle cx="132.8" cy="270.8" r="2.0"/><circle cx="136.8" cy="270.6" r="2.0"/><circle cx="120.9" cy="269.1" r="2.0"/><circle cx="126.7" cy="271.7" r="2.0"/><circle cx="133.0" cy="268.6" r="2.0"/><circle cx="137.5" cy="271.8" r="2.0"/><circle cx="125.7" cy="266.3" r="2.0"/><circle cx="121.1" cy="268.1" r="2.0"/><circle cx="138.2" cy="267.3" r="2.0"/><circle cx="130.4" cy="272.1" r="2.0"/><circle cx="141.0" cy="269.7" r="2.0"/><circle cx="122.2" cy="267.8" r="2.0"/><circle cx="135.2" cy="270.1" r="2.0"/><circle cx="123.3" cy="270.9" r="2.0"/><circle cx="127.5" cy="266.2" r="2.0"/><circle cx="137.7" cy="269.2" r="2.0"/><circle cx="137.4" cy="267.7" r="2.0"/><circle cx="134.3" cy="268.4" r="2.0"/><circle cx="138.9" cy="271.6" r="2.0"/><circle cx="136.1" cy="271.2" r="2.0"/><circle cx="141.6" cy="267.7" r="2.0"/><circle cx="123.2" cy="266.6" r="2.0"/><circle cx="140.2" cy="267.2" r="2.0"/><circle cx="137.9" cy="269.6" r="2.0"/><circle cx="138.4" cy="267.0" r="2.0"/><circle cx="126.8" cy="269.0" r="2.0"/><circle cx="141.1" cy="266.4" r="2.0"/><circle cx="137.6" cy="267.2" r="2.0"/><circle cx="125.4" cy="269.4" r="2.0"/><circle cx="125.5" cy="266.8" r="2.0"/><circle cx="135.4" cy="269.8" r="2.0"/><circle cx="137.5" cy="268.1" r="2.0"/><circle cx="141.0" cy="269.7" r="2.0"/><circle cx="122.2" cy="267.2" r="2.0"/><circle cx="127.7" cy="267.2" r="2.0"/><circle cx="137.7" cy="275.9" r="2.0"/><circle cx="120.6" cy="267.3" r="2.0"/><circle cx="129.5" cy="269.4" r="2.0"/><circle cx="127.6" cy="270.1" r="2.0"/><circle cx="138.9" cy="270.4" r="2.0"/><circle cx="122.2" cy="268.0" r="2.0"/><circle cx="130.0" cy="267.4" r="2.0"/><circle cx="122.9" cy="271.9" r="2.0"/><circle cx="138.4" cy="270.5" r="2.0"/><circle cx="141.4" cy="270.8" r="2.0"/><circle cx="139.9" cy="266.9" r="2.0"/><circle cx="128.9" cy="266.5" r="2.0"/><circle cx="131.4" cy="271.0" r="2.0"/><circle cx="138.6" cy="269.0" r="2.0"/><circle cx="120.2" cy="266.6" r="2.0"/><circle cx="130.3" cy="270.7" r="2.0"/><circle cx="128.0" cy="268.9" r="2.0"/><circle cx="139.3" cy="269.9" r="2.0"/><circle cx="140.7" cy="268.2" r="2.0"/><circle cx="121.9" cy="269.5" r="2.0"/><circle cx="141.4" cy="268.2" r="2.0"/><circle cx="134.2" cy="269.1" r="2.0"/><circle cx="135.2" cy="269.2" r="2.0"/><circle cx="128.3" cy="271.8" r="2.0"/><circle cx="138.7" cy="268.8" r="2.0"/><circle cx="130.1" cy="266.9" r="2.0"/><circle cx="136.3" cy="271.9" r="2.0"/><circle cx="127.4" cy="266.5" r="2.0"/><circle cx="139.9" cy="268.7" r="2.0"/><circle cx="133.0" cy="275.7" r="2.0"/><circle cx="136.7" cy="270.5" r="2.0"/><circle cx="137.1" cy="268.9" r="2.0"/><circle cx="129.5" cy="268.3" r="2.0"/><circle cx="138.0" cy="269.9" r="2.0"/><circle cx="141.5" cy="268.1" r="2.0"/><circle cx="155.9" cy="271.1" r="2.0"/><circle cx="152.8" cy="266.8" r="2.0"/><circle cx="149.6" cy="271.9" r="2.0"/><circle cx="157.5" cy="271.0" r="2.0"/><circle cx="164.4" cy="266.6" r="2.0"/><circle cx="156.7" cy="272.1" r="2.0"/><circle cx="168.8" cy="269.3" r="2.0"/><circle cx="159.1" cy="269.2" r="2.0"/><circle cx="169.7" cy="270.9" r="2.0"/><circle cx="166.2" cy="266.2" r="2.0"/><circle cx="157.9" cy="266.5" r="2.0"/><circle cx="154.9" cy="270.1" r="2.0"/><circle cx="162.6" cy="275.7" r="2.0"/><circle cx="151.4" cy="272.2" r="2.0"/><circle cx="161.2" cy="269.5" r="2.0"/><circle cx="160.2" cy="271.3" r="2.0"/><circle cx="153.1" cy="266.5" r="2.0"/><circle cx="151.1" cy="269.1" r="2.0"/><circle cx="160.7" cy="271.8" r="2.0"/><circle cx="153.0" cy="268.7" r="2.0"/><circle cx="157.8" cy="266.9" r="2.0"/><circle cx="162.4" cy="266.5" r="2.0"/><circle cx="153.8" cy="269.7" r="2.0"/><circle cx="149.0" cy="271.5" r="2.0"/><circle cx="148.2" cy="270.4" r="2.0"/><circle cx="169.2" cy="269.7" r="2.0"/><circle cx="159.5" cy="267.4" r="2.0"/><circle cx="162.2" cy="271.5" r="2.0"/><circle cx="153.2" cy="268.7" r="2.0"/><circle cx="165.5" cy="266.4" r="2.0"/><circle cx="152.1" cy="266.8" r="2.0"/><circle cx="160.4" cy="268.1" r="2.0"/><circle cx="153.5" cy="270.0" r="2.0"/><circle cx="159.4" cy="271.7" r="2.0"/><circle cx="164.2" cy="269.4" r="2.0"/><circle cx="162.7" cy="272.1" r="2.0"/><circle cx="158.3" cy="268.0" r="2.0"/><circle cx="162.1" cy="266.5" r="2.0"/><circle cx="165.2" cy="269.6" r="2.0"/><circle cx="169.0" cy="269.7" r="2.0"/><circle cx="169.0" cy="270.8" r="2.0"/><circle cx="164.1" cy="268.2" r="2.0"/><circle cx="164.8" cy="270.8" r="2.0"/><circle cx="152.6" cy="271.9" r="2.0"/><circle cx="150.8" cy="269.7" r="2.0"/><circle cx="149.5" cy="266.6" r="2.0"/><circle cx="160.6" cy="268.0" r="2.0"/><circle cx="157.5" cy="269.3" r="2.0"/><circle cx="148.2" cy="271.2" r="2.0"/><circle cx="156.0" cy="267.6" r="2.0"/><circle cx="166.3" cy="268.4" r="2.0"/><circle cx="163.4" cy="271.0" r="2.0"/><circle cx="164.7" cy="270.6" r="2.0"/><circle cx="166.0" cy="267.1" r="2.0"/><circle cx="167.1" cy="271.0" r="2.0"/><circle cx="148.2" cy="267.9" r="2.0"/><circle cx="153.8" cy="272.1" r="2.0"/><circle cx="151.6" cy="272.1" r="2.0"/><circle cx="152.9" cy="267.9" r="2.0"/><circle cx="169.6" cy="275.2" r="2.0"/><circle cx="168.5" cy="271.3" r="2.0"/><circle cx="155.2" cy="270.3" r="2.0"/><circle cx="157.0" cy="270.6" r="2.0"/><circle cx="149.0" cy="271.2" r="2.0"/><circle cx="149.8" cy="268.0" r="2.0"/><circle cx="153.6" cy="267.8" r="2.0"/><circle cx="155.4" cy="271.0" r="2.0"/><circle cx="168.3" cy="271.9" r="2.0"/><circle cx="151.2" cy="269.9" r="2.0"/><circle cx="163.6" cy="267.4" r="2.0"/><circle cx="165.5" cy="268.7" r="2.0"/><circle cx="152.0" cy="267.4" r="2.0"/><circle cx="165.3" cy="271.6" r="2.0"/><circle cx="162.5" cy="271.3" r="2.0"/><circle cx="152.1" cy="271.5" r="2.0"/><circle cx="161.8" cy="270.6" r="2.0"/><circle cx="157.2" cy="267.9" r="2.0"/><circle cx="148.5" cy="270.8" r="2.0"/><circle cx="154.2" cy="268.1" r="2.0"/><circle cx="161.4" cy="270.9" r="2.0"/><circle cx="154.7" cy="270.6" r="2.0"/><circle cx="151.3" cy="267.6" r="2.0"/><circle cx="166.1" cy="266.5" r="2.0"/><circle cx="165.4" cy="270.3" r="2.0"/><circle cx="163.7" cy="268.5" r="2.0"/><circle cx="149.8" cy="275.9" r="2.0"/><circle cx="151.2" cy="267.0" r="2.0"/><circle cx="158.0" cy="271.4" r="2.0"/><circle cx="159.0" cy="270.0" r="2.0"/><circle cx="163.6" cy="267.6" r="2.0"/><circle cx="150.2" cy="269.9" r="2.0"/><circle cx="158.5" cy="268.2" r="2.0"/><circle cx="152.7" cy="269.3" r="2.0"/><circle cx="163.5" cy="270.0" r="2.0"/><circle cx="157.7" cy="266.6" r="2.0"/><circle cx="161.5" cy="269.5" r="2.0"/><circle cx="161.9" cy="271.9" r="2.0"/><circle cx="169.5" cy="271.4" r="2.0"/><circle cx="158.1" cy="270.4" r="2.0"/><circle cx="149.3" cy="267.6" r="2.0"/><circle cx="157.5" cy="269.8" r="2.0"/><circle cx="194.7" cy="271.5" r="2.0"/><circle cx="183.8" cy="272.1" r="2.0"/><circle cx="176.3" cy="267.0" r="2.0"/><circle cx="197.4" cy="266.8" r="2.0"/><circle cx="192.8" cy="268.7" r="2.0"/><circle cx="196.8" cy="266.5" r="2.0"/><circle cx="187.9" cy="269.1" r="2.0"/><circle cx="186.1" cy="269.9" r="2.0"/><circle cx="186.7" cy="270.8" r="2.0"/><circle cx="181.5" cy="269.2" r="2.0"/><circle cx="184.7" cy="271.1" r="2.0"/><circle cx="187.2" cy="267.6" r="2.0"/><circle cx="190.9" cy="269.1" r="2.0"/><circle cx="180.9" cy="269.1" r="2.0"/><circle cx="183.7" cy="269.8" r="2.0"/><circle cx="191.1" cy="269.3" r="2.0"/><circle cx="191.6" cy="269.5" r="2.0"/><circle cx="183.3" cy="270.0" r="2.0"/><circle cx="192.1" cy="270.9" r="2.0"/><circle cx="180.6" cy="268.3" r="2.0"/><circle cx="190.3" cy="268.0" r="2.0"/><circle cx="181.4" cy="270.0" r="2.0"/><circle cx="176.1" cy="269.0" r="2.0"/><circle cx="190.2" cy="267.4" r="2.0"/><circle cx="180.5" cy="271.5" r="2.0"/><circle cx="193.0" cy="269.3" r="2.0"/><circle cx="183.6" cy="269.3" r="2.0"/><circle cx="191.1" cy="267.1" r="2.0"/><circle cx="194.6" cy="269.7" r="2.0"/><circle cx="182.3" cy="271.1" r="2.0"/><circle cx="178.9" cy="266.7" r="2.0"/><circle cx="194.2" cy="267.1" r="2.0"/><circle cx="195.1" cy="271.0" r="2.0"/><circle cx="192.5" cy="271.4" r="2.0"/><circle cx="195.3" cy="269.8" r="2.0"/><circle cx="188.6" cy="272.0" r="2.0"/><circle cx="184.0" cy="272.1" r="2.0"/><circle cx="183.6" cy="270.2" r="2.0"/><circle cx="190.4" cy="271.0" r="2.0"/><circle cx="175.9" cy="268.5" r="2.0"/><circle cx="181.9" cy="267.1" r="2.0"/><circle cx="195.5" cy="268.7" r="2.0"/><circle cx="188.1" cy="271.9" r="2.0"/><circle cx="182.6" cy="268.6" r="2.0"/><circle cx="186.7" cy="270.9" r="2.0"/><circle cx="182.3" cy="270.0" r="2.0"/><circle cx="195.3" cy="266.3" r="2.0"/><circle cx="223.4" cy="266.4" r="2.0"/><circle cx="206.1" cy="268.4" r="2.0"/><circle cx="222.3" cy="266.3" r="2.0"/><circle cx="203.6" cy="267.3" r="2.0"/><circle cx="211.3" cy="270.9" r="2.0"/><circle cx="219.6" cy="269.7" r="2.0"/><circle cx="207.3" cy="267.8" r="2.0"/><circle cx="205.0" cy="270.8" r="2.0"/><circle cx="211.3" cy="268.7" r="2.0"/><circle cx="222.7" cy="268.4" r="2.0"/><circle cx="211.1" cy="271.7" r="2.0"/><circle cx="214.5" cy="269.5" r="2.0"/><circle cx="224.7" cy="270.1" r="2.0"/><circle cx="212.2" cy="266.6" r="2.0"/><circle cx="216.0" cy="269.6" r="2.0"/><circle cx="208.5" cy="269.2" r="2.0"/><circle cx="212.9" cy="268.8" r="2.0"/><circle cx="207.6" cy="271.2" r="2.0"/><circle cx="210.6" cy="266.9" r="2.0"/><circle cx="208.2" cy="269.5" r="2.0"/><circle cx="214.9" cy="271.9" r="2.0"/><circle cx="251.1" cy="272.1" r="2.0"/><circle cx="232.2" cy="275.8" r="2.0"/><circle cx="231.2" cy="268.4" r="2.0"/><circle cx="235.1" cy="269.7" r="2.0"/><circle cx="251.8" cy="268.5" r="2.0"/><circle cx="242.6" cy="267.5" r="2.0"/><circle cx="230.7" cy="270.3" r="2.0"/><circle cx="250.1" cy="271.9" r="2.0"/><circle cx="237.2" cy="267.4" r="2.0"/><circle cx="233.0" cy="269.8" r="2.0"/><circle cx="242.2" cy="269.6" r="2.0"/><circle cx="252.5" cy="266.7" r="2.0"/><circle cx="246.8" cy="271.3" r="2.0"/><circle cx="231.4" cy="268.2" r="2.0"/><circle cx="244.5" cy="270.6" r="2.0"/><circle cx="272.6" cy="267.0" r="2.0"/><circle cx="258.9" cy="275.8" r="2.0"/><circle cx="260.3" cy="271.6" r="2.0"/><circle cx="294.4" cy="271.2" r="2.0"/><circle cx="307.4" cy="267.8" r="2.0"/><circle cx="294.9" cy="275.7" r="2.0"/><circle cx="298.4" cy="266.3" r="2.0"/><circle cx="298.7" cy="272.0" r="2.0"/><circle cx="331.2" cy="267.7" r="2.0"/><circle cx="331.3" cy="272.0" r="2.0"/><circle cx="326.3" cy="268.4" r="2.0"/><circle cx="326.7" cy="267.3" r="2.0"/><circle cx="114.2" cy="258.6" r="2.0"/><circle cx="141.8" cy="259.4" r="2.0"/><circle cx="167.1" cy="262.4" r="2.0"/><circle cx="204.0" cy="261.0" r="2.0"/></g>
<rect x="31.5" y="21.2" width="221.7" height="8.8" fill="#70AD47"/><rect x="31.5" y="30.00" width="221.7" height="8.39" fill="#E2EFDA"/><rect x="31.5" y="38.39" width="221.7" height="8.39" fill="#FFFFFF"/><rect x="31.5" y="46.78" width="221.7" height="8.39" fill="#E2EFDA"/><rect x="31.5" y="55.17" width="221.7" height="8.39" fill="#FFFFFF"/><rect x="31.5" y="63.56" width="221.7" height="8.39" fill="#E2EFDA"/><rect x="31.5" y="71.95" width="221.7" height="8.39" fill="#FFFFFF"/><rect x="31.5" y="80.35" width="221.7" height="8.39" fill="#E2EFDA"/><rect x="31.5" y="88.74" width="221.7" height="8.39" fill="#FFFFFF"/><rect x="31.5" y="97.13" width="221.7" height="8.39" fill="#E2EFDA"/><rect x="31.5" y="105.52" width="221.7" height="8.39" fill="#FFFFFF"/><rect x="31.5" y="113.91" width="221.7" height="8.39" fill="#E2EFDA"/><line x1="105.6" y1="30.0" x2="105.6" y2="122.3" stroke="#C6E0B4" stroke-width="0.8"/><line x1="179.4" y1="30.0" x2="179.4" y2="122.3" stroke="#C6E0B4" stroke-width="0.8"/><line x1="31.5" y1="122.3" x2="253.2" y2="122.3" stroke="#C6E0B4" stroke-width="0.6"/><line x1="31.9" y1="30.0" x2="31.9" y2="122.3" stroke="#D3E7C7" stroke-width="0.8"/><line x1="252.79999999999998" y1="30.0" x2="252.79999999999998" y2="122.3" stroke="#D3E7C7" stroke-width="0.8"/>
<g font-family="Liberation Serif" font-weight="bold" font-size="5.5" fill="#000"><text x="71.2" y="28.47" text-anchor="middle">Alliance Propensity</text><text x="142.5" y="28.47" text-anchor="middle">Division(%)</text><text x="218.5" y="28.47" text-anchor="middle">Unification(%)</text><text x="68.5" y="36.37" text-anchor="middle">0</text><text x="142.5" y="36.37" text-anchor="middle">0.33%</text><text x="216.3" y="36.37" text-anchor="middle">99.67%</text><text x="68.5" y="44.76" text-anchor="middle">0.1</text><text x="142.5" y="44.76" text-anchor="middle">2.67%</text><text x="216.3" y="44.76" text-anchor="middle">97.33%</text><text x="68.5" y="53.15" text-anchor="middle">0.2</text><text x="142.5" y="53.15" text-anchor="middle">17.67%</text><text x="216.3" y="53.15" text-anchor="middle">82.33%</text><text x="68.5" y="61.54" text-anchor="middle">0.3</text><text x="142.5" y="61.54" text-anchor="middle">41.33%</text><text x="216.3" y="61.54" text-anchor="middle">58.67</text><text x="68.5" y="69.93" text-anchor="middle">0.4</text><text x="142.5" y="69.93" text-anchor="middle">66.33%</text><text x="216.3" y="69.93" text-anchor="middle">33.67%</text><text x="68.5" y="78.32" text-anchor="middle">0.5</text><text x="142.5" y="78.32" text-anchor="middle">84.33%</text><text x="216.3" y="78.32" text-anchor="middle">15.67%</text><text x="68.5" y="86.71" text-anchor="middle">0.6</text><text x="142.5" y="86.71" text-anchor="middle">93%</text><text x="216.3" y="86.71" text-anchor="middle">7%</text><text x="68.5" y="95.10" text-anchor="middle">0.7</text><text x="142.5" y="95.10" text-anchor="middle">95%</text><text x="216.3" y="95.10" text-anchor="middle">5%</text><text x="68.5" y="103.49" text-anchor="middle">0.8</text><text x="142.5" y="103.49" text-anchor="middle">99%</text><text x="216.3" y="103.49" text-anchor="middle">1%</text><text x="68.5" y="111.88" text-anchor="middle">0.9</text><text x="142.5" y="111.88" text-anchor="middle">98.33%</text><text x="216.3" y="111.88" text-anchor="middle">1.67%</text><text x="68.5" y="120.27" text-anchor="middle">1</text><text x="142.5" y="120.27" text-anchor="middle">98.67%</text><text x="216.3" y="120.27" text-anchor="middle">1.33%</text></g>
<g stroke="#222" stroke-width="1.25" fill="none" stroke-linejoin="round">
<polyline points="22.9,4.5 22.9,289.3 350.2,289.3"/>
<line x1="20.3" y1="276.6" x2="22.9" y2="276.6"/><line x1="20.3" y1="202.5" x2="22.9" y2="202.5"/><line x1="20.3" y1="128.4" x2="22.9" y2="128.4"/><line x1="20.3" y1="54.3" x2="22.9" y2="54.3"/><line x1="48.5" y1="289.3" x2="48.5" y2="291.6"/><line x1="117.5" y1="289.3" x2="117.5" y2="291.6"/><line x1="186.4" y1="289.3" x2="186.4" y2="291.6"/><line x1="255.4" y1="289.3" x2="255.4" y2="291.6"/><line x1="324.4" y1="289.3" x2="324.4" y2="291.6"/>
</g>
<g font-size="6.5" fill="#4D4D4D"><text x="18.8" y="278.9" text-anchor="end">0</text><text x="18.8" y="204.8" text-anchor="end">10</text><text x="18.8" y="130.7" text-anchor="end">20</text><text x="18.8" y="56.6" text-anchor="end">30</text><text x="48.5" y="298.6" text-anchor="middle">0.00</text><text x="117.5" y="298.6" text-anchor="middle">0.25</text><text x="186.4" y="298.6" text-anchor="middle">0.50</text><text x="255.4" y="298.6" text-anchor="middle">0.75</text><text x="324.4" y="298.6" text-anchor="middle">1.00</text></g>
<text x="198" y="308.7" font-size="9.1" text-anchor="middle" fill="#111">Alliance Propensity</text>
<text transform="translate(7.1,147.4) rotate(-90)" font-size="9.1" text-anchor="middle" fill="#111">The Number of States</text>
<circle cx="322" cy="20.4" r="4.8" fill="#FF8C00"/>
<path d="M322.8 29.7L329.1 40.6L316.5 40.6Z" fill="#00A087"/>
<text x="332.3" y="22.9" font-size="7.35" fill="#222">Unity</text>
<text x="334" y="39" font-size="7.35" fill="#222">Disunity</text>
<!-- tree -->
<g stroke="#2a2a2a" stroke-width="1" fill="none" stroke-linejoin="round">
<polyline points="393,214.3 393,122.5 426.3,122.5"/>
<line x1="452" y1="122.5" x2="456.4" y2="122.5"/>
<line x1="583.9" y1="122.5" x2="589" y2="122.5"/>
<polyline points="609.2,122.5 648.5,122.5 648.5,214.4"/>
</g>
<rect x="426.3" y="111.5" width="25.6" height="21.4" rx="3.5" fill="#fff" stroke="#333" stroke-width="0.9"/>
<rect x="589" y="111.5" width="20.2" height="21.4" rx="3.5" fill="#fff" stroke="#333" stroke-width="0.9"/>
<text x="438.4" y="125.8" font-size="9.3" font-style="italic" text-anchor="middle" fill="#222">yes</text>
<text x="599.1" y="125.8" font-size="9.3" font-style="italic" text-anchor="middle" fill="#222">no</text>
<text x="520.1" y="125.7" font-size="11.95" font-weight="bold" text-anchor="middle" fill="#000">Alliance &lt; 0.35%?</text>
<g font-size="11.7" fill="#000">
<rect x="494" y="32.4" width="59.0" height="70.6" rx="17" ry="14.5" fill="#00A087" stroke="#111" stroke-width="0.9"/><text x="524.4" y="56.8" text-anchor="middle">1</text><text x="507.8" y="72.6" text-anchor="middle">0.37</text><text x="537.8" y="72.6" text-anchor="middle">0.63</text><text x="525.5" y="87.3" text-anchor="middle">100%</text><rect x="366.3" y="214.3" width="60.3" height="69.3" rx="17" ry="14.5" fill="#FF8C00" stroke="#111" stroke-width="0.9"/><text x="396.4" y="240.4" text-anchor="middle">0</text><text x="380.5" y="253.8" text-anchor="middle">0.84</text><text x="411.0" y="253.8" text-anchor="middle">0.16</text><text x="397.8" y="269.0" text-anchor="middle">36%</text><rect x="621.3" y="214.4" width="62.1" height="68.8" rx="17" ry="14.5" fill="#00A087" stroke="#111" stroke-width="0.9"/><text x="652.9" y="239.0" text-anchor="middle">1</text><text x="638.5" y="253.8" text-anchor="middle">0.09</text><text x="668.5" y="253.8" text-anchor="middle">0.91</text><text x="655.1" y="268.0" text-anchor="middle">64%</text>
</g>
<rect x="643.3" y="22.8" width="11.6" height="11" fill="#FF8C00"/>
<rect x="643.3" y="36.7" width="11.6" height="11" fill="#00A087"/>
<text x="649.1" y="32.7" font-size="10" font-weight="bold" font-family="Liberation Serif" text-anchor="middle" fill="#222">0</text>
<text x="649.1" y="46.4" font-size="10" font-weight="bold" font-family="Liberation Serif" text-anchor="middle" fill="#222">1</text>
<text x="657.6" y="32.5" font-size="7.45" fill="#222">Unity</text>
<text x="657.6" y="46.3" font-size="7.45" fill="#222">Disunity</text>
</svg>
</body></html>
